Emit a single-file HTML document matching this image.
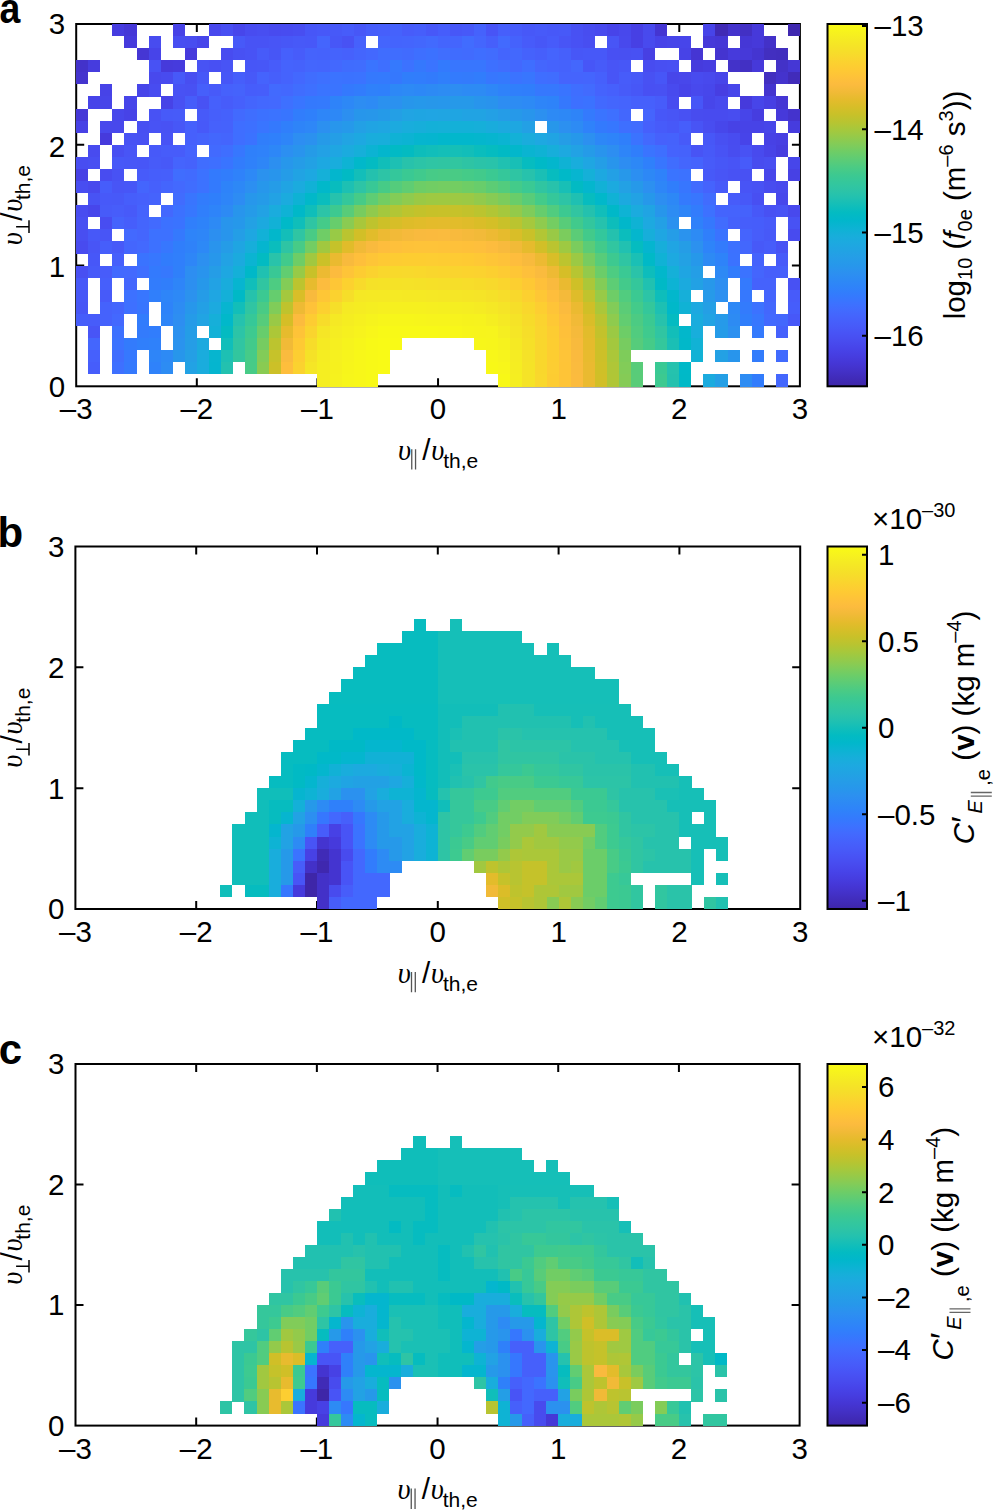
<!DOCTYPE html><html><head><meta charset="utf-8"><style>html,body{margin:0;padding:0;background:#fff;overflow:hidden}svg{display:block}text{font-family:"Liberation Sans",sans-serif;font-size:29.5px;fill:#000}.u{font-family:"Liberation Serif",serif;font-style:italic;font-size:28.5px}.sub{font-size:20px}.sup{font-size:20px}.pl{font-weight:bold;font-size:42px}</style></head><body>
<svg width="994" height="1510" viewBox="0 0 994 1510">
<rect width="994" height="1510" fill="#fff"/>
<defs><linearGradient id="pg" x1="0" y1="1" x2="0" y2="0"><stop offset="0.0000" stop-color="#3e26a8"/><stop offset="0.0208" stop-color="#402bb8"/><stop offset="0.0417" stop-color="#4331c7"/><stop offset="0.0625" stop-color="#4536d5"/><stop offset="0.0833" stop-color="#463de0"/><stop offset="0.1042" stop-color="#4744e9"/><stop offset="0.1250" stop-color="#484cef"/><stop offset="0.1458" stop-color="#4853f5"/><stop offset="0.1667" stop-color="#475bf9"/><stop offset="0.1875" stop-color="#4562fc"/><stop offset="0.2083" stop-color="#426afe"/><stop offset="0.2292" stop-color="#3c72ff"/><stop offset="0.2500" stop-color="#347afd"/><stop offset="0.2708" stop-color="#2f82fa"/><stop offset="0.2917" stop-color="#2d89f5"/><stop offset="0.3125" stop-color="#2c90f0"/><stop offset="0.3333" stop-color="#2797eb"/><stop offset="0.3542" stop-color="#259de7"/><stop offset="0.3750" stop-color="#21a3e3"/><stop offset="0.3958" stop-color="#1da9e0"/><stop offset="0.4167" stop-color="#17aeda"/><stop offset="0.4375" stop-color="#0cb3d3"/><stop offset="0.4583" stop-color="#01b7cb"/><stop offset="0.4792" stop-color="#03bbc2"/><stop offset="0.5000" stop-color="#12beb9"/><stop offset="0.5208" stop-color="#22c1b0"/><stop offset="0.5417" stop-color="#2dc4a6"/><stop offset="0.5625" stop-color="#34c79c"/><stop offset="0.5833" stop-color="#3dc990"/><stop offset="0.6042" stop-color="#4bcb84"/><stop offset="0.6250" stop-color="#5ccc76"/><stop offset="0.6458" stop-color="#6dcd67"/><stop offset="0.6667" stop-color="#81cc59"/><stop offset="0.6875" stop-color="#94ca4a"/><stop offset="0.7083" stop-color="#a6c83c"/><stop offset="0.7292" stop-color="#b8c431"/><stop offset="0.7500" stop-color="#c8c129"/><stop offset="0.7708" stop-color="#d7be28"/><stop offset="0.7917" stop-color="#e5bb2c"/><stop offset="0.8125" stop-color="#f1ba37"/><stop offset="0.8333" stop-color="#fcbb3e"/><stop offset="0.8542" stop-color="#fec239"/><stop offset="0.8750" stop-color="#feca33"/><stop offset="0.8958" stop-color="#fbd22f"/><stop offset="0.9167" stop-color="#f7db2b"/><stop offset="0.9375" stop-color="#f5e327"/><stop offset="0.9583" stop-color="#f5eb23"/><stop offset="0.9792" stop-color="#f7f31d"/><stop offset="1.0000" stop-color="#f9fb15"/></linearGradient></defs>
<rect x="76.20" y="24.00" width="723.70" height="362.30" fill="none" stroke="#000" stroke-width="2"/>
<path d="M196.82 386.30v-8M196.82 24.00v8M317.43 386.30v-8M317.43 24.00v8M438.05 386.30v-8M438.05 24.00v8M558.67 386.30v-8M558.67 24.00v8M679.28 386.30v-8M679.28 24.00v8M76.20 265.53h8M799.90 265.53h-8M76.20 144.77h8M799.90 144.77h-8" stroke="#000" stroke-width="2" fill="none"/>
<g shape-rendering="crispEdges">
<rect x="112.38" y="24.00" width="12.11" height="12.13" fill="#463cdf"/>
<rect x="124.45" y="24.00" width="12.11" height="12.13" fill="#4537d7"/>
<rect x="172.69" y="24.00" width="12.11" height="12.13" fill="#4742e6"/>
<rect x="208.88" y="24.00" width="12.11" height="12.13" fill="#4848ed"/>
<rect x="220.94" y="24.00" width="12.11" height="12.13" fill="#484ff2"/>
<rect x="233.00" y="24.00" width="12.11" height="12.13" fill="#4746eb"/>
<rect x="245.06" y="24.00" width="12.11" height="12.13" fill="#484cf0"/>
<rect x="257.12" y="24.00" width="12.11" height="12.13" fill="#484ef1"/>
<rect x="269.19" y="24.00" width="12.11" height="12.13" fill="#484bef"/>
<rect x="281.25" y="24.00" width="12.11" height="12.13" fill="#484cf0"/>
<rect x="293.31" y="24.00" width="12.11" height="12.13" fill="#484ef1"/>
<rect x="305.37" y="24.00" width="12.11" height="12.13" fill="#4756f7"/>
<rect x="317.43" y="24.00" width="12.11" height="12.13" fill="#4758f8"/>
<rect x="329.50" y="24.00" width="12.11" height="12.13" fill="#4759f8"/>
<rect x="341.56" y="24.00" width="12.11" height="12.13" fill="#475cfa"/>
<rect x="353.62" y="24.00" width="12.11" height="12.13" fill="#4757f7"/>
<rect x="365.68" y="24.00" width="12.11" height="12.13" fill="#465dfa"/>
<rect x="377.74" y="24.00" width="12.11" height="12.13" fill="#465ffb"/>
<rect x="389.80" y="24.00" width="12.11" height="12.13" fill="#4562fc"/>
<rect x="401.86" y="24.00" width="12.11" height="12.13" fill="#475cfa"/>
<rect x="413.93" y="24.00" width="12.11" height="12.13" fill="#465efb"/>
<rect x="425.99" y="24.00" width="12.11" height="12.13" fill="#4758f8"/>
<rect x="438.05" y="24.00" width="12.11" height="12.13" fill="#465dfb"/>
<rect x="450.11" y="24.00" width="12.11" height="12.13" fill="#4757f7"/>
<rect x="462.17" y="24.00" width="12.11" height="12.13" fill="#4759f8"/>
<rect x="474.23" y="24.00" width="12.11" height="12.13" fill="#4562fc"/>
<rect x="486.30" y="24.00" width="12.11" height="12.13" fill="#4854f6"/>
<rect x="498.36" y="24.00" width="12.11" height="12.13" fill="#465ffb"/>
<rect x="510.42" y="24.00" width="12.11" height="12.13" fill="#475cfa"/>
<rect x="522.48" y="24.00" width="12.11" height="12.13" fill="#4758f8"/>
<rect x="534.54" y="24.00" width="12.11" height="12.13" fill="#475af9"/>
<rect x="546.61" y="24.00" width="12.11" height="12.13" fill="#4758f8"/>
<rect x="558.67" y="24.00" width="12.11" height="12.13" fill="#4759f8"/>
<rect x="570.73" y="24.00" width="12.11" height="12.13" fill="#4851f3"/>
<rect x="582.79" y="24.00" width="12.11" height="12.13" fill="#484df0"/>
<rect x="594.85" y="24.00" width="12.11" height="12.13" fill="#484aee"/>
<rect x="606.91" y="24.00" width="12.11" height="12.13" fill="#4744e9"/>
<rect x="618.98" y="24.00" width="12.11" height="12.13" fill="#4848ec"/>
<rect x="631.04" y="24.00" width="12.11" height="12.13" fill="#4740e4"/>
<rect x="643.10" y="24.00" width="12.11" height="12.13" fill="#484aed"/>
<rect x="655.16" y="24.00" width="12.11" height="12.13" fill="#4435d2"/>
<rect x="703.41" y="24.00" width="12.11" height="12.13" fill="#4744e8"/>
<rect x="715.47" y="24.00" width="12.11" height="12.13" fill="#402ab5"/>
<rect x="727.53" y="24.00" width="12.11" height="12.13" fill="#4433cc"/>
<rect x="739.59" y="24.00" width="12.11" height="12.13" fill="#4230c4"/>
<rect x="751.65" y="24.00" width="12.11" height="12.13" fill="#4639da"/>
<rect x="787.84" y="24.00" width="12.11" height="12.13" fill="#3f28af"/>
<rect x="124.45" y="36.08" width="12.11" height="12.13" fill="#463adc"/>
<rect x="148.57" y="36.08" width="12.11" height="12.13" fill="#484cef"/>
<rect x="172.69" y="36.08" width="12.11" height="12.13" fill="#484ef1"/>
<rect x="184.75" y="36.08" width="12.11" height="12.13" fill="#484df0"/>
<rect x="196.82" y="36.08" width="12.11" height="12.13" fill="#4746ea"/>
<rect x="233.00" y="36.08" width="12.11" height="12.13" fill="#4759f8"/>
<rect x="245.06" y="36.08" width="24.17" height="12.13" fill="#4853f5"/>
<rect x="269.19" y="36.08" width="12.11" height="12.13" fill="#4855f6"/>
<rect x="281.25" y="36.08" width="12.11" height="12.13" fill="#4757f7"/>
<rect x="293.31" y="36.08" width="12.11" height="12.13" fill="#4759f8"/>
<rect x="305.37" y="36.08" width="12.11" height="12.13" fill="#4758f8"/>
<rect x="317.43" y="36.08" width="12.11" height="12.13" fill="#4465fd"/>
<rect x="329.50" y="36.08" width="12.11" height="12.13" fill="#4757f7"/>
<rect x="341.56" y="36.08" width="12.11" height="12.13" fill="#4852f4"/>
<rect x="353.62" y="36.08" width="12.11" height="12.13" fill="#4661fc"/>
<rect x="377.74" y="36.08" width="12.11" height="12.13" fill="#4465fd"/>
<rect x="389.80" y="36.08" width="12.11" height="12.13" fill="#4464fd"/>
<rect x="401.86" y="36.08" width="12.11" height="12.13" fill="#4465fd"/>
<rect x="413.93" y="36.08" width="12.11" height="12.13" fill="#4367fd"/>
<rect x="425.99" y="36.08" width="12.11" height="12.13" fill="#426afe"/>
<rect x="438.05" y="36.08" width="24.17" height="12.13" fill="#4465fd"/>
<rect x="462.17" y="36.08" width="12.11" height="12.13" fill="#416cfe"/>
<rect x="474.23" y="36.08" width="12.11" height="12.13" fill="#4466fd"/>
<rect x="486.30" y="36.08" width="12.11" height="12.13" fill="#465ffb"/>
<rect x="498.36" y="36.08" width="12.11" height="12.13" fill="#426afe"/>
<rect x="510.42" y="36.08" width="12.11" height="12.13" fill="#4562fc"/>
<rect x="522.48" y="36.08" width="12.11" height="12.13" fill="#475bfa"/>
<rect x="534.54" y="36.08" width="12.11" height="12.13" fill="#4757f7"/>
<rect x="546.61" y="36.08" width="12.11" height="12.13" fill="#475bfa"/>
<rect x="558.67" y="36.08" width="12.11" height="12.13" fill="#4855f6"/>
<rect x="570.73" y="36.08" width="12.11" height="12.13" fill="#4851f4"/>
<rect x="582.79" y="36.08" width="12.11" height="12.13" fill="#484ef1"/>
<rect x="606.91" y="36.08" width="12.11" height="12.13" fill="#4855f6"/>
<rect x="618.98" y="36.08" width="12.11" height="12.13" fill="#4849ed"/>
<rect x="631.04" y="36.08" width="12.11" height="12.13" fill="#4740e4"/>
<rect x="643.10" y="36.08" width="12.11" height="12.13" fill="#484aee"/>
<rect x="655.16" y="36.08" width="12.11" height="12.13" fill="#4743e8"/>
<rect x="667.22" y="36.08" width="12.11" height="12.13" fill="#4745e9"/>
<rect x="679.28" y="36.08" width="12.11" height="12.13" fill="#4745ea"/>
<rect x="703.41" y="36.08" width="12.11" height="12.13" fill="#4639d9"/>
<rect x="715.47" y="36.08" width="12.11" height="12.13" fill="#4537d6"/>
<rect x="739.59" y="36.08" width="12.11" height="12.13" fill="#4537d6"/>
<rect x="751.65" y="36.08" width="12.11" height="12.13" fill="#4639da"/>
<rect x="763.72" y="36.08" width="12.11" height="12.13" fill="#4331c8"/>
<rect x="136.51" y="48.15" width="12.11" height="12.13" fill="#4536d4"/>
<rect x="148.57" y="48.15" width="12.11" height="12.13" fill="#4744e9"/>
<rect x="184.75" y="48.15" width="12.11" height="12.13" fill="#463adc"/>
<rect x="220.94" y="48.15" width="12.11" height="12.13" fill="#484cf0"/>
<rect x="233.00" y="48.15" width="12.11" height="12.13" fill="#4851f3"/>
<rect x="245.06" y="48.15" width="12.11" height="12.13" fill="#4853f5"/>
<rect x="257.12" y="48.15" width="12.11" height="12.13" fill="#475bf9"/>
<rect x="269.19" y="48.15" width="12.11" height="12.13" fill="#4756f6"/>
<rect x="281.25" y="48.15" width="12.11" height="12.13" fill="#4660fc"/>
<rect x="293.31" y="48.15" width="12.11" height="12.13" fill="#475cfa"/>
<rect x="305.37" y="48.15" width="12.11" height="12.13" fill="#4563fc"/>
<rect x="317.43" y="48.15" width="12.11" height="12.13" fill="#4562fc"/>
<rect x="329.50" y="48.15" width="12.11" height="12.13" fill="#4563fc"/>
<rect x="341.56" y="48.15" width="12.11" height="12.13" fill="#4661fc"/>
<rect x="353.62" y="48.15" width="12.11" height="12.13" fill="#4465fd"/>
<rect x="365.68" y="48.15" width="12.11" height="12.13" fill="#4368fe"/>
<rect x="377.74" y="48.15" width="24.17" height="12.13" fill="#406dfe"/>
<rect x="401.86" y="48.15" width="12.11" height="12.13" fill="#416bfe"/>
<rect x="413.93" y="48.15" width="12.11" height="12.13" fill="#3e6fff"/>
<rect x="425.99" y="48.15" width="12.11" height="12.13" fill="#3c71ff"/>
<rect x="438.05" y="48.15" width="12.11" height="12.13" fill="#406efe"/>
<rect x="450.11" y="48.15" width="12.11" height="12.13" fill="#406cfe"/>
<rect x="462.17" y="48.15" width="12.11" height="12.13" fill="#416bfe"/>
<rect x="474.23" y="48.15" width="12.11" height="12.13" fill="#3f6eff"/>
<rect x="486.30" y="48.15" width="12.11" height="12.13" fill="#416cfe"/>
<rect x="498.36" y="48.15" width="12.11" height="12.13" fill="#4465fd"/>
<rect x="510.42" y="48.15" width="12.11" height="12.13" fill="#4368fd"/>
<rect x="522.48" y="48.15" width="12.11" height="12.13" fill="#4562fc"/>
<rect x="534.54" y="48.15" width="12.11" height="12.13" fill="#465ffb"/>
<rect x="546.61" y="48.15" width="12.11" height="12.13" fill="#4564fd"/>
<rect x="558.67" y="48.15" width="12.11" height="12.13" fill="#4660fb"/>
<rect x="570.73" y="48.15" width="12.11" height="12.13" fill="#4757f7"/>
<rect x="582.79" y="48.15" width="24.17" height="12.13" fill="#4758f8"/>
<rect x="606.91" y="48.15" width="12.11" height="12.13" fill="#4850f3"/>
<rect x="618.98" y="48.15" width="12.11" height="12.13" fill="#4850f2"/>
<rect x="631.04" y="48.15" width="12.11" height="12.13" fill="#4851f3"/>
<rect x="643.10" y="48.15" width="12.11" height="12.13" fill="#4740e3"/>
<rect x="679.28" y="48.15" width="12.11" height="12.13" fill="#4743e7"/>
<rect x="691.35" y="48.15" width="12.11" height="12.13" fill="#4535d3"/>
<rect x="715.47" y="48.15" width="12.11" height="12.13" fill="#4434d0"/>
<rect x="727.53" y="48.15" width="12.11" height="12.13" fill="#463adc"/>
<rect x="739.59" y="48.15" width="12.11" height="12.13" fill="#4639d9"/>
<rect x="751.65" y="48.15" width="12.11" height="12.13" fill="#4435d1"/>
<rect x="763.72" y="48.15" width="12.11" height="12.13" fill="#422fc0"/>
<rect x="775.78" y="48.15" width="12.11" height="12.13" fill="#412ebe"/>
<rect x="76.20" y="60.23" width="12.11" height="12.13" fill="#4332ca"/>
<rect x="88.26" y="60.23" width="12.11" height="12.13" fill="#463cde"/>
<rect x="148.57" y="60.23" width="12.11" height="12.13" fill="#4852f4"/>
<rect x="160.63" y="60.23" width="12.11" height="12.13" fill="#463adb"/>
<rect x="172.69" y="60.23" width="12.11" height="12.13" fill="#463bdd"/>
<rect x="196.82" y="60.23" width="12.11" height="12.13" fill="#4853f4"/>
<rect x="208.88" y="60.23" width="12.11" height="12.13" fill="#4850f3"/>
<rect x="220.94" y="60.23" width="12.11" height="12.13" fill="#4854f5"/>
<rect x="245.06" y="60.23" width="12.11" height="12.13" fill="#4756f7"/>
<rect x="257.12" y="60.23" width="12.11" height="12.13" fill="#4757f7"/>
<rect x="269.19" y="60.23" width="12.11" height="12.13" fill="#475cfa"/>
<rect x="281.25" y="60.23" width="12.11" height="12.13" fill="#4563fd"/>
<rect x="293.31" y="60.23" width="12.11" height="12.13" fill="#4562fc"/>
<rect x="305.37" y="60.23" width="12.11" height="12.13" fill="#4466fd"/>
<rect x="317.43" y="60.23" width="12.11" height="12.13" fill="#4465fd"/>
<rect x="329.50" y="60.23" width="12.11" height="12.13" fill="#4368fe"/>
<rect x="341.56" y="60.23" width="12.11" height="12.13" fill="#406cfe"/>
<rect x="353.62" y="60.23" width="12.11" height="12.13" fill="#406dfe"/>
<rect x="365.68" y="60.23" width="12.11" height="12.13" fill="#3a74ff"/>
<rect x="377.74" y="60.23" width="12.11" height="12.13" fill="#3e6fff"/>
<rect x="389.80" y="60.23" width="12.11" height="12.13" fill="#3579fd"/>
<rect x="401.86" y="60.23" width="12.11" height="12.13" fill="#3c72ff"/>
<rect x="413.93" y="60.23" width="12.11" height="12.13" fill="#3578fd"/>
<rect x="425.99" y="60.23" width="12.11" height="12.13" fill="#3a74ff"/>
<rect x="438.05" y="60.23" width="12.11" height="12.13" fill="#337afd"/>
<rect x="450.11" y="60.23" width="36.23" height="12.13" fill="#3876fe"/>
<rect x="486.30" y="60.23" width="12.11" height="12.13" fill="#3d70ff"/>
<rect x="498.36" y="60.23" width="12.11" height="12.13" fill="#406dfe"/>
<rect x="510.42" y="60.23" width="12.11" height="12.13" fill="#4368fe"/>
<rect x="522.48" y="60.23" width="12.11" height="12.13" fill="#3f6eff"/>
<rect x="534.54" y="60.23" width="12.11" height="12.13" fill="#4466fd"/>
<rect x="546.61" y="60.23" width="12.11" height="12.13" fill="#4563fd"/>
<rect x="558.67" y="60.23" width="12.11" height="12.13" fill="#4562fc"/>
<rect x="570.73" y="60.23" width="12.11" height="12.13" fill="#4467fd"/>
<rect x="582.79" y="60.23" width="12.11" height="12.13" fill="#4756f7"/>
<rect x="594.85" y="60.23" width="12.11" height="12.13" fill="#475bf9"/>
<rect x="606.91" y="60.23" width="12.11" height="12.13" fill="#4855f6"/>
<rect x="618.98" y="60.23" width="12.11" height="12.13" fill="#4757f7"/>
<rect x="643.10" y="60.23" width="12.11" height="12.13" fill="#484cf0"/>
<rect x="655.16" y="60.23" width="12.11" height="12.13" fill="#484ff2"/>
<rect x="667.22" y="60.23" width="12.11" height="12.13" fill="#4850f3"/>
<rect x="691.35" y="60.23" width="12.11" height="12.13" fill="#463bdd"/>
<rect x="703.41" y="60.23" width="12.11" height="12.13" fill="#463de0"/>
<rect x="727.53" y="60.23" width="12.11" height="12.13" fill="#4332c9"/>
<rect x="739.59" y="60.23" width="12.11" height="12.13" fill="#4230c4"/>
<rect x="751.65" y="60.23" width="12.11" height="12.13" fill="#4639da"/>
<rect x="775.78" y="60.23" width="12.11" height="12.13" fill="#4332c8"/>
<rect x="787.84" y="60.23" width="12.11" height="12.13" fill="#4537d5"/>
<rect x="76.20" y="72.31" width="12.11" height="12.13" fill="#4434ce"/>
<rect x="148.57" y="72.31" width="12.11" height="12.13" fill="#4849ed"/>
<rect x="160.63" y="72.31" width="12.11" height="12.13" fill="#484bef"/>
<rect x="172.69" y="72.31" width="12.11" height="12.13" fill="#4759f8"/>
<rect x="184.75" y="72.31" width="12.11" height="12.13" fill="#484ef1"/>
<rect x="196.82" y="72.31" width="12.11" height="12.13" fill="#4758f8"/>
<rect x="220.94" y="72.31" width="12.11" height="12.13" fill="#4756f7"/>
<rect x="233.00" y="72.31" width="12.11" height="12.13" fill="#465efb"/>
<rect x="245.06" y="72.31" width="12.11" height="12.13" fill="#4759f8"/>
<rect x="257.12" y="72.31" width="12.11" height="12.13" fill="#4563fd"/>
<rect x="269.19" y="72.31" width="12.11" height="12.13" fill="#465ffb"/>
<rect x="281.25" y="72.31" width="12.11" height="12.13" fill="#4563fd"/>
<rect x="293.31" y="72.31" width="12.11" height="12.13" fill="#4368fe"/>
<rect x="305.37" y="72.31" width="12.11" height="12.13" fill="#406dfe"/>
<rect x="317.43" y="72.31" width="12.11" height="12.13" fill="#3e70ff"/>
<rect x="329.50" y="72.31" width="12.11" height="12.13" fill="#3b73ff"/>
<rect x="341.56" y="72.31" width="12.11" height="12.13" fill="#3b72ff"/>
<rect x="353.62" y="72.31" width="12.11" height="12.13" fill="#3b73ff"/>
<rect x="365.68" y="72.31" width="12.11" height="12.13" fill="#3579fd"/>
<rect x="377.74" y="72.31" width="12.11" height="12.13" fill="#347afd"/>
<rect x="389.80" y="72.31" width="12.11" height="12.13" fill="#3578fd"/>
<rect x="401.86" y="72.31" width="12.11" height="12.13" fill="#307efb"/>
<rect x="413.93" y="72.31" width="12.11" height="12.13" fill="#317dfc"/>
<rect x="425.99" y="72.31" width="12.11" height="12.13" fill="#327bfc"/>
<rect x="438.05" y="72.31" width="12.11" height="12.13" fill="#307ffb"/>
<rect x="450.11" y="72.31" width="12.11" height="12.13" fill="#337bfd"/>
<rect x="462.17" y="72.31" width="12.11" height="12.13" fill="#337bfc"/>
<rect x="474.23" y="72.31" width="12.11" height="12.13" fill="#317dfc"/>
<rect x="486.30" y="72.31" width="12.11" height="12.13" fill="#3777fe"/>
<rect x="498.36" y="72.31" width="12.11" height="12.13" fill="#3579fd"/>
<rect x="510.42" y="72.31" width="12.11" height="12.13" fill="#3b73ff"/>
<rect x="522.48" y="72.31" width="12.11" height="12.13" fill="#3876fe"/>
<rect x="534.54" y="72.31" width="12.11" height="12.13" fill="#3f6eff"/>
<rect x="546.61" y="72.31" width="12.11" height="12.13" fill="#406dfe"/>
<rect x="558.67" y="72.31" width="24.17" height="12.13" fill="#4564fd"/>
<rect x="582.79" y="72.31" width="12.11" height="12.13" fill="#4465fd"/>
<rect x="594.85" y="72.31" width="12.11" height="12.13" fill="#4660fc"/>
<rect x="606.91" y="72.31" width="12.11" height="12.13" fill="#4855f6"/>
<rect x="618.98" y="72.31" width="12.11" height="12.13" fill="#475cfa"/>
<rect x="631.04" y="72.31" width="12.11" height="12.13" fill="#4759f8"/>
<rect x="643.10" y="72.31" width="12.11" height="12.13" fill="#4851f3"/>
<rect x="655.16" y="72.31" width="12.11" height="12.13" fill="#4756f7"/>
<rect x="667.22" y="72.31" width="12.11" height="12.13" fill="#4746ea"/>
<rect x="679.28" y="72.31" width="12.11" height="12.13" fill="#4847eb"/>
<rect x="691.35" y="72.31" width="12.11" height="12.13" fill="#484bef"/>
<rect x="703.41" y="72.31" width="12.11" height="12.13" fill="#4849ed"/>
<rect x="715.47" y="72.31" width="12.11" height="12.13" fill="#4745e9"/>
<rect x="763.72" y="72.31" width="12.11" height="12.13" fill="#422fc0"/>
<rect x="775.78" y="72.31" width="12.11" height="12.13" fill="#4433cd"/>
<rect x="787.84" y="72.31" width="12.11" height="12.13" fill="#412cba"/>
<rect x="100.32" y="84.38" width="12.11" height="12.13" fill="#4743e7"/>
<rect x="136.51" y="84.38" width="12.11" height="12.13" fill="#4745e9"/>
<rect x="148.57" y="84.38" width="12.11" height="12.13" fill="#484cf0"/>
<rect x="172.69" y="84.38" width="12.11" height="12.13" fill="#4852f4"/>
<rect x="184.75" y="84.38" width="12.11" height="12.13" fill="#4851f3"/>
<rect x="196.82" y="84.38" width="12.11" height="12.13" fill="#465ffb"/>
<rect x="208.88" y="84.38" width="12.11" height="12.13" fill="#475af9"/>
<rect x="220.94" y="84.38" width="12.11" height="12.13" fill="#4661fc"/>
<rect x="233.00" y="84.38" width="12.11" height="12.13" fill="#4563fc"/>
<rect x="245.06" y="84.38" width="12.11" height="12.13" fill="#465dfb"/>
<rect x="257.12" y="84.38" width="12.11" height="12.13" fill="#465efb"/>
<rect x="269.19" y="84.38" width="12.11" height="12.13" fill="#426afe"/>
<rect x="281.25" y="84.38" width="12.11" height="12.13" fill="#4368fe"/>
<rect x="293.31" y="84.38" width="12.11" height="12.13" fill="#406dfe"/>
<rect x="305.37" y="84.38" width="12.11" height="12.13" fill="#3e70ff"/>
<rect x="317.43" y="84.38" width="24.17" height="12.13" fill="#3a74ff"/>
<rect x="341.56" y="84.38" width="12.11" height="12.13" fill="#3479fd"/>
<rect x="353.62" y="84.38" width="12.11" height="12.13" fill="#327cfc"/>
<rect x="365.68" y="84.38" width="12.11" height="12.13" fill="#2f81fa"/>
<rect x="377.74" y="84.38" width="12.11" height="12.13" fill="#2f80fb"/>
<rect x="389.80" y="84.38" width="12.11" height="12.13" fill="#2d88f6"/>
<rect x="401.86" y="84.38" width="12.11" height="12.13" fill="#2d8af5"/>
<rect x="413.93" y="84.38" width="12.11" height="12.13" fill="#2d88f6"/>
<rect x="425.99" y="84.38" width="12.11" height="12.13" fill="#2d8af4"/>
<rect x="438.05" y="84.38" width="12.11" height="12.13" fill="#2d8cf3"/>
<rect x="450.11" y="84.38" width="12.11" height="12.13" fill="#2d8df2"/>
<rect x="462.17" y="84.38" width="24.17" height="12.13" fill="#2d8bf4"/>
<rect x="486.30" y="84.38" width="12.11" height="12.13" fill="#2e87f7"/>
<rect x="498.36" y="84.38" width="12.11" height="12.13" fill="#2f82fa"/>
<rect x="510.42" y="84.38" width="12.11" height="12.13" fill="#307ffb"/>
<rect x="522.48" y="84.38" width="12.11" height="12.13" fill="#307efb"/>
<rect x="534.54" y="84.38" width="24.17" height="12.13" fill="#3678fd"/>
<rect x="558.67" y="84.38" width="12.11" height="12.13" fill="#3974ff"/>
<rect x="570.73" y="84.38" width="12.11" height="12.13" fill="#3f6eff"/>
<rect x="582.79" y="84.38" width="12.11" height="12.13" fill="#426bfe"/>
<rect x="594.85" y="84.38" width="12.11" height="12.13" fill="#4563fd"/>
<rect x="606.91" y="84.38" width="12.11" height="12.13" fill="#4660fc"/>
<rect x="618.98" y="84.38" width="12.11" height="12.13" fill="#475bf9"/>
<rect x="631.04" y="84.38" width="12.11" height="12.13" fill="#4757f7"/>
<rect x="643.10" y="84.38" width="12.11" height="12.13" fill="#4850f3"/>
<rect x="655.16" y="84.38" width="12.11" height="12.13" fill="#4851f3"/>
<rect x="667.22" y="84.38" width="12.11" height="12.13" fill="#484aee"/>
<rect x="679.28" y="84.38" width="12.11" height="12.13" fill="#4744e9"/>
<rect x="691.35" y="84.38" width="12.11" height="12.13" fill="#4849ed"/>
<rect x="703.41" y="84.38" width="12.11" height="12.13" fill="#4747eb"/>
<rect x="715.47" y="84.38" width="12.11" height="12.13" fill="#473ee2"/>
<rect x="727.53" y="84.38" width="12.11" height="12.13" fill="#4746ea"/>
<rect x="763.72" y="84.38" width="12.11" height="12.13" fill="#4434cf"/>
<rect x="88.26" y="96.46" width="12.11" height="12.13" fill="#4744e9"/>
<rect x="100.32" y="96.46" width="12.11" height="12.13" fill="#4745e9"/>
<rect x="124.45" y="96.46" width="12.11" height="12.13" fill="#4745e9"/>
<rect x="160.63" y="96.46" width="12.11" height="12.13" fill="#4743e7"/>
<rect x="172.69" y="96.46" width="12.11" height="12.13" fill="#4851f3"/>
<rect x="184.75" y="96.46" width="12.11" height="12.13" fill="#465dfa"/>
<rect x="196.82" y="96.46" width="12.11" height="12.13" fill="#4852f4"/>
<rect x="208.88" y="96.46" width="12.11" height="12.13" fill="#4660fc"/>
<rect x="220.94" y="96.46" width="12.11" height="12.13" fill="#475cfa"/>
<rect x="233.00" y="96.46" width="12.11" height="12.13" fill="#4660fc"/>
<rect x="245.06" y="96.46" width="12.11" height="12.13" fill="#4465fd"/>
<rect x="257.12" y="96.46" width="12.11" height="12.13" fill="#4368fe"/>
<rect x="269.19" y="96.46" width="12.11" height="12.13" fill="#4369fe"/>
<rect x="281.25" y="96.46" width="12.11" height="12.13" fill="#3e70ff"/>
<rect x="293.31" y="96.46" width="12.11" height="12.13" fill="#3975ff"/>
<rect x="305.37" y="96.46" width="12.11" height="12.13" fill="#3479fd"/>
<rect x="317.43" y="96.46" width="12.11" height="12.13" fill="#347afd"/>
<rect x="329.50" y="96.46" width="12.11" height="12.13" fill="#2e83f9"/>
<rect x="341.56" y="96.46" width="12.11" height="12.13" fill="#2d88f6"/>
<rect x="353.62" y="96.46" width="12.11" height="12.13" fill="#2d8df2"/>
<rect x="365.68" y="96.46" width="12.11" height="12.13" fill="#2d8bf4"/>
<rect x="377.74" y="96.46" width="24.17" height="12.13" fill="#2b91ef"/>
<rect x="401.86" y="96.46" width="12.11" height="12.13" fill="#2796eb"/>
<rect x="413.93" y="96.46" width="12.11" height="12.13" fill="#2698ea"/>
<rect x="425.99" y="96.46" width="12.11" height="12.13" fill="#2797ea"/>
<rect x="438.05" y="96.46" width="12.11" height="12.13" fill="#2797eb"/>
<rect x="450.11" y="96.46" width="24.17" height="12.13" fill="#2699e9"/>
<rect x="474.23" y="96.46" width="12.11" height="12.13" fill="#2895ec"/>
<rect x="486.30" y="96.46" width="12.11" height="12.13" fill="#2993ed"/>
<rect x="498.36" y="96.46" width="12.11" height="12.13" fill="#2d8df2"/>
<rect x="510.42" y="96.46" width="12.11" height="12.13" fill="#2d8cf3"/>
<rect x="522.48" y="96.46" width="12.11" height="12.13" fill="#2d8af5"/>
<rect x="534.54" y="96.46" width="12.11" height="12.13" fill="#2e85f8"/>
<rect x="546.61" y="96.46" width="12.11" height="12.13" fill="#2e83f9"/>
<rect x="558.67" y="96.46" width="12.11" height="12.13" fill="#3578fd"/>
<rect x="570.73" y="96.46" width="12.11" height="12.13" fill="#3d70ff"/>
<rect x="582.79" y="96.46" width="12.11" height="12.13" fill="#3b72ff"/>
<rect x="594.85" y="96.46" width="12.11" height="12.13" fill="#4269fe"/>
<rect x="606.91" y="96.46" width="12.11" height="12.13" fill="#4466fd"/>
<rect x="618.98" y="96.46" width="12.11" height="12.13" fill="#4564fd"/>
<rect x="631.04" y="96.46" width="24.17" height="12.13" fill="#4660fc"/>
<rect x="655.16" y="96.46" width="12.11" height="12.13" fill="#475cfa"/>
<rect x="667.22" y="96.46" width="12.11" height="12.13" fill="#484cf0"/>
<rect x="691.35" y="96.46" width="12.11" height="12.13" fill="#4756f7"/>
<rect x="703.41" y="96.46" width="12.11" height="12.13" fill="#4746ea"/>
<rect x="715.47" y="96.46" width="12.11" height="12.13" fill="#484aee"/>
<rect x="739.59" y="96.46" width="12.11" height="12.13" fill="#463adc"/>
<rect x="751.65" y="96.46" width="12.11" height="12.13" fill="#4745e9"/>
<rect x="763.72" y="96.46" width="12.11" height="12.13" fill="#473fe3"/>
<rect x="775.78" y="96.46" width="12.11" height="12.13" fill="#4536d4"/>
<rect x="76.20" y="108.54" width="12.11" height="12.13" fill="#4538d7"/>
<rect x="112.38" y="108.54" width="12.11" height="12.13" fill="#4747eb"/>
<rect x="124.45" y="108.54" width="12.11" height="12.13" fill="#4743e7"/>
<rect x="148.57" y="108.54" width="12.11" height="12.13" fill="#4852f4"/>
<rect x="160.63" y="108.54" width="12.11" height="12.13" fill="#475af9"/>
<rect x="172.69" y="108.54" width="12.11" height="12.13" fill="#475bf9"/>
<rect x="196.82" y="108.54" width="12.11" height="12.13" fill="#475af9"/>
<rect x="208.88" y="108.54" width="12.11" height="12.13" fill="#465ffb"/>
<rect x="220.94" y="108.54" width="12.11" height="12.13" fill="#4561fc"/>
<rect x="233.00" y="108.54" width="12.11" height="12.13" fill="#426afe"/>
<rect x="245.06" y="108.54" width="12.11" height="12.13" fill="#3f6efe"/>
<rect x="257.12" y="108.54" width="12.11" height="12.13" fill="#3c71ff"/>
<rect x="269.19" y="108.54" width="12.11" height="12.13" fill="#3b73ff"/>
<rect x="281.25" y="108.54" width="12.11" height="12.13" fill="#3875fe"/>
<rect x="293.31" y="108.54" width="12.11" height="12.13" fill="#317dfc"/>
<rect x="305.37" y="108.54" width="12.11" height="12.13" fill="#2f80fb"/>
<rect x="317.43" y="108.54" width="12.11" height="12.13" fill="#2e86f8"/>
<rect x="329.50" y="108.54" width="12.11" height="12.13" fill="#2d88f6"/>
<rect x="341.56" y="108.54" width="12.11" height="12.13" fill="#2c8ff0"/>
<rect x="353.62" y="108.54" width="12.11" height="12.13" fill="#2796eb"/>
<rect x="365.68" y="108.54" width="12.11" height="12.13" fill="#2797ea"/>
<rect x="377.74" y="108.54" width="12.11" height="12.13" fill="#259ae8"/>
<rect x="389.80" y="108.54" width="12.11" height="12.13" fill="#249fe5"/>
<rect x="401.86" y="108.54" width="12.11" height="12.13" fill="#21a4e3"/>
<rect x="413.93" y="108.54" width="12.11" height="12.13" fill="#1fa5e2"/>
<rect x="425.99" y="108.54" width="12.11" height="12.13" fill="#20a5e3"/>
<rect x="438.05" y="108.54" width="12.11" height="12.13" fill="#20a5e2"/>
<rect x="450.11" y="108.54" width="12.11" height="12.13" fill="#1fa5e2"/>
<rect x="462.17" y="108.54" width="24.17" height="12.13" fill="#21a3e3"/>
<rect x="486.30" y="108.54" width="12.11" height="12.13" fill="#23a0e5"/>
<rect x="498.36" y="108.54" width="12.11" height="12.13" fill="#259ce7"/>
<rect x="510.42" y="108.54" width="12.11" height="12.13" fill="#2699e9"/>
<rect x="522.48" y="108.54" width="12.11" height="12.13" fill="#2895ec"/>
<rect x="534.54" y="108.54" width="12.11" height="12.13" fill="#2c90f0"/>
<rect x="546.61" y="108.54" width="12.11" height="12.13" fill="#2d8af5"/>
<rect x="558.67" y="108.54" width="12.11" height="12.13" fill="#2d88f6"/>
<rect x="570.73" y="108.54" width="12.11" height="12.13" fill="#2e84f8"/>
<rect x="582.79" y="108.54" width="12.11" height="12.13" fill="#347afd"/>
<rect x="594.85" y="108.54" width="12.11" height="12.13" fill="#3a74ff"/>
<rect x="606.91" y="108.54" width="12.11" height="12.13" fill="#3e70ff"/>
<rect x="618.98" y="108.54" width="12.11" height="12.13" fill="#4367fd"/>
<rect x="643.10" y="108.54" width="12.11" height="12.13" fill="#4564fd"/>
<rect x="655.16" y="108.54" width="12.11" height="12.13" fill="#4757f8"/>
<rect x="667.22" y="108.54" width="12.11" height="12.13" fill="#4855f6"/>
<rect x="679.28" y="108.54" width="12.11" height="12.13" fill="#4851f3"/>
<rect x="691.35" y="108.54" width="12.11" height="12.13" fill="#484cef"/>
<rect x="703.41" y="108.54" width="24.17" height="12.13" fill="#484bef"/>
<rect x="727.53" y="108.54" width="12.11" height="12.13" fill="#484df0"/>
<rect x="739.59" y="108.54" width="12.11" height="12.13" fill="#4745e9"/>
<rect x="751.65" y="108.54" width="12.11" height="12.13" fill="#463de0"/>
<rect x="775.78" y="108.54" width="12.11" height="12.13" fill="#4639da"/>
<rect x="787.84" y="108.54" width="12.11" height="12.13" fill="#4433cd"/>
<rect x="76.20" y="120.61" width="12.11" height="12.13" fill="#4741e5"/>
<rect x="100.32" y="120.61" width="24.17" height="12.13" fill="#4848ec"/>
<rect x="136.51" y="120.61" width="12.11" height="12.13" fill="#4850f2"/>
<rect x="148.57" y="120.61" width="12.11" height="12.13" fill="#4853f5"/>
<rect x="160.63" y="120.61" width="12.11" height="12.13" fill="#4852f4"/>
<rect x="172.69" y="120.61" width="12.11" height="12.13" fill="#4757f7"/>
<rect x="184.75" y="120.61" width="12.11" height="12.13" fill="#4660fc"/>
<rect x="196.82" y="120.61" width="12.11" height="12.13" fill="#4759f9"/>
<rect x="208.88" y="120.61" width="12.11" height="12.13" fill="#4661fc"/>
<rect x="220.94" y="120.61" width="12.11" height="12.13" fill="#4562fc"/>
<rect x="233.00" y="120.61" width="12.11" height="12.13" fill="#3f6eff"/>
<rect x="245.06" y="120.61" width="12.11" height="12.13" fill="#3d70ff"/>
<rect x="257.12" y="120.61" width="12.11" height="12.13" fill="#3975ff"/>
<rect x="269.19" y="120.61" width="12.11" height="12.13" fill="#3479fd"/>
<rect x="281.25" y="120.61" width="12.11" height="12.13" fill="#307ffb"/>
<rect x="293.31" y="120.61" width="12.11" height="12.13" fill="#2e84f8"/>
<rect x="305.37" y="120.61" width="12.11" height="12.13" fill="#2e87f7"/>
<rect x="317.43" y="120.61" width="12.11" height="12.13" fill="#2c90f0"/>
<rect x="329.50" y="120.61" width="12.11" height="12.13" fill="#2896ec"/>
<rect x="341.56" y="120.61" width="12.11" height="12.13" fill="#2699ea"/>
<rect x="353.62" y="120.61" width="12.11" height="12.13" fill="#23a0e5"/>
<rect x="365.68" y="120.61" width="12.11" height="12.13" fill="#20a4e3"/>
<rect x="377.74" y="120.61" width="12.11" height="12.13" fill="#1fa6e2"/>
<rect x="389.80" y="120.61" width="12.11" height="12.13" fill="#1caadf"/>
<rect x="401.86" y="120.61" width="12.11" height="12.13" fill="#19addc"/>
<rect x="413.93" y="120.61" width="12.11" height="12.13" fill="#17aeda"/>
<rect x="425.99" y="120.61" width="12.11" height="12.13" fill="#14b0d8"/>
<rect x="438.05" y="120.61" width="12.11" height="12.13" fill="#15b0d8"/>
<rect x="450.11" y="120.61" width="24.17" height="12.13" fill="#14b0d8"/>
<rect x="474.23" y="120.61" width="12.11" height="12.13" fill="#16afd9"/>
<rect x="486.30" y="120.61" width="12.11" height="12.13" fill="#19acdc"/>
<rect x="498.36" y="120.61" width="12.11" height="12.13" fill="#1ca9df"/>
<rect x="510.42" y="120.61" width="12.11" height="12.13" fill="#1ea7e1"/>
<rect x="522.48" y="120.61" width="12.11" height="12.13" fill="#23a0e5"/>
<rect x="546.61" y="120.61" width="12.11" height="12.13" fill="#2797ea"/>
<rect x="558.67" y="120.61" width="12.11" height="12.13" fill="#2c90f0"/>
<rect x="570.73" y="120.61" width="12.11" height="12.13" fill="#2d8bf4"/>
<rect x="582.79" y="120.61" width="12.11" height="12.13" fill="#2f82fa"/>
<rect x="594.85" y="120.61" width="12.11" height="12.13" fill="#337afd"/>
<rect x="606.91" y="120.61" width="12.11" height="12.13" fill="#3677fe"/>
<rect x="618.98" y="120.61" width="12.11" height="12.13" fill="#3e6fff"/>
<rect x="631.04" y="120.61" width="12.11" height="12.13" fill="#416cfe"/>
<rect x="643.10" y="120.61" width="12.11" height="12.13" fill="#4660fc"/>
<rect x="655.16" y="120.61" width="12.11" height="12.13" fill="#475bfa"/>
<rect x="667.22" y="120.61" width="12.11" height="12.13" fill="#4758f8"/>
<rect x="679.28" y="120.61" width="12.11" height="12.13" fill="#465efb"/>
<rect x="691.35" y="120.61" width="12.11" height="12.13" fill="#4854f5"/>
<rect x="703.41" y="120.61" width="12.11" height="12.13" fill="#484df0"/>
<rect x="715.47" y="120.61" width="12.11" height="12.13" fill="#4747eb"/>
<rect x="727.53" y="120.61" width="12.11" height="12.13" fill="#4742e6"/>
<rect x="739.59" y="120.61" width="24.17" height="12.13" fill="#4743e7"/>
<rect x="763.72" y="120.61" width="12.11" height="12.13" fill="#4745e9"/>
<rect x="787.84" y="120.61" width="12.11" height="12.13" fill="#463cde"/>
<rect x="100.32" y="132.69" width="12.11" height="12.13" fill="#463adc"/>
<rect x="124.45" y="132.69" width="12.11" height="12.13" fill="#4852f4"/>
<rect x="136.51" y="132.69" width="12.11" height="12.13" fill="#4851f3"/>
<rect x="160.63" y="132.69" width="12.11" height="12.13" fill="#4853f5"/>
<rect x="184.75" y="132.69" width="12.11" height="12.13" fill="#4660fc"/>
<rect x="196.82" y="132.69" width="12.11" height="12.13" fill="#4563fc"/>
<rect x="208.88" y="132.69" width="12.11" height="12.13" fill="#4367fd"/>
<rect x="220.94" y="132.69" width="12.11" height="12.13" fill="#4465fd"/>
<rect x="233.00" y="132.69" width="12.11" height="12.13" fill="#3f6eff"/>
<rect x="245.06" y="132.69" width="12.11" height="12.13" fill="#3b72ff"/>
<rect x="257.12" y="132.69" width="12.11" height="12.13" fill="#307efb"/>
<rect x="269.19" y="132.69" width="12.11" height="12.13" fill="#2f80fb"/>
<rect x="281.25" y="132.69" width="12.11" height="12.13" fill="#2e85f8"/>
<rect x="293.31" y="132.69" width="12.11" height="12.13" fill="#2d8ef2"/>
<rect x="305.37" y="132.69" width="12.11" height="12.13" fill="#2b91ef"/>
<rect x="317.43" y="132.69" width="12.11" height="12.13" fill="#269ae8"/>
<rect x="329.50" y="132.69" width="12.11" height="12.13" fill="#249ee6"/>
<rect x="341.56" y="132.69" width="12.11" height="12.13" fill="#21a4e3"/>
<rect x="353.62" y="132.69" width="12.11" height="12.13" fill="#1da8e1"/>
<rect x="365.68" y="132.69" width="12.11" height="12.13" fill="#19addc"/>
<rect x="377.74" y="132.69" width="12.11" height="12.13" fill="#18aedb"/>
<rect x="389.80" y="132.69" width="12.11" height="12.13" fill="#0fb2d5"/>
<rect x="401.86" y="132.69" width="12.11" height="12.13" fill="#0cb3d3"/>
<rect x="413.93" y="132.69" width="12.11" height="12.13" fill="#06b5cf"/>
<rect x="425.99" y="132.69" width="12.11" height="12.13" fill="#05b5cf"/>
<rect x="438.05" y="132.69" width="36.23" height="12.13" fill="#02b7cc"/>
<rect x="474.23" y="132.69" width="12.11" height="12.13" fill="#04b6cd"/>
<rect x="486.30" y="132.69" width="12.11" height="12.13" fill="#06b5cf"/>
<rect x="498.36" y="132.69" width="12.11" height="12.13" fill="#0ab4d2"/>
<rect x="510.42" y="132.69" width="12.11" height="12.13" fill="#13b1d7"/>
<rect x="522.48" y="132.69" width="12.11" height="12.13" fill="#1aacdc"/>
<rect x="534.54" y="132.69" width="12.11" height="12.13" fill="#1ea8e1"/>
<rect x="546.61" y="132.69" width="12.11" height="12.13" fill="#20a4e3"/>
<rect x="558.67" y="132.69" width="12.11" height="12.13" fill="#259de6"/>
<rect x="570.73" y="132.69" width="12.11" height="12.13" fill="#2698ea"/>
<rect x="582.79" y="132.69" width="12.11" height="12.13" fill="#2c90f0"/>
<rect x="594.85" y="132.69" width="12.11" height="12.13" fill="#2d87f7"/>
<rect x="606.91" y="132.69" width="12.11" height="12.13" fill="#2e84f9"/>
<rect x="618.98" y="132.69" width="12.11" height="12.13" fill="#2f7ffb"/>
<rect x="631.04" y="132.69" width="12.11" height="12.13" fill="#3b73ff"/>
<rect x="643.10" y="132.69" width="12.11" height="12.13" fill="#4369fe"/>
<rect x="655.16" y="132.69" width="12.11" height="12.13" fill="#4661fc"/>
<rect x="667.22" y="132.69" width="12.11" height="12.13" fill="#4562fc"/>
<rect x="679.28" y="132.69" width="12.11" height="12.13" fill="#475af9"/>
<rect x="703.41" y="132.69" width="12.11" height="12.13" fill="#4757f7"/>
<rect x="715.47" y="132.69" width="12.11" height="12.13" fill="#4850f2"/>
<rect x="727.53" y="132.69" width="12.11" height="12.13" fill="#484cf0"/>
<rect x="739.59" y="132.69" width="12.11" height="12.13" fill="#4744e9"/>
<rect x="763.72" y="132.69" width="12.11" height="12.13" fill="#4741e5"/>
<rect x="775.78" y="132.69" width="12.11" height="12.13" fill="#473fe2"/>
<rect x="88.26" y="144.77" width="12.11" height="12.13" fill="#484bef"/>
<rect x="112.38" y="144.77" width="12.11" height="12.13" fill="#484ff2"/>
<rect x="124.45" y="144.77" width="12.11" height="12.13" fill="#4855f6"/>
<rect x="148.57" y="144.77" width="12.11" height="12.13" fill="#4759f9"/>
<rect x="160.63" y="144.77" width="24.17" height="12.13" fill="#475cfa"/>
<rect x="184.75" y="144.77" width="12.11" height="12.13" fill="#4563fd"/>
<rect x="208.88" y="144.77" width="12.11" height="12.13" fill="#426afe"/>
<rect x="220.94" y="144.77" width="12.11" height="12.13" fill="#3f6eff"/>
<rect x="233.00" y="144.77" width="12.11" height="12.13" fill="#3777fe"/>
<rect x="245.06" y="144.77" width="12.11" height="12.13" fill="#2f80fa"/>
<rect x="257.12" y="144.77" width="12.11" height="12.13" fill="#2f82fa"/>
<rect x="269.19" y="144.77" width="12.11" height="12.13" fill="#2d87f7"/>
<rect x="281.25" y="144.77" width="12.11" height="12.13" fill="#2c8ff1"/>
<rect x="293.31" y="144.77" width="12.11" height="12.13" fill="#2994ed"/>
<rect x="305.37" y="144.77" width="12.11" height="12.13" fill="#259be7"/>
<rect x="317.43" y="144.77" width="12.11" height="12.13" fill="#23a1e5"/>
<rect x="329.50" y="144.77" width="12.11" height="12.13" fill="#1fa6e2"/>
<rect x="341.56" y="144.77" width="12.11" height="12.13" fill="#1babde"/>
<rect x="353.62" y="144.77" width="12.11" height="12.13" fill="#16afd9"/>
<rect x="365.68" y="144.77" width="12.11" height="12.13" fill="#0cb3d3"/>
<rect x="377.74" y="144.77" width="12.11" height="12.13" fill="#03b6cd"/>
<rect x="389.80" y="144.77" width="12.11" height="12.13" fill="#01bac5"/>
<rect x="401.86" y="144.77" width="12.11" height="12.13" fill="#03bbc1"/>
<rect x="413.93" y="144.77" width="12.11" height="12.13" fill="#0dbdbb"/>
<rect x="425.99" y="144.77" width="12.11" height="12.13" fill="#11beba"/>
<rect x="438.05" y="144.77" width="12.11" height="12.13" fill="#14bfb8"/>
<rect x="450.11" y="144.77" width="12.11" height="12.13" fill="#15bfb7"/>
<rect x="462.17" y="144.77" width="12.11" height="12.13" fill="#12beb9"/>
<rect x="474.23" y="144.77" width="12.11" height="12.13" fill="#0abdbd"/>
<rect x="486.30" y="144.77" width="12.11" height="12.13" fill="#05bcc0"/>
<rect x="498.36" y="144.77" width="12.11" height="12.13" fill="#01bac4"/>
<rect x="510.42" y="144.77" width="12.11" height="12.13" fill="#02b7cb"/>
<rect x="522.48" y="144.77" width="12.11" height="12.13" fill="#0ab4d1"/>
<rect x="534.54" y="144.77" width="12.11" height="12.13" fill="#0fb2d4"/>
<rect x="546.61" y="144.77" width="12.11" height="12.13" fill="#17aeda"/>
<rect x="558.67" y="144.77" width="12.11" height="12.13" fill="#1da9e0"/>
<rect x="570.73" y="144.77" width="12.11" height="12.13" fill="#22a2e4"/>
<rect x="582.79" y="144.77" width="12.11" height="12.13" fill="#259be8"/>
<rect x="594.85" y="144.77" width="12.11" height="12.13" fill="#2994ed"/>
<rect x="606.91" y="144.77" width="12.11" height="12.13" fill="#2d8ef1"/>
<rect x="618.98" y="144.77" width="12.11" height="12.13" fill="#2e85f8"/>
<rect x="631.04" y="144.77" width="12.11" height="12.13" fill="#307efb"/>
<rect x="643.10" y="144.77" width="12.11" height="12.13" fill="#3a74ff"/>
<rect x="655.16" y="144.77" width="12.11" height="12.13" fill="#3e6fff"/>
<rect x="667.22" y="144.77" width="12.11" height="12.13" fill="#4563fd"/>
<rect x="679.28" y="144.77" width="12.11" height="12.13" fill="#4562fc"/>
<rect x="691.35" y="144.77" width="12.11" height="12.13" fill="#4854f5"/>
<rect x="703.41" y="144.77" width="12.11" height="12.13" fill="#4759f8"/>
<rect x="715.47" y="144.77" width="12.11" height="12.13" fill="#4853f5"/>
<rect x="727.53" y="144.77" width="12.11" height="12.13" fill="#484df0"/>
<rect x="739.59" y="144.77" width="12.11" height="12.13" fill="#4852f4"/>
<rect x="751.65" y="144.77" width="12.11" height="12.13" fill="#484aee"/>
<rect x="763.72" y="144.77" width="12.11" height="12.13" fill="#4743e7"/>
<rect x="775.78" y="144.77" width="12.11" height="12.13" fill="#463ddf"/>
<rect x="76.20" y="156.84" width="12.11" height="12.13" fill="#484df1"/>
<rect x="88.26" y="156.84" width="12.11" height="12.13" fill="#484ff2"/>
<rect x="112.38" y="156.84" width="12.11" height="12.13" fill="#4758f8"/>
<rect x="124.45" y="156.84" width="12.11" height="12.13" fill="#4757f7"/>
<rect x="136.51" y="156.84" width="12.11" height="12.13" fill="#4756f7"/>
<rect x="148.57" y="156.84" width="12.11" height="12.13" fill="#475bf9"/>
<rect x="160.63" y="156.84" width="12.11" height="12.13" fill="#4759f8"/>
<rect x="172.69" y="156.84" width="12.11" height="12.13" fill="#4564fd"/>
<rect x="184.75" y="156.84" width="12.11" height="12.13" fill="#4562fc"/>
<rect x="196.82" y="156.84" width="12.11" height="12.13" fill="#406dfe"/>
<rect x="208.88" y="156.84" width="12.11" height="12.13" fill="#3e6fff"/>
<rect x="220.94" y="156.84" width="12.11" height="12.13" fill="#3974ff"/>
<rect x="233.00" y="156.84" width="12.11" height="12.13" fill="#327cfc"/>
<rect x="245.06" y="156.84" width="12.11" height="12.13" fill="#2f81fa"/>
<rect x="257.12" y="156.84" width="12.11" height="12.13" fill="#2e86f7"/>
<rect x="269.19" y="156.84" width="12.11" height="12.13" fill="#2c8ff0"/>
<rect x="281.25" y="156.84" width="12.11" height="12.13" fill="#2797eb"/>
<rect x="293.31" y="156.84" width="12.11" height="12.13" fill="#259ce7"/>
<rect x="305.37" y="156.84" width="12.11" height="12.13" fill="#22a1e4"/>
<rect x="317.43" y="156.84" width="12.11" height="12.13" fill="#1da8e1"/>
<rect x="329.50" y="156.84" width="12.11" height="12.13" fill="#19addc"/>
<rect x="341.56" y="156.84" width="12.11" height="12.13" fill="#0eb3d4"/>
<rect x="353.62" y="156.84" width="12.11" height="12.13" fill="#01b8ca"/>
<rect x="365.68" y="156.84" width="12.11" height="12.13" fill="#03bbc2"/>
<rect x="377.74" y="156.84" width="12.11" height="12.13" fill="#11beb9"/>
<rect x="389.80" y="156.84" width="12.11" height="12.13" fill="#1dc0b3"/>
<rect x="401.86" y="156.84" width="12.11" height="12.13" fill="#28c2ab"/>
<rect x="413.93" y="156.84" width="12.11" height="12.13" fill="#2cc4a7"/>
<rect x="425.99" y="156.84" width="12.11" height="12.13" fill="#2fc5a4"/>
<rect x="438.05" y="156.84" width="12.11" height="12.13" fill="#30c5a2"/>
<rect x="450.11" y="156.84" width="12.11" height="12.13" fill="#31c6a0"/>
<rect x="462.17" y="156.84" width="12.11" height="12.13" fill="#2ec4a4"/>
<rect x="474.23" y="156.84" width="12.11" height="12.13" fill="#2bc3a8"/>
<rect x="486.30" y="156.84" width="12.11" height="12.13" fill="#29c3aa"/>
<rect x="498.36" y="156.84" width="12.11" height="12.13" fill="#20c1b1"/>
<rect x="510.42" y="156.84" width="12.11" height="12.13" fill="#18bfb6"/>
<rect x="522.48" y="156.84" width="12.11" height="12.13" fill="#06bcc0"/>
<rect x="534.54" y="156.84" width="12.11" height="12.13" fill="#00b9c7"/>
<rect x="546.61" y="156.84" width="12.11" height="12.13" fill="#03b6cd"/>
<rect x="558.67" y="156.84" width="12.11" height="12.13" fill="#0fb2d4"/>
<rect x="570.73" y="156.84" width="12.11" height="12.13" fill="#19addc"/>
<rect x="582.79" y="156.84" width="12.11" height="12.13" fill="#1fa6e2"/>
<rect x="594.85" y="156.84" width="12.11" height="12.13" fill="#249ee6"/>
<rect x="606.91" y="156.84" width="12.11" height="12.13" fill="#2895ec"/>
<rect x="618.98" y="156.84" width="12.11" height="12.13" fill="#2d8df2"/>
<rect x="631.04" y="156.84" width="12.11" height="12.13" fill="#2d88f6"/>
<rect x="643.10" y="156.84" width="12.11" height="12.13" fill="#2f80fb"/>
<rect x="655.16" y="156.84" width="12.11" height="12.13" fill="#3876fe"/>
<rect x="667.22" y="156.84" width="12.11" height="12.13" fill="#406dfe"/>
<rect x="679.28" y="156.84" width="12.11" height="12.13" fill="#4466fd"/>
<rect x="691.35" y="156.84" width="12.11" height="12.13" fill="#4563fd"/>
<rect x="703.41" y="156.84" width="12.11" height="12.13" fill="#475bf9"/>
<rect x="715.47" y="156.84" width="12.11" height="12.13" fill="#4757f7"/>
<rect x="727.53" y="156.84" width="12.11" height="12.13" fill="#4854f6"/>
<rect x="739.59" y="156.84" width="12.11" height="12.13" fill="#475bfa"/>
<rect x="751.65" y="156.84" width="12.11" height="12.13" fill="#484cef"/>
<rect x="763.72" y="156.84" width="12.11" height="12.13" fill="#484ef1"/>
<rect x="787.84" y="156.84" width="12.11" height="12.13" fill="#4746ea"/>
<rect x="76.20" y="168.92" width="12.11" height="12.13" fill="#4741e5"/>
<rect x="100.32" y="168.92" width="12.11" height="12.13" fill="#484cf0"/>
<rect x="112.38" y="168.92" width="12.11" height="12.13" fill="#4852f4"/>
<rect x="136.51" y="168.92" width="12.11" height="12.13" fill="#475bfa"/>
<rect x="148.57" y="168.92" width="12.11" height="12.13" fill="#465efb"/>
<rect x="160.63" y="168.92" width="12.11" height="12.13" fill="#465ffb"/>
<rect x="172.69" y="168.92" width="12.11" height="12.13" fill="#406dfe"/>
<rect x="184.75" y="168.92" width="12.11" height="12.13" fill="#416bfe"/>
<rect x="196.82" y="168.92" width="12.11" height="12.13" fill="#3c72ff"/>
<rect x="208.88" y="168.92" width="12.11" height="12.13" fill="#337afd"/>
<rect x="220.94" y="168.92" width="12.11" height="12.13" fill="#317dfc"/>
<rect x="233.00" y="168.92" width="12.11" height="12.13" fill="#2f82fa"/>
<rect x="245.06" y="168.92" width="12.11" height="12.13" fill="#2d89f6"/>
<rect x="257.12" y="168.92" width="12.11" height="12.13" fill="#2b92ee"/>
<rect x="269.19" y="168.92" width="12.11" height="12.13" fill="#2895ec"/>
<rect x="281.25" y="168.92" width="12.11" height="12.13" fill="#259ce7"/>
<rect x="293.31" y="168.92" width="12.11" height="12.13" fill="#21a3e3"/>
<rect x="305.37" y="168.92" width="12.11" height="12.13" fill="#1da8e1"/>
<rect x="317.43" y="168.92" width="12.11" height="12.13" fill="#15b0d8"/>
<rect x="329.50" y="168.92" width="12.11" height="12.13" fill="#03b6cd"/>
<rect x="341.56" y="168.92" width="12.11" height="12.13" fill="#01bac4"/>
<rect x="353.62" y="168.92" width="12.11" height="12.13" fill="#13beb9"/>
<rect x="365.68" y="168.92" width="12.11" height="12.13" fill="#24c1ae"/>
<rect x="377.74" y="168.92" width="12.11" height="12.13" fill="#2dc4a6"/>
<rect x="389.80" y="168.92" width="12.11" height="12.13" fill="#34c79b"/>
<rect x="401.86" y="168.92" width="12.11" height="12.13" fill="#3ac993"/>
<rect x="413.93" y="168.92" width="12.11" height="12.13" fill="#40ca8d"/>
<rect x="425.99" y="168.92" width="12.11" height="12.13" fill="#47cb87"/>
<rect x="438.05" y="168.92" width="24.17" height="12.13" fill="#49cb85"/>
<rect x="462.17" y="168.92" width="12.11" height="12.13" fill="#45cb88"/>
<rect x="474.23" y="168.92" width="12.11" height="12.13" fill="#42ca8b"/>
<rect x="486.30" y="168.92" width="12.11" height="12.13" fill="#3bc992"/>
<rect x="498.36" y="168.92" width="12.11" height="12.13" fill="#35c79a"/>
<rect x="510.42" y="168.92" width="12.11" height="12.13" fill="#2fc5a3"/>
<rect x="522.48" y="168.92" width="12.11" height="12.13" fill="#27c2ac"/>
<rect x="534.54" y="168.92" width="12.11" height="12.13" fill="#1abfb5"/>
<rect x="546.61" y="168.92" width="12.11" height="12.13" fill="#07bcbf"/>
<rect x="558.67" y="168.92" width="12.11" height="12.13" fill="#00b9c8"/>
<rect x="570.73" y="168.92" width="12.11" height="12.13" fill="#07b5d0"/>
<rect x="582.79" y="168.92" width="12.11" height="12.13" fill="#15b0d8"/>
<rect x="594.85" y="168.92" width="12.11" height="12.13" fill="#1da8e0"/>
<rect x="606.91" y="168.92" width="12.11" height="12.13" fill="#23a0e5"/>
<rect x="618.98" y="168.92" width="12.11" height="12.13" fill="#2798ea"/>
<rect x="631.04" y="168.92" width="12.11" height="12.13" fill="#2c8ff1"/>
<rect x="643.10" y="168.92" width="12.11" height="12.13" fill="#2d88f6"/>
<rect x="655.16" y="168.92" width="12.11" height="12.13" fill="#2f82fa"/>
<rect x="667.22" y="168.92" width="12.11" height="12.13" fill="#3a74ff"/>
<rect x="679.28" y="168.92" width="12.11" height="12.13" fill="#3c72ff"/>
<rect x="703.41" y="168.92" width="12.11" height="12.13" fill="#4759f8"/>
<rect x="715.47" y="168.92" width="12.11" height="12.13" fill="#4855f6"/>
<rect x="727.53" y="168.92" width="12.11" height="12.13" fill="#4852f4"/>
<rect x="739.59" y="168.92" width="12.11" height="12.13" fill="#4851f3"/>
<rect x="763.72" y="168.92" width="12.11" height="12.13" fill="#4746ea"/>
<rect x="787.84" y="168.92" width="12.11" height="12.13" fill="#4741e4"/>
<rect x="76.20" y="181.00" width="12.11" height="12.13" fill="#484df1"/>
<rect x="88.26" y="181.00" width="12.11" height="12.13" fill="#4849ed"/>
<rect x="100.32" y="181.00" width="12.11" height="12.13" fill="#465dfb"/>
<rect x="112.38" y="181.00" width="12.11" height="12.13" fill="#4855f6"/>
<rect x="124.45" y="181.00" width="12.11" height="12.13" fill="#4756f7"/>
<rect x="136.51" y="181.00" width="12.11" height="12.13" fill="#4465fd"/>
<rect x="148.57" y="181.00" width="12.11" height="12.13" fill="#4660fc"/>
<rect x="160.63" y="181.00" width="12.11" height="12.13" fill="#4465fd"/>
<rect x="172.69" y="181.00" width="12.11" height="12.13" fill="#4369fe"/>
<rect x="184.75" y="181.00" width="12.11" height="12.13" fill="#406dfe"/>
<rect x="196.82" y="181.00" width="12.11" height="12.13" fill="#3c72ff"/>
<rect x="208.88" y="181.00" width="12.11" height="12.13" fill="#337afd"/>
<rect x="220.94" y="181.00" width="12.11" height="12.13" fill="#2e83f9"/>
<rect x="233.00" y="181.00" width="12.11" height="12.13" fill="#2d88f6"/>
<rect x="245.06" y="181.00" width="12.11" height="12.13" fill="#2c8ff1"/>
<rect x="257.12" y="181.00" width="12.11" height="12.13" fill="#2797eb"/>
<rect x="269.19" y="181.00" width="12.11" height="12.13" fill="#259ce7"/>
<rect x="281.25" y="181.00" width="12.11" height="12.13" fill="#20a4e3"/>
<rect x="293.31" y="181.00" width="12.11" height="12.13" fill="#1babde"/>
<rect x="305.37" y="181.00" width="12.11" height="12.13" fill="#11b1d6"/>
<rect x="317.43" y="181.00" width="12.11" height="12.13" fill="#01b8ca"/>
<rect x="329.50" y="181.00" width="12.11" height="12.13" fill="#08bcbe"/>
<rect x="341.56" y="181.00" width="12.11" height="12.13" fill="#1dc0b3"/>
<rect x="353.62" y="181.00" width="12.11" height="12.13" fill="#2dc4a6"/>
<rect x="365.68" y="181.00" width="12.11" height="12.13" fill="#38c896"/>
<rect x="377.74" y="181.00" width="12.11" height="12.13" fill="#46cb87"/>
<rect x="389.80" y="181.00" width="12.11" height="12.13" fill="#54cc7c"/>
<rect x="401.86" y="181.00" width="12.11" height="12.13" fill="#5fcd73"/>
<rect x="413.93" y="181.00" width="12.11" height="12.13" fill="#6dcd67"/>
<rect x="425.99" y="181.00" width="12.11" height="12.13" fill="#71cd64"/>
<rect x="438.05" y="181.00" width="12.11" height="12.13" fill="#74cd62"/>
<rect x="450.11" y="181.00" width="12.11" height="12.13" fill="#73cd62"/>
<rect x="462.17" y="181.00" width="12.11" height="12.13" fill="#6ecd66"/>
<rect x="474.23" y="181.00" width="12.11" height="12.13" fill="#68cd6b"/>
<rect x="486.30" y="181.00" width="12.11" height="12.13" fill="#5ccc75"/>
<rect x="498.36" y="181.00" width="12.11" height="12.13" fill="#52cc7e"/>
<rect x="510.42" y="181.00" width="12.11" height="12.13" fill="#43cb8a"/>
<rect x="522.48" y="181.00" width="12.11" height="12.13" fill="#3ac994"/>
<rect x="534.54" y="181.00" width="12.11" height="12.13" fill="#30c5a1"/>
<rect x="546.61" y="181.00" width="12.11" height="12.13" fill="#28c2ab"/>
<rect x="558.67" y="181.00" width="12.11" height="12.13" fill="#18bfb6"/>
<rect x="570.73" y="181.00" width="12.11" height="12.13" fill="#02bac3"/>
<rect x="582.79" y="181.00" width="12.11" height="12.13" fill="#04b6cd"/>
<rect x="594.85" y="181.00" width="12.11" height="12.13" fill="#12b1d6"/>
<rect x="606.91" y="181.00" width="12.11" height="12.13" fill="#1caadf"/>
<rect x="618.98" y="181.00" width="12.11" height="12.13" fill="#23a1e4"/>
<rect x="631.04" y="181.00" width="12.11" height="12.13" fill="#2699e9"/>
<rect x="643.10" y="181.00" width="12.11" height="12.13" fill="#2c90f0"/>
<rect x="655.16" y="181.00" width="12.11" height="12.13" fill="#2e86f7"/>
<rect x="667.22" y="181.00" width="12.11" height="12.13" fill="#307efb"/>
<rect x="679.28" y="181.00" width="12.11" height="12.13" fill="#3776fe"/>
<rect x="691.35" y="181.00" width="12.11" height="12.13" fill="#416bfe"/>
<rect x="703.41" y="181.00" width="12.11" height="12.13" fill="#4563fd"/>
<rect x="715.47" y="181.00" width="12.11" height="12.13" fill="#475af9"/>
<rect x="739.59" y="181.00" width="12.11" height="12.13" fill="#4854f6"/>
<rect x="751.65" y="181.00" width="12.11" height="12.13" fill="#4852f4"/>
<rect x="763.72" y="181.00" width="12.11" height="12.13" fill="#484cef"/>
<rect x="775.78" y="181.00" width="12.11" height="12.13" fill="#4849ed"/>
<rect x="88.26" y="193.07" width="12.11" height="12.13" fill="#4853f4"/>
<rect x="100.32" y="193.07" width="12.11" height="12.13" fill="#4759f9"/>
<rect x="112.38" y="193.07" width="12.11" height="12.13" fill="#4759f8"/>
<rect x="124.45" y="193.07" width="12.11" height="12.13" fill="#465efb"/>
<rect x="136.51" y="193.07" width="12.11" height="12.13" fill="#4660fc"/>
<rect x="148.57" y="193.07" width="12.11" height="12.13" fill="#4563fc"/>
<rect x="172.69" y="193.07" width="12.11" height="12.13" fill="#416cfe"/>
<rect x="184.75" y="193.07" width="12.11" height="12.13" fill="#3975fe"/>
<rect x="196.82" y="193.07" width="12.11" height="12.13" fill="#327cfc"/>
<rect x="208.88" y="193.07" width="12.11" height="12.13" fill="#2f7ffb"/>
<rect x="220.94" y="193.07" width="12.11" height="12.13" fill="#2e85f8"/>
<rect x="233.00" y="193.07" width="12.11" height="12.13" fill="#2d8cf3"/>
<rect x="245.06" y="193.07" width="12.11" height="12.13" fill="#2797eb"/>
<rect x="257.12" y="193.07" width="12.11" height="12.13" fill="#259be8"/>
<rect x="269.19" y="193.07" width="12.11" height="12.13" fill="#22a2e4"/>
<rect x="281.25" y="193.07" width="12.11" height="12.13" fill="#1babde"/>
<rect x="293.31" y="193.07" width="12.11" height="12.13" fill="#0eb2d4"/>
<rect x="305.37" y="193.07" width="12.11" height="12.13" fill="#01b8c9"/>
<rect x="317.43" y="193.07" width="12.11" height="12.13" fill="#0abdbd"/>
<rect x="329.50" y="193.07" width="12.11" height="12.13" fill="#26c2ad"/>
<rect x="341.56" y="193.07" width="12.11" height="12.13" fill="#34c79b"/>
<rect x="353.62" y="193.07" width="12.11" height="12.13" fill="#46cb87"/>
<rect x="365.68" y="193.07" width="12.11" height="12.13" fill="#5ecd74"/>
<rect x="377.74" y="193.07" width="12.11" height="12.13" fill="#72cd63"/>
<rect x="389.80" y="193.07" width="12.11" height="12.13" fill="#83cc57"/>
<rect x="401.86" y="193.07" width="12.11" height="12.13" fill="#8fcb4e"/>
<rect x="413.93" y="193.07" width="12.11" height="12.13" fill="#9ac945"/>
<rect x="425.99" y="193.07" width="12.11" height="12.13" fill="#9ec942"/>
<rect x="438.05" y="193.07" width="12.11" height="12.13" fill="#9fc941"/>
<rect x="450.11" y="193.07" width="12.11" height="12.13" fill="#9dc943"/>
<rect x="462.17" y="193.07" width="12.11" height="12.13" fill="#9bc945"/>
<rect x="474.23" y="193.07" width="12.11" height="12.13" fill="#92ca4c"/>
<rect x="486.30" y="193.07" width="12.11" height="12.13" fill="#87cb54"/>
<rect x="498.36" y="193.07" width="12.11" height="12.13" fill="#7bcc5d"/>
<rect x="510.42" y="193.07" width="12.11" height="12.13" fill="#69cd6a"/>
<rect x="522.48" y="193.07" width="12.11" height="12.13" fill="#58cc79"/>
<rect x="534.54" y="193.07" width="12.11" height="12.13" fill="#43cb8a"/>
<rect x="546.61" y="193.07" width="12.11" height="12.13" fill="#35c79a"/>
<rect x="558.67" y="193.07" width="12.11" height="12.13" fill="#2dc4a6"/>
<rect x="570.73" y="193.07" width="12.11" height="12.13" fill="#1fc0b2"/>
<rect x="582.79" y="193.07" width="12.11" height="12.13" fill="#07bcbf"/>
<rect x="594.85" y="193.07" width="12.11" height="12.13" fill="#01b8ca"/>
<rect x="606.91" y="193.07" width="12.11" height="12.13" fill="#10b2d5"/>
<rect x="618.98" y="193.07" width="12.11" height="12.13" fill="#1ca9df"/>
<rect x="631.04" y="193.07" width="12.11" height="12.13" fill="#22a2e4"/>
<rect x="643.10" y="193.07" width="12.11" height="12.13" fill="#2698ea"/>
<rect x="655.16" y="193.07" width="12.11" height="12.13" fill="#2d8ef1"/>
<rect x="667.22" y="193.07" width="12.11" height="12.13" fill="#2d88f6"/>
<rect x="679.28" y="193.07" width="12.11" height="12.13" fill="#347afd"/>
<rect x="691.35" y="193.07" width="12.11" height="12.13" fill="#3876fe"/>
<rect x="703.41" y="193.07" width="12.11" height="12.13" fill="#416cfe"/>
<rect x="727.53" y="193.07" width="12.11" height="12.13" fill="#475cfa"/>
<rect x="739.59" y="193.07" width="12.11" height="12.13" fill="#4758f8"/>
<rect x="751.65" y="193.07" width="12.11" height="12.13" fill="#484ff2"/>
<rect x="775.78" y="193.07" width="12.11" height="12.13" fill="#4747eb"/>
<rect x="76.20" y="205.15" width="12.11" height="12.13" fill="#484cf0"/>
<rect x="88.26" y="205.15" width="12.11" height="12.13" fill="#4746eb"/>
<rect x="100.32" y="205.15" width="12.11" height="12.13" fill="#475bf9"/>
<rect x="112.38" y="205.15" width="12.11" height="12.13" fill="#475dfa"/>
<rect x="124.45" y="205.15" width="12.11" height="12.13" fill="#475af9"/>
<rect x="136.51" y="205.15" width="12.11" height="12.13" fill="#4563fd"/>
<rect x="160.63" y="205.15" width="12.11" height="12.13" fill="#4368fe"/>
<rect x="172.69" y="205.15" width="12.11" height="12.13" fill="#3c71ff"/>
<rect x="184.75" y="205.15" width="12.11" height="12.13" fill="#3777fe"/>
<rect x="196.82" y="205.15" width="12.11" height="12.13" fill="#307ffb"/>
<rect x="208.88" y="205.15" width="12.11" height="12.13" fill="#2e84f9"/>
<rect x="220.94" y="205.15" width="12.11" height="12.13" fill="#2d8af4"/>
<rect x="233.00" y="205.15" width="12.11" height="12.13" fill="#2895ec"/>
<rect x="245.06" y="205.15" width="12.11" height="12.13" fill="#259be8"/>
<rect x="257.12" y="205.15" width="12.11" height="12.13" fill="#22a2e4"/>
<rect x="269.19" y="205.15" width="12.11" height="12.13" fill="#1aacdd"/>
<rect x="281.25" y="205.15" width="12.11" height="12.13" fill="#0fb2d5"/>
<rect x="293.31" y="205.15" width="12.11" height="12.13" fill="#00b8c8"/>
<rect x="305.37" y="205.15" width="12.11" height="12.13" fill="#0fbeba"/>
<rect x="317.43" y="205.15" width="12.11" height="12.13" fill="#2cc4a7"/>
<rect x="329.50" y="205.15" width="12.11" height="12.13" fill="#3dc990"/>
<rect x="341.56" y="205.15" width="12.11" height="12.13" fill="#58cc79"/>
<rect x="353.62" y="205.15" width="12.11" height="12.13" fill="#77cc5f"/>
<rect x="365.68" y="205.15" width="12.11" height="12.13" fill="#90ca4d"/>
<rect x="377.74" y="205.15" width="12.11" height="12.13" fill="#a3c83e"/>
<rect x="389.80" y="205.15" width="12.11" height="12.13" fill="#b2c635"/>
<rect x="401.86" y="205.15" width="12.11" height="12.13" fill="#bdc42e"/>
<rect x="413.93" y="205.15" width="12.11" height="12.13" fill="#c3c22b"/>
<rect x="425.99" y="205.15" width="12.11" height="12.13" fill="#c7c129"/>
<rect x="438.05" y="205.15" width="12.11" height="12.13" fill="#c8c129"/>
<rect x="450.11" y="205.15" width="12.11" height="12.13" fill="#c6c22a"/>
<rect x="462.17" y="205.15" width="12.11" height="12.13" fill="#c2c22c"/>
<rect x="474.23" y="205.15" width="12.11" height="12.13" fill="#bbc42f"/>
<rect x="486.30" y="205.15" width="12.11" height="12.13" fill="#b1c635"/>
<rect x="498.36" y="205.15" width="12.11" height="12.13" fill="#a5c83d"/>
<rect x="510.42" y="205.15" width="12.11" height="12.13" fill="#93ca4a"/>
<rect x="522.48" y="205.15" width="12.11" height="12.13" fill="#7fcc5a"/>
<rect x="534.54" y="205.15" width="12.11" height="12.13" fill="#66cd6d"/>
<rect x="546.61" y="205.15" width="12.11" height="12.13" fill="#51cc7f"/>
<rect x="558.67" y="205.15" width="12.11" height="12.13" fill="#3cc991"/>
<rect x="570.73" y="205.15" width="12.11" height="12.13" fill="#31c5a1"/>
<rect x="582.79" y="205.15" width="12.11" height="12.13" fill="#24c1ae"/>
<rect x="594.85" y="205.15" width="12.11" height="12.13" fill="#11beba"/>
<rect x="606.91" y="205.15" width="12.11" height="12.13" fill="#00b8c8"/>
<rect x="618.98" y="205.15" width="12.11" height="12.13" fill="#0eb3d4"/>
<rect x="631.04" y="205.15" width="12.11" height="12.13" fill="#1babde"/>
<rect x="643.10" y="205.15" width="12.11" height="12.13" fill="#20a4e3"/>
<rect x="655.16" y="205.15" width="12.11" height="12.13" fill="#2796eb"/>
<rect x="667.22" y="205.15" width="12.11" height="12.13" fill="#2d8cf3"/>
<rect x="679.28" y="205.15" width="12.11" height="12.13" fill="#2e85f8"/>
<rect x="691.35" y="205.15" width="12.11" height="12.13" fill="#327cfc"/>
<rect x="703.41" y="205.15" width="12.11" height="12.13" fill="#3d71ff"/>
<rect x="715.47" y="205.15" width="12.11" height="12.13" fill="#4464fd"/>
<rect x="727.53" y="205.15" width="12.11" height="12.13" fill="#4563fd"/>
<rect x="739.59" y="205.15" width="12.11" height="12.13" fill="#4562fc"/>
<rect x="751.65" y="205.15" width="12.11" height="12.13" fill="#4758f8"/>
<rect x="763.72" y="205.15" width="12.11" height="12.13" fill="#4851f3"/>
<rect x="775.78" y="205.15" width="12.11" height="12.13" fill="#4853f5"/>
<rect x="787.84" y="205.15" width="12.11" height="12.13" fill="#4849ed"/>
<rect x="76.20" y="217.23" width="12.11" height="12.13" fill="#484ff2"/>
<rect x="100.32" y="217.23" width="12.11" height="12.13" fill="#484df1"/>
<rect x="112.38" y="217.23" width="12.11" height="12.13" fill="#4563fc"/>
<rect x="124.45" y="217.23" width="12.11" height="12.13" fill="#465efb"/>
<rect x="136.51" y="217.23" width="12.11" height="12.13" fill="#4465fd"/>
<rect x="148.57" y="217.23" width="12.11" height="12.13" fill="#426afe"/>
<rect x="160.63" y="217.23" width="12.11" height="12.13" fill="#3c71ff"/>
<rect x="172.69" y="217.23" width="12.11" height="12.13" fill="#3a73ff"/>
<rect x="184.75" y="217.23" width="12.11" height="12.13" fill="#307ffb"/>
<rect x="196.82" y="217.23" width="12.11" height="12.13" fill="#2e83f9"/>
<rect x="208.88" y="217.23" width="12.11" height="12.13" fill="#2d8af5"/>
<rect x="220.94" y="217.23" width="12.11" height="12.13" fill="#2895ec"/>
<rect x="233.00" y="217.23" width="12.11" height="12.13" fill="#2698ea"/>
<rect x="245.06" y="217.23" width="12.11" height="12.13" fill="#23a1e4"/>
<rect x="257.12" y="217.23" width="12.11" height="12.13" fill="#1ca9df"/>
<rect x="269.19" y="217.23" width="12.11" height="12.13" fill="#12b1d6"/>
<rect x="281.25" y="217.23" width="12.11" height="12.13" fill="#00b9c8"/>
<rect x="293.31" y="217.23" width="12.11" height="12.13" fill="#0fbeba"/>
<rect x="305.37" y="217.23" width="12.11" height="12.13" fill="#2fc5a3"/>
<rect x="317.43" y="217.23" width="12.11" height="12.13" fill="#44cb89"/>
<rect x="329.50" y="217.23" width="12.11" height="12.13" fill="#67cd6c"/>
<rect x="341.56" y="217.23" width="12.11" height="12.13" fill="#8acb52"/>
<rect x="353.62" y="217.23" width="12.11" height="12.13" fill="#a8c73b"/>
<rect x="365.68" y="217.23" width="12.11" height="12.13" fill="#bec32e"/>
<rect x="377.74" y="217.23" width="12.11" height="12.13" fill="#cdc028"/>
<rect x="389.80" y="217.23" width="12.11" height="12.13" fill="#d7be28"/>
<rect x="401.86" y="217.23" width="12.11" height="12.13" fill="#debc29"/>
<rect x="413.93" y="217.23" width="12.11" height="12.13" fill="#e1bc2a"/>
<rect x="425.99" y="217.23" width="12.11" height="12.13" fill="#e4bb2b"/>
<rect x="438.05" y="217.23" width="12.11" height="12.13" fill="#e4bb2c"/>
<rect x="450.11" y="217.23" width="12.11" height="12.13" fill="#e2bc2b"/>
<rect x="462.17" y="217.23" width="12.11" height="12.13" fill="#dfbc2a"/>
<rect x="474.23" y="217.23" width="12.11" height="12.13" fill="#dabd28"/>
<rect x="486.30" y="217.23" width="12.11" height="12.13" fill="#d4bf27"/>
<rect x="498.36" y="217.23" width="12.11" height="12.13" fill="#c9c129"/>
<rect x="510.42" y="217.23" width="12.11" height="12.13" fill="#bac430"/>
<rect x="522.48" y="217.23" width="12.11" height="12.13" fill="#a6c83d"/>
<rect x="534.54" y="217.23" width="12.11" height="12.13" fill="#8fcb4e"/>
<rect x="546.61" y="217.23" width="12.11" height="12.13" fill="#74cd62"/>
<rect x="558.67" y="217.23" width="12.11" height="12.13" fill="#58cc79"/>
<rect x="570.73" y="217.23" width="12.11" height="12.13" fill="#41ca8c"/>
<rect x="582.79" y="217.23" width="12.11" height="12.13" fill="#33c69d"/>
<rect x="594.85" y="217.23" width="12.11" height="12.13" fill="#26c2ad"/>
<rect x="606.91" y="217.23" width="12.11" height="12.13" fill="#0dbdbb"/>
<rect x="618.98" y="217.23" width="12.11" height="12.13" fill="#01b7ca"/>
<rect x="631.04" y="217.23" width="12.11" height="12.13" fill="#0fb2d4"/>
<rect x="643.10" y="217.23" width="12.11" height="12.13" fill="#1da9e0"/>
<rect x="655.16" y="217.23" width="12.11" height="12.13" fill="#23a0e5"/>
<rect x="667.22" y="217.23" width="12.11" height="12.13" fill="#2b91ef"/>
<rect x="691.35" y="217.23" width="12.11" height="12.13" fill="#2f81fa"/>
<rect x="703.41" y="217.23" width="12.11" height="12.13" fill="#3578fd"/>
<rect x="715.47" y="217.23" width="12.11" height="12.13" fill="#416cfe"/>
<rect x="727.53" y="217.23" width="12.11" height="12.13" fill="#4561fc"/>
<rect x="739.59" y="217.23" width="12.11" height="12.13" fill="#465efb"/>
<rect x="751.65" y="217.23" width="12.11" height="12.13" fill="#465dfb"/>
<rect x="763.72" y="217.23" width="12.11" height="12.13" fill="#475af9"/>
<rect x="787.84" y="217.23" width="12.11" height="12.13" fill="#4852f4"/>
<rect x="76.20" y="229.30" width="12.11" height="12.13" fill="#484ef1"/>
<rect x="88.26" y="229.30" width="12.11" height="12.13" fill="#4758f8"/>
<rect x="100.32" y="229.30" width="12.11" height="12.13" fill="#4855f6"/>
<rect x="124.45" y="229.30" width="12.11" height="12.13" fill="#4369fe"/>
<rect x="136.51" y="229.30" width="12.11" height="12.13" fill="#4466fd"/>
<rect x="148.57" y="229.30" width="24.17" height="12.13" fill="#3d71ff"/>
<rect x="172.69" y="229.30" width="12.11" height="12.13" fill="#3579fd"/>
<rect x="184.75" y="229.30" width="12.11" height="12.13" fill="#2e84f9"/>
<rect x="196.82" y="229.30" width="12.11" height="12.13" fill="#2e86f7"/>
<rect x="208.88" y="229.30" width="12.11" height="12.13" fill="#2c8ff0"/>
<rect x="220.94" y="229.30" width="12.11" height="12.13" fill="#2895ec"/>
<rect x="233.00" y="229.30" width="12.11" height="12.13" fill="#249ee6"/>
<rect x="245.06" y="229.30" width="12.11" height="12.13" fill="#1ea7e1"/>
<rect x="257.12" y="229.30" width="12.11" height="12.13" fill="#12b1d7"/>
<rect x="269.19" y="229.30" width="12.11" height="12.13" fill="#02b7cb"/>
<rect x="281.25" y="229.30" width="12.11" height="12.13" fill="#13beb9"/>
<rect x="293.31" y="229.30" width="12.11" height="12.13" fill="#2fc5a3"/>
<rect x="305.37" y="229.30" width="12.11" height="12.13" fill="#49cb85"/>
<rect x="317.43" y="229.30" width="12.11" height="12.13" fill="#6fcd66"/>
<rect x="329.50" y="229.30" width="12.11" height="12.13" fill="#98ca46"/>
<rect x="341.56" y="229.30" width="12.11" height="12.13" fill="#bac430"/>
<rect x="353.62" y="229.30" width="12.11" height="12.13" fill="#d2bf27"/>
<rect x="365.68" y="229.30" width="12.11" height="12.13" fill="#e2bc2b"/>
<rect x="377.74" y="229.30" width="12.11" height="12.13" fill="#edba33"/>
<rect x="389.80" y="229.30" width="12.11" height="12.13" fill="#f2ba38"/>
<rect x="401.86" y="229.30" width="12.11" height="12.13" fill="#f6ba3c"/>
<rect x="413.93" y="229.30" width="12.11" height="12.13" fill="#f9ba3e"/>
<rect x="425.99" y="229.30" width="12.11" height="12.13" fill="#faba3e"/>
<rect x="438.05" y="229.30" width="12.11" height="12.13" fill="#fabb3e"/>
<rect x="450.11" y="229.30" width="12.11" height="12.13" fill="#f8ba3d"/>
<rect x="462.17" y="229.30" width="12.11" height="12.13" fill="#f5ba3b"/>
<rect x="474.23" y="229.30" width="12.11" height="12.13" fill="#f2ba39"/>
<rect x="486.30" y="229.30" width="12.11" height="12.13" fill="#edba33"/>
<rect x="498.36" y="229.30" width="12.11" height="12.13" fill="#e6bb2d"/>
<rect x="510.42" y="229.30" width="12.11" height="12.13" fill="#d9be28"/>
<rect x="522.48" y="229.30" width="12.11" height="12.13" fill="#c9c129"/>
<rect x="534.54" y="229.30" width="12.11" height="12.13" fill="#b2c635"/>
<rect x="546.61" y="229.30" width="12.11" height="12.13" fill="#99c946"/>
<rect x="558.67" y="229.30" width="12.11" height="12.13" fill="#7bcc5d"/>
<rect x="570.73" y="229.30" width="12.11" height="12.13" fill="#5bcc77"/>
<rect x="582.79" y="229.30" width="12.11" height="12.13" fill="#42ca8b"/>
<rect x="594.85" y="229.30" width="12.11" height="12.13" fill="#33c79c"/>
<rect x="606.91" y="229.30" width="12.11" height="12.13" fill="#24c1ae"/>
<rect x="618.98" y="229.30" width="12.11" height="12.13" fill="#0bbdbd"/>
<rect x="631.04" y="229.30" width="12.11" height="12.13" fill="#04b6cd"/>
<rect x="643.10" y="229.30" width="12.11" height="12.13" fill="#17aeda"/>
<rect x="655.16" y="229.30" width="12.11" height="12.13" fill="#1fa6e2"/>
<rect x="667.22" y="229.30" width="12.11" height="12.13" fill="#259de7"/>
<rect x="679.28" y="229.30" width="12.11" height="12.13" fill="#2a93ee"/>
<rect x="691.35" y="229.30" width="12.11" height="12.13" fill="#2d8bf4"/>
<rect x="703.41" y="229.30" width="12.11" height="12.13" fill="#307ffb"/>
<rect x="715.47" y="229.30" width="12.11" height="12.13" fill="#3a73ff"/>
<rect x="739.59" y="229.30" width="12.11" height="12.13" fill="#4564fd"/>
<rect x="751.65" y="229.30" width="12.11" height="12.13" fill="#475dfa"/>
<rect x="763.72" y="229.30" width="12.11" height="12.13" fill="#4759f8"/>
<rect x="787.84" y="229.30" width="12.11" height="12.13" fill="#484bef"/>
<rect x="76.20" y="241.38" width="12.11" height="12.13" fill="#484bef"/>
<rect x="88.26" y="241.38" width="12.11" height="12.13" fill="#4855f6"/>
<rect x="100.32" y="241.38" width="12.11" height="12.13" fill="#465efb"/>
<rect x="112.38" y="241.38" width="12.11" height="12.13" fill="#4759f8"/>
<rect x="124.45" y="241.38" width="12.11" height="12.13" fill="#4466fd"/>
<rect x="136.51" y="241.38" width="12.11" height="12.13" fill="#4369fe"/>
<rect x="148.57" y="241.38" width="12.11" height="12.13" fill="#3d71ff"/>
<rect x="160.63" y="241.38" width="12.11" height="12.13" fill="#3777fe"/>
<rect x="172.69" y="241.38" width="12.11" height="12.13" fill="#307efb"/>
<rect x="184.75" y="241.38" width="12.11" height="12.13" fill="#2f82f9"/>
<rect x="196.82" y="241.38" width="12.11" height="12.13" fill="#2d89f6"/>
<rect x="208.88" y="241.38" width="12.11" height="12.13" fill="#2994ed"/>
<rect x="220.94" y="241.38" width="12.11" height="12.13" fill="#259ce7"/>
<rect x="233.00" y="241.38" width="12.11" height="12.13" fill="#1fa5e2"/>
<rect x="245.06" y="241.38" width="12.11" height="12.13" fill="#17aeda"/>
<rect x="257.12" y="241.38" width="12.11" height="12.13" fill="#05b5cf"/>
<rect x="269.19" y="241.38" width="12.11" height="12.13" fill="#0abdbd"/>
<rect x="281.25" y="241.38" width="12.11" height="12.13" fill="#2ec4a4"/>
<rect x="293.31" y="241.38" width="12.11" height="12.13" fill="#47cb87"/>
<rect x="305.37" y="241.38" width="12.11" height="12.13" fill="#73cd63"/>
<rect x="317.43" y="241.38" width="12.11" height="12.13" fill="#a1c840"/>
<rect x="329.50" y="241.38" width="12.11" height="12.13" fill="#c5c22a"/>
<rect x="341.56" y="241.38" width="12.11" height="12.13" fill="#e1bc2a"/>
<rect x="353.62" y="241.38" width="12.11" height="12.13" fill="#f1ba37"/>
<rect x="365.68" y="241.38" width="12.11" height="12.13" fill="#f9ba3e"/>
<rect x="377.74" y="241.38" width="12.11" height="12.13" fill="#febd3d"/>
<rect x="389.80" y="241.38" width="12.11" height="12.13" fill="#fec03b"/>
<rect x="401.86" y="241.38" width="12.11" height="12.13" fill="#fec239"/>
<rect x="413.93" y="241.38" width="24.17" height="12.13" fill="#fec339"/>
<rect x="438.05" y="241.38" width="12.11" height="12.13" fill="#fec239"/>
<rect x="450.11" y="241.38" width="12.11" height="12.13" fill="#fec13a"/>
<rect x="462.17" y="241.38" width="12.11" height="12.13" fill="#fec03a"/>
<rect x="474.23" y="241.38" width="12.11" height="12.13" fill="#febf3c"/>
<rect x="486.30" y="241.38" width="12.11" height="12.13" fill="#fdbc3e"/>
<rect x="498.36" y="241.38" width="12.11" height="12.13" fill="#f8ba3d"/>
<rect x="510.42" y="241.38" width="12.11" height="12.13" fill="#f1ba38"/>
<rect x="522.48" y="241.38" width="12.11" height="12.13" fill="#e6bb2d"/>
<rect x="534.54" y="241.38" width="12.11" height="12.13" fill="#d2bf27"/>
<rect x="546.61" y="241.38" width="12.11" height="12.13" fill="#bbc430"/>
<rect x="558.67" y="241.38" width="12.11" height="12.13" fill="#9ec942"/>
<rect x="570.73" y="241.38" width="12.11" height="12.13" fill="#7bcc5d"/>
<rect x="582.79" y="241.38" width="12.11" height="12.13" fill="#5bcc77"/>
<rect x="594.85" y="241.38" width="12.11" height="12.13" fill="#42ca8b"/>
<rect x="606.91" y="241.38" width="12.11" height="12.13" fill="#31c6a0"/>
<rect x="618.98" y="241.38" width="12.11" height="12.13" fill="#21c1b1"/>
<rect x="631.04" y="241.38" width="12.11" height="12.13" fill="#05bcc0"/>
<rect x="643.10" y="241.38" width="12.11" height="12.13" fill="#05b5cf"/>
<rect x="655.16" y="241.38" width="12.11" height="12.13" fill="#17aeda"/>
<rect x="667.22" y="241.38" width="12.11" height="12.13" fill="#20a5e3"/>
<rect x="679.28" y="241.38" width="12.11" height="12.13" fill="#259de6"/>
<rect x="691.35" y="241.38" width="12.11" height="12.13" fill="#2c91ef"/>
<rect x="703.41" y="241.38" width="12.11" height="12.13" fill="#2e84f9"/>
<rect x="715.47" y="241.38" width="12.11" height="12.13" fill="#337bfc"/>
<rect x="727.53" y="241.38" width="12.11" height="12.13" fill="#3c71ff"/>
<rect x="739.59" y="241.38" width="12.11" height="12.13" fill="#4367fd"/>
<rect x="751.65" y="241.38" width="12.11" height="12.13" fill="#4759f8"/>
<rect x="763.72" y="241.38" width="12.11" height="12.13" fill="#475cfa"/>
<rect x="775.78" y="241.38" width="12.11" height="12.13" fill="#4852f4"/>
<rect x="88.26" y="253.46" width="12.11" height="12.13" fill="#4757f8"/>
<rect x="112.38" y="253.46" width="12.11" height="12.13" fill="#465ffb"/>
<rect x="136.51" y="253.46" width="12.11" height="12.13" fill="#3a73ff"/>
<rect x="148.57" y="253.46" width="12.11" height="12.13" fill="#3777fe"/>
<rect x="160.63" y="253.46" width="12.11" height="12.13" fill="#317cfc"/>
<rect x="172.69" y="253.46" width="12.11" height="12.13" fill="#307ffb"/>
<rect x="184.75" y="253.46" width="12.11" height="12.13" fill="#2e86f7"/>
<rect x="196.82" y="253.46" width="12.11" height="12.13" fill="#2c90f0"/>
<rect x="208.88" y="253.46" width="12.11" height="12.13" fill="#2797eb"/>
<rect x="220.94" y="253.46" width="12.11" height="12.13" fill="#22a2e4"/>
<rect x="233.00" y="253.46" width="12.11" height="12.13" fill="#1baade"/>
<rect x="245.06" y="253.46" width="12.11" height="12.13" fill="#0bb4d2"/>
<rect x="257.12" y="253.46" width="12.11" height="12.13" fill="#02bbc2"/>
<rect x="269.19" y="253.46" width="12.11" height="12.13" fill="#29c3aa"/>
<rect x="281.25" y="253.46" width="12.11" height="12.13" fill="#41ca8c"/>
<rect x="293.31" y="253.46" width="12.11" height="12.13" fill="#6ecd66"/>
<rect x="305.37" y="253.46" width="12.11" height="12.13" fill="#a1c840"/>
<rect x="317.43" y="253.46" width="12.11" height="12.13" fill="#cbc128"/>
<rect x="329.50" y="253.46" width="12.11" height="12.13" fill="#eaba30"/>
<rect x="341.56" y="253.46" width="12.11" height="12.13" fill="#f8ba3d"/>
<rect x="353.62" y="253.46" width="12.11" height="12.13" fill="#febf3b"/>
<rect x="365.68" y="253.46" width="12.11" height="12.13" fill="#fec537"/>
<rect x="377.74" y="253.46" width="12.11" height="12.13" fill="#fec934"/>
<rect x="389.80" y="253.46" width="12.11" height="12.13" fill="#fdcc32"/>
<rect x="401.86" y="253.46" width="24.17" height="12.13" fill="#fdcd31"/>
<rect x="425.99" y="253.46" width="12.11" height="12.13" fill="#fdcd32"/>
<rect x="438.05" y="253.46" width="12.11" height="12.13" fill="#fdcc32"/>
<rect x="450.11" y="253.46" width="12.11" height="12.13" fill="#fecb33"/>
<rect x="462.17" y="253.46" width="12.11" height="12.13" fill="#feca33"/>
<rect x="474.23" y="253.46" width="12.11" height="12.13" fill="#fec835"/>
<rect x="486.30" y="253.46" width="12.11" height="12.13" fill="#fec537"/>
<rect x="498.36" y="253.46" width="12.11" height="12.13" fill="#fec239"/>
<rect x="510.42" y="253.46" width="12.11" height="12.13" fill="#febd3d"/>
<rect x="522.48" y="253.46" width="12.11" height="12.13" fill="#f8ba3d"/>
<rect x="534.54" y="253.46" width="12.11" height="12.13" fill="#edba32"/>
<rect x="546.61" y="253.46" width="12.11" height="12.13" fill="#d8be28"/>
<rect x="558.67" y="253.46" width="12.11" height="12.13" fill="#bcc42f"/>
<rect x="570.73" y="253.46" width="12.11" height="12.13" fill="#9cc944"/>
<rect x="582.79" y="253.46" width="12.11" height="12.13" fill="#77cc60"/>
<rect x="594.85" y="253.46" width="12.11" height="12.13" fill="#57cc7a"/>
<rect x="606.91" y="253.46" width="12.11" height="12.13" fill="#3dc990"/>
<rect x="618.98" y="253.46" width="12.11" height="12.13" fill="#2fc5a3"/>
<rect x="631.04" y="253.46" width="12.11" height="12.13" fill="#1ac0b5"/>
<rect x="643.10" y="253.46" width="12.11" height="12.13" fill="#00b9c7"/>
<rect x="655.16" y="253.46" width="12.11" height="12.13" fill="#10b2d5"/>
<rect x="667.22" y="253.46" width="12.11" height="12.13" fill="#1da9e0"/>
<rect x="679.28" y="253.46" width="12.11" height="12.13" fill="#23a1e4"/>
<rect x="691.35" y="253.46" width="12.11" height="12.13" fill="#2698ea"/>
<rect x="703.41" y="253.46" width="12.11" height="12.13" fill="#2d8af4"/>
<rect x="715.47" y="253.46" width="12.11" height="12.13" fill="#2e83f9"/>
<rect x="727.53" y="253.46" width="12.11" height="12.13" fill="#3b72ff"/>
<rect x="751.65" y="253.46" width="12.11" height="12.13" fill="#4562fc"/>
<rect x="775.78" y="253.46" width="12.11" height="12.13" fill="#475af9"/>
<rect x="76.20" y="265.53" width="12.11" height="12.13" fill="#484ff2"/>
<rect x="88.26" y="265.53" width="12.11" height="12.13" fill="#475af9"/>
<rect x="100.32" y="265.53" width="12.11" height="12.13" fill="#475cfa"/>
<rect x="112.38" y="265.53" width="12.11" height="12.13" fill="#4269fe"/>
<rect x="124.45" y="265.53" width="12.11" height="12.13" fill="#4369fe"/>
<rect x="136.51" y="265.53" width="12.11" height="12.13" fill="#3e6fff"/>
<rect x="148.57" y="265.53" width="12.11" height="12.13" fill="#337afd"/>
<rect x="160.63" y="265.53" width="12.11" height="12.13" fill="#3678fd"/>
<rect x="172.69" y="265.53" width="12.11" height="12.13" fill="#2f80fa"/>
<rect x="184.75" y="265.53" width="12.11" height="12.13" fill="#2d8ef1"/>
<rect x="196.82" y="265.53" width="12.11" height="12.13" fill="#2994ed"/>
<rect x="208.88" y="265.53" width="12.11" height="12.13" fill="#259de6"/>
<rect x="220.94" y="265.53" width="12.11" height="12.13" fill="#1ea7e1"/>
<rect x="233.00" y="265.53" width="12.11" height="12.13" fill="#14b0d8"/>
<rect x="245.06" y="265.53" width="12.11" height="12.13" fill="#00b8c8"/>
<rect x="257.12" y="265.53" width="12.11" height="12.13" fill="#20c1b1"/>
<rect x="269.19" y="265.53" width="12.11" height="12.13" fill="#39c895"/>
<rect x="281.25" y="265.53" width="12.11" height="12.13" fill="#61cd71"/>
<rect x="293.31" y="265.53" width="12.11" height="12.13" fill="#97ca47"/>
<rect x="305.37" y="265.53" width="12.11" height="12.13" fill="#c8c129"/>
<rect x="317.43" y="265.53" width="12.11" height="12.13" fill="#ecba32"/>
<rect x="329.50" y="265.53" width="12.11" height="12.13" fill="#fcbb3e"/>
<rect x="341.56" y="265.53" width="12.11" height="12.13" fill="#fec438"/>
<rect x="353.62" y="265.53" width="12.11" height="12.13" fill="#fdcc32"/>
<rect x="365.68" y="265.53" width="12.11" height="12.13" fill="#fbd22f"/>
<rect x="377.74" y="265.53" width="12.11" height="12.13" fill="#f9d72d"/>
<rect x="389.80" y="265.53" width="12.11" height="12.13" fill="#f8d92b"/>
<rect x="401.86" y="265.53" width="12.11" height="12.13" fill="#f8d92c"/>
<rect x="413.93" y="265.53" width="12.11" height="12.13" fill="#f9d82c"/>
<rect x="425.99" y="265.53" width="12.11" height="12.13" fill="#f9d62d"/>
<rect x="438.05" y="265.53" width="12.11" height="12.13" fill="#fad52d"/>
<rect x="450.11" y="265.53" width="12.11" height="12.13" fill="#fad42e"/>
<rect x="462.17" y="265.53" width="12.11" height="12.13" fill="#fbd32e"/>
<rect x="474.23" y="265.53" width="12.11" height="12.13" fill="#fbd22f"/>
<rect x="486.30" y="265.53" width="12.11" height="12.13" fill="#fccf30"/>
<rect x="498.36" y="265.53" width="12.11" height="12.13" fill="#fdcb33"/>
<rect x="510.42" y="265.53" width="12.11" height="12.13" fill="#fec636"/>
<rect x="522.48" y="265.53" width="12.11" height="12.13" fill="#fec03b"/>
<rect x="534.54" y="265.53" width="12.11" height="12.13" fill="#fabb3e"/>
<rect x="546.61" y="265.53" width="12.11" height="12.13" fill="#eeba34"/>
<rect x="558.67" y="265.53" width="12.11" height="12.13" fill="#d6be27"/>
<rect x="570.73" y="265.53" width="12.11" height="12.13" fill="#b7c532"/>
<rect x="582.79" y="265.53" width="12.11" height="12.13" fill="#92ca4c"/>
<rect x="594.85" y="265.53" width="12.11" height="12.13" fill="#6bcd69"/>
<rect x="606.91" y="265.53" width="12.11" height="12.13" fill="#4dcc82"/>
<rect x="618.98" y="265.53" width="12.11" height="12.13" fill="#3ac994"/>
<rect x="631.04" y="265.53" width="12.11" height="12.13" fill="#2ac3a9"/>
<rect x="643.10" y="265.53" width="12.11" height="12.13" fill="#0dbdbc"/>
<rect x="655.16" y="265.53" width="12.11" height="12.13" fill="#02b7cb"/>
<rect x="667.22" y="265.53" width="12.11" height="12.13" fill="#15b0d8"/>
<rect x="679.28" y="265.53" width="12.11" height="12.13" fill="#1fa5e2"/>
<rect x="691.35" y="265.53" width="12.11" height="12.13" fill="#249ee6"/>
<rect x="715.47" y="265.53" width="12.11" height="12.13" fill="#2d89f5"/>
<rect x="727.53" y="265.53" width="12.11" height="12.13" fill="#317cfc"/>
<rect x="739.59" y="265.53" width="12.11" height="12.13" fill="#3b73ff"/>
<rect x="751.65" y="265.53" width="12.11" height="12.13" fill="#4465fd"/>
<rect x="763.72" y="265.53" width="24.17" height="12.13" fill="#465ffb"/>
<rect x="76.20" y="277.61" width="12.11" height="12.13" fill="#4758f8"/>
<rect x="100.32" y="277.61" width="12.11" height="12.13" fill="#465ffb"/>
<rect x="124.45" y="277.61" width="12.11" height="12.13" fill="#4466fd"/>
<rect x="148.57" y="277.61" width="12.11" height="12.13" fill="#327cfc"/>
<rect x="160.63" y="277.61" width="12.11" height="12.13" fill="#307efb"/>
<rect x="172.69" y="277.61" width="12.11" height="12.13" fill="#2e85f8"/>
<rect x="184.75" y="277.61" width="12.11" height="12.13" fill="#2c8ff0"/>
<rect x="196.82" y="277.61" width="12.11" height="12.13" fill="#2698ea"/>
<rect x="208.88" y="277.61" width="12.11" height="12.13" fill="#22a2e4"/>
<rect x="220.94" y="277.61" width="12.11" height="12.13" fill="#19acdc"/>
<rect x="233.00" y="277.61" width="12.11" height="12.13" fill="#07b5d0"/>
<rect x="245.06" y="277.61" width="12.11" height="12.13" fill="#11beba"/>
<rect x="257.12" y="277.61" width="12.11" height="12.13" fill="#30c5a1"/>
<rect x="269.19" y="277.61" width="12.11" height="12.13" fill="#4dcc82"/>
<rect x="281.25" y="277.61" width="12.11" height="12.13" fill="#83cc57"/>
<rect x="293.31" y="277.61" width="12.11" height="12.13" fill="#bcc42f"/>
<rect x="305.37" y="277.61" width="12.11" height="12.13" fill="#e7bb2e"/>
<rect x="317.43" y="277.61" width="12.11" height="12.13" fill="#fcbc3e"/>
<rect x="329.50" y="277.61" width="12.11" height="12.13" fill="#fec636"/>
<rect x="341.56" y="277.61" width="12.11" height="12.13" fill="#fcd12f"/>
<rect x="353.62" y="277.61" width="12.11" height="12.13" fill="#f8da2b"/>
<rect x="365.68" y="277.61" width="12.11" height="12.13" fill="#f5e128"/>
<rect x="377.74" y="277.61" width="24.17" height="12.13" fill="#f5e227"/>
<rect x="401.86" y="277.61" width="12.11" height="12.13" fill="#f5e228"/>
<rect x="413.93" y="277.61" width="12.11" height="12.13" fill="#f5e128"/>
<rect x="425.99" y="277.61" width="12.11" height="12.13" fill="#f6e028"/>
<rect x="438.05" y="277.61" width="12.11" height="12.13" fill="#f6df29"/>
<rect x="450.11" y="277.61" width="12.11" height="12.13" fill="#f6de29"/>
<rect x="462.17" y="277.61" width="12.11" height="12.13" fill="#f7dd2a"/>
<rect x="474.23" y="277.61" width="12.11" height="12.13" fill="#f7db2a"/>
<rect x="486.30" y="277.61" width="12.11" height="12.13" fill="#f8d92c"/>
<rect x="498.36" y="277.61" width="12.11" height="12.13" fill="#fad52d"/>
<rect x="510.42" y="277.61" width="12.11" height="12.13" fill="#fccf30"/>
<rect x="522.48" y="277.61" width="12.11" height="12.13" fill="#fec834"/>
<rect x="534.54" y="277.61" width="12.11" height="12.13" fill="#fec03a"/>
<rect x="546.61" y="277.61" width="12.11" height="12.13" fill="#f9ba3e"/>
<rect x="558.67" y="277.61" width="12.11" height="12.13" fill="#eaba30"/>
<rect x="570.73" y="277.61" width="12.11" height="12.13" fill="#cfc027"/>
<rect x="582.79" y="277.61" width="12.11" height="12.13" fill="#abc739"/>
<rect x="594.85" y="277.61" width="12.11" height="12.13" fill="#83cc57"/>
<rect x="606.91" y="277.61" width="12.11" height="12.13" fill="#5dcd75"/>
<rect x="618.98" y="277.61" width="12.11" height="12.13" fill="#43ca8b"/>
<rect x="631.04" y="277.61" width="12.11" height="12.13" fill="#34c79b"/>
<rect x="643.10" y="277.61" width="12.11" height="12.13" fill="#20c1b1"/>
<rect x="655.16" y="277.61" width="12.11" height="12.13" fill="#00b9c6"/>
<rect x="667.22" y="277.61" width="12.11" height="12.13" fill="#0db3d4"/>
<rect x="679.28" y="277.61" width="12.11" height="12.13" fill="#1baade"/>
<rect x="691.35" y="277.61" width="12.11" height="12.13" fill="#22a1e4"/>
<rect x="703.41" y="277.61" width="12.11" height="12.13" fill="#2798ea"/>
<rect x="715.47" y="277.61" width="12.11" height="12.13" fill="#2d8ef1"/>
<rect x="739.59" y="277.61" width="12.11" height="12.13" fill="#347afd"/>
<rect x="751.65" y="277.61" width="24.17" height="12.13" fill="#4562fc"/>
<rect x="787.84" y="277.61" width="12.11" height="12.13" fill="#4851f3"/>
<rect x="76.20" y="289.69" width="12.11" height="12.13" fill="#4757f7"/>
<rect x="100.32" y="289.69" width="12.11" height="12.13" fill="#475af9"/>
<rect x="124.45" y="289.69" width="12.11" height="12.13" fill="#3d71ff"/>
<rect x="136.51" y="289.69" width="12.11" height="12.13" fill="#3876fe"/>
<rect x="148.57" y="289.69" width="12.11" height="12.13" fill="#307ffb"/>
<rect x="160.63" y="289.69" width="12.11" height="12.13" fill="#2e85f8"/>
<rect x="172.69" y="289.69" width="12.11" height="12.13" fill="#2d89f6"/>
<rect x="184.75" y="289.69" width="12.11" height="12.13" fill="#2b92ee"/>
<rect x="196.82" y="289.69" width="12.11" height="12.13" fill="#259ce7"/>
<rect x="208.88" y="289.69" width="12.11" height="12.13" fill="#1fa6e2"/>
<rect x="220.94" y="289.69" width="12.11" height="12.13" fill="#14b0d8"/>
<rect x="233.00" y="289.69" width="12.11" height="12.13" fill="#00b9c6"/>
<rect x="245.06" y="289.69" width="12.11" height="12.13" fill="#26c2ac"/>
<rect x="257.12" y="289.69" width="12.11" height="12.13" fill="#3bc992"/>
<rect x="269.19" y="289.69" width="12.11" height="12.13" fill="#65cd6e"/>
<rect x="281.25" y="289.69" width="12.11" height="12.13" fill="#a4c83e"/>
<rect x="293.31" y="289.69" width="12.11" height="12.13" fill="#d9be28"/>
<rect x="305.37" y="289.69" width="12.11" height="12.13" fill="#f8ba3d"/>
<rect x="317.43" y="289.69" width="12.11" height="12.13" fill="#fec636"/>
<rect x="329.50" y="289.69" width="12.11" height="12.13" fill="#fbd22f"/>
<rect x="341.56" y="289.69" width="12.11" height="12.13" fill="#f6de29"/>
<rect x="353.62" y="289.69" width="12.11" height="12.13" fill="#f5e825"/>
<rect x="365.68" y="289.69" width="24.17" height="12.13" fill="#f5e924"/>
<rect x="389.80" y="289.69" width="12.11" height="12.13" fill="#f5ea24"/>
<rect x="401.86" y="289.69" width="24.17" height="12.13" fill="#f5e924"/>
<rect x="425.99" y="289.69" width="12.11" height="12.13" fill="#f5e825"/>
<rect x="438.05" y="289.69" width="12.11" height="12.13" fill="#f5e725"/>
<rect x="450.11" y="289.69" width="12.11" height="12.13" fill="#f5e626"/>
<rect x="462.17" y="289.69" width="12.11" height="12.13" fill="#f5e526"/>
<rect x="474.23" y="289.69" width="12.11" height="12.13" fill="#f5e427"/>
<rect x="486.30" y="289.69" width="12.11" height="12.13" fill="#f5e128"/>
<rect x="498.36" y="289.69" width="12.11" height="12.13" fill="#f7dd2a"/>
<rect x="510.42" y="289.69" width="12.11" height="12.13" fill="#f8d82c"/>
<rect x="522.48" y="289.69" width="12.11" height="12.13" fill="#fcd030"/>
<rect x="534.54" y="289.69" width="12.11" height="12.13" fill="#fec735"/>
<rect x="546.61" y="289.69" width="12.11" height="12.13" fill="#febe3c"/>
<rect x="558.67" y="289.69" width="12.11" height="12.13" fill="#f4ba3a"/>
<rect x="570.73" y="289.69" width="12.11" height="12.13" fill="#dfbc2a"/>
<rect x="582.79" y="289.69" width="12.11" height="12.13" fill="#c0c32d"/>
<rect x="594.85" y="289.69" width="12.11" height="12.13" fill="#98ca47"/>
<rect x="606.91" y="289.69" width="12.11" height="12.13" fill="#6ecd67"/>
<rect x="618.98" y="289.69" width="12.11" height="12.13" fill="#51cc7f"/>
<rect x="631.04" y="289.69" width="12.11" height="12.13" fill="#3bc992"/>
<rect x="643.10" y="289.69" width="12.11" height="12.13" fill="#2cc4a7"/>
<rect x="655.16" y="289.69" width="12.11" height="12.13" fill="#0ebdbb"/>
<rect x="667.22" y="289.69" width="12.11" height="12.13" fill="#02b7cc"/>
<rect x="679.28" y="289.69" width="12.11" height="12.13" fill="#16afd9"/>
<rect x="703.41" y="289.69" width="12.11" height="12.13" fill="#269ae9"/>
<rect x="715.47" y="289.69" width="12.11" height="12.13" fill="#2c90f0"/>
<rect x="739.59" y="289.69" width="12.11" height="12.13" fill="#3678fd"/>
<rect x="763.72" y="289.69" width="12.11" height="12.13" fill="#4464fd"/>
<rect x="787.84" y="289.69" width="12.11" height="12.13" fill="#475bfa"/>
<rect x="76.20" y="301.76" width="12.11" height="12.13" fill="#4756f6"/>
<rect x="100.32" y="301.76" width="12.11" height="12.13" fill="#4562fc"/>
<rect x="112.38" y="301.76" width="12.11" height="12.13" fill="#4465fd"/>
<rect x="124.45" y="301.76" width="12.11" height="12.13" fill="#3e70ff"/>
<rect x="136.51" y="301.76" width="12.11" height="12.13" fill="#3875fe"/>
<rect x="160.63" y="301.76" width="12.11" height="12.13" fill="#2e83f9"/>
<rect x="172.69" y="301.76" width="12.11" height="12.13" fill="#2d8cf3"/>
<rect x="184.75" y="301.76" width="12.11" height="12.13" fill="#2797eb"/>
<rect x="196.82" y="301.76" width="12.11" height="12.13" fill="#23a0e5"/>
<rect x="208.88" y="301.76" width="12.11" height="12.13" fill="#1caadf"/>
<rect x="220.94" y="301.76" width="12.11" height="12.13" fill="#07b5d0"/>
<rect x="233.00" y="301.76" width="12.11" height="12.13" fill="#12beb9"/>
<rect x="245.06" y="301.76" width="12.11" height="12.13" fill="#30c5a2"/>
<rect x="257.12" y="301.76" width="12.11" height="12.13" fill="#49cb85"/>
<rect x="269.19" y="301.76" width="12.11" height="12.13" fill="#80cc59"/>
<rect x="281.25" y="301.76" width="12.11" height="12.13" fill="#bfc32d"/>
<rect x="293.31" y="301.76" width="12.11" height="12.13" fill="#eeba34"/>
<rect x="305.37" y="301.76" width="12.11" height="12.13" fill="#fec239"/>
<rect x="317.43" y="301.76" width="12.11" height="12.13" fill="#fcd030"/>
<rect x="329.50" y="301.76" width="12.11" height="12.13" fill="#f6df29"/>
<rect x="341.56" y="301.76" width="12.11" height="12.13" fill="#f5ea24"/>
<rect x="353.62" y="301.76" width="12.11" height="12.13" fill="#f5ec22"/>
<rect x="365.68" y="301.76" width="12.11" height="12.13" fill="#f5ee21"/>
<rect x="377.74" y="301.76" width="12.11" height="12.13" fill="#f6ef20"/>
<rect x="389.80" y="301.76" width="36.23" height="12.13" fill="#f6f01f"/>
<rect x="425.99" y="301.76" width="12.11" height="12.13" fill="#f6ef20"/>
<rect x="438.05" y="301.76" width="12.11" height="12.13" fill="#f5ef20"/>
<rect x="450.11" y="301.76" width="12.11" height="12.13" fill="#f5ee21"/>
<rect x="462.17" y="301.76" width="12.11" height="12.13" fill="#f5ed22"/>
<rect x="474.23" y="301.76" width="12.11" height="12.13" fill="#f5eb23"/>
<rect x="486.30" y="301.76" width="12.11" height="12.13" fill="#f5e825"/>
<rect x="498.36" y="301.76" width="12.11" height="12.13" fill="#f5e427"/>
<rect x="510.42" y="301.76" width="12.11" height="12.13" fill="#f6de29"/>
<rect x="522.48" y="301.76" width="12.11" height="12.13" fill="#f9d72c"/>
<rect x="534.54" y="301.76" width="12.11" height="12.13" fill="#fdce31"/>
<rect x="546.61" y="301.76" width="12.11" height="12.13" fill="#fec438"/>
<rect x="558.67" y="301.76" width="12.11" height="12.13" fill="#fbbb3e"/>
<rect x="570.73" y="301.76" width="12.11" height="12.13" fill="#ebba31"/>
<rect x="582.79" y="301.76" width="12.11" height="12.13" fill="#d0bf27"/>
<rect x="594.85" y="301.76" width="12.11" height="12.13" fill="#abc739"/>
<rect x="606.91" y="301.76" width="12.11" height="12.13" fill="#82cc58"/>
<rect x="618.98" y="301.76" width="12.11" height="12.13" fill="#5bcc77"/>
<rect x="631.04" y="301.76" width="12.11" height="12.13" fill="#43cb8a"/>
<rect x="643.10" y="301.76" width="12.11" height="12.13" fill="#34c79b"/>
<rect x="655.16" y="301.76" width="12.11" height="12.13" fill="#1dc0b3"/>
<rect x="667.22" y="301.76" width="12.11" height="12.13" fill="#00b8c9"/>
<rect x="679.28" y="301.76" width="12.11" height="12.13" fill="#10b2d5"/>
<rect x="691.35" y="301.76" width="12.11" height="12.13" fill="#1da8e0"/>
<rect x="703.41" y="301.76" width="12.11" height="12.13" fill="#249fe5"/>
<rect x="727.53" y="301.76" width="12.11" height="12.13" fill="#2d89f6"/>
<rect x="739.59" y="301.76" width="12.11" height="12.13" fill="#337bfc"/>
<rect x="751.65" y="301.76" width="12.11" height="12.13" fill="#3c72ff"/>
<rect x="763.72" y="301.76" width="12.11" height="12.13" fill="#4367fd"/>
<rect x="787.84" y="301.76" width="12.11" height="12.13" fill="#465dfb"/>
<rect x="76.20" y="313.84" width="12.11" height="12.13" fill="#465dfa"/>
<rect x="88.26" y="313.84" width="12.11" height="12.13" fill="#475cfa"/>
<rect x="100.32" y="313.84" width="12.11" height="12.13" fill="#4562fc"/>
<rect x="112.38" y="313.84" width="12.11" height="12.13" fill="#4368fe"/>
<rect x="136.51" y="313.84" width="12.11" height="12.13" fill="#327cfc"/>
<rect x="160.63" y="313.84" width="12.11" height="12.13" fill="#2e85f8"/>
<rect x="172.69" y="313.84" width="12.11" height="12.13" fill="#2d8ef1"/>
<rect x="184.75" y="313.84" width="12.11" height="12.13" fill="#259be8"/>
<rect x="196.82" y="313.84" width="12.11" height="12.13" fill="#21a4e3"/>
<rect x="208.88" y="313.84" width="12.11" height="12.13" fill="#16afd9"/>
<rect x="220.94" y="313.84" width="12.11" height="12.13" fill="#01b8ca"/>
<rect x="233.00" y="313.84" width="12.11" height="12.13" fill="#25c2ae"/>
<rect x="245.06" y="313.84" width="12.11" height="12.13" fill="#36c898"/>
<rect x="257.12" y="313.84" width="12.11" height="12.13" fill="#56cc7b"/>
<rect x="269.19" y="313.84" width="12.11" height="12.13" fill="#99c946"/>
<rect x="281.25" y="313.84" width="12.11" height="12.13" fill="#d5be27"/>
<rect x="293.31" y="313.84" width="12.11" height="12.13" fill="#fcbb3e"/>
<rect x="305.37" y="313.84" width="12.11" height="12.13" fill="#fdcc32"/>
<rect x="317.43" y="313.84" width="12.11" height="12.13" fill="#f7dc2a"/>
<rect x="329.50" y="313.84" width="12.11" height="12.13" fill="#f5e924"/>
<rect x="341.56" y="313.84" width="12.11" height="12.13" fill="#f5ed21"/>
<rect x="353.62" y="313.84" width="12.11" height="12.13" fill="#f6f01f"/>
<rect x="365.68" y="313.84" width="12.11" height="12.13" fill="#f6f31d"/>
<rect x="377.74" y="313.84" width="12.11" height="12.13" fill="#f7f51b"/>
<rect x="389.80" y="313.84" width="24.17" height="12.13" fill="#f7f61a"/>
<rect x="413.93" y="313.84" width="12.11" height="12.13" fill="#f7f51b"/>
<rect x="425.99" y="313.84" width="24.17" height="12.13" fill="#f7f41c"/>
<rect x="450.11" y="313.84" width="12.11" height="12.13" fill="#f7f31d"/>
<rect x="462.17" y="313.84" width="12.11" height="12.13" fill="#f6f21d"/>
<rect x="474.23" y="313.84" width="12.11" height="12.13" fill="#f6f21e"/>
<rect x="486.30" y="313.84" width="12.11" height="12.13" fill="#f5ee21"/>
<rect x="498.36" y="313.84" width="12.11" height="12.13" fill="#f5e924"/>
<rect x="510.42" y="313.84" width="12.11" height="12.13" fill="#f5e327"/>
<rect x="522.48" y="313.84" width="12.11" height="12.13" fill="#f7db2a"/>
<rect x="534.54" y="313.84" width="12.11" height="12.13" fill="#fbd32f"/>
<rect x="546.61" y="313.84" width="12.11" height="12.13" fill="#fec835"/>
<rect x="558.67" y="313.84" width="12.11" height="12.13" fill="#febe3c"/>
<rect x="570.73" y="313.84" width="12.11" height="12.13" fill="#f1ba37"/>
<rect x="582.79" y="313.84" width="12.11" height="12.13" fill="#dabd28"/>
<rect x="594.85" y="313.84" width="12.11" height="12.13" fill="#bac430"/>
<rect x="606.91" y="313.84" width="12.11" height="12.13" fill="#8ecb4e"/>
<rect x="618.98" y="313.84" width="12.11" height="12.13" fill="#62cd71"/>
<rect x="631.04" y="313.84" width="12.11" height="12.13" fill="#4ccb83"/>
<rect x="643.10" y="313.84" width="12.11" height="12.13" fill="#3bc992"/>
<rect x="655.16" y="313.84" width="12.11" height="12.13" fill="#27c2ac"/>
<rect x="667.22" y="313.84" width="12.11" height="12.13" fill="#04bbc1"/>
<rect x="691.35" y="313.84" width="12.11" height="12.13" fill="#1aacdd"/>
<rect x="703.41" y="313.84" width="12.11" height="12.13" fill="#21a3e3"/>
<rect x="715.47" y="313.84" width="12.11" height="12.13" fill="#269ae9"/>
<rect x="727.53" y="313.84" width="12.11" height="12.13" fill="#2d8bf3"/>
<rect x="739.59" y="313.84" width="12.11" height="12.13" fill="#307efb"/>
<rect x="751.65" y="313.84" width="12.11" height="12.13" fill="#3777fe"/>
<rect x="763.72" y="313.84" width="12.11" height="12.13" fill="#4269fe"/>
<rect x="775.78" y="313.84" width="12.11" height="12.13" fill="#4367fd"/>
<rect x="787.84" y="313.84" width="12.11" height="12.13" fill="#4758f8"/>
<rect x="88.26" y="325.92" width="12.11" height="12.13" fill="#4855f6"/>
<rect x="112.38" y="325.92" width="12.11" height="12.13" fill="#3d71ff"/>
<rect x="136.51" y="325.92" width="12.11" height="12.13" fill="#337bfc"/>
<rect x="148.57" y="325.92" width="12.11" height="12.13" fill="#317dfc"/>
<rect x="172.69" y="325.92" width="12.11" height="12.13" fill="#2b91ef"/>
<rect x="184.75" y="325.92" width="12.11" height="12.13" fill="#249de6"/>
<rect x="208.88" y="325.92" width="12.11" height="12.13" fill="#12b1d7"/>
<rect x="220.94" y="325.92" width="12.11" height="12.13" fill="#03bbc1"/>
<rect x="233.00" y="325.92" width="12.11" height="12.13" fill="#2cc4a7"/>
<rect x="245.06" y="325.92" width="12.11" height="12.13" fill="#3dca90"/>
<rect x="257.12" y="325.92" width="12.11" height="12.13" fill="#67cd6c"/>
<rect x="269.19" y="325.92" width="12.11" height="12.13" fill="#acc738"/>
<rect x="281.25" y="325.92" width="12.11" height="12.13" fill="#e6bb2d"/>
<rect x="293.31" y="325.92" width="12.11" height="12.13" fill="#fec338"/>
<rect x="305.37" y="325.92" width="12.11" height="12.13" fill="#fad42e"/>
<rect x="317.43" y="325.92" width="12.11" height="12.13" fill="#f5e626"/>
<rect x="329.50" y="325.92" width="12.11" height="12.13" fill="#f5ed22"/>
<rect x="341.56" y="325.92" width="12.11" height="12.13" fill="#f6f01f"/>
<rect x="353.62" y="325.92" width="12.11" height="12.13" fill="#f7f31d"/>
<rect x="365.68" y="325.92" width="12.11" height="12.13" fill="#f8f61a"/>
<rect x="377.74" y="325.92" width="60.36" height="12.13" fill="#f8f917"/>
<rect x="438.05" y="325.92" width="12.11" height="12.13" fill="#f8f818"/>
<rect x="450.11" y="325.92" width="12.11" height="12.13" fill="#f8f719"/>
<rect x="462.17" y="325.92" width="12.11" height="12.13" fill="#f7f51b"/>
<rect x="474.23" y="325.92" width="12.11" height="12.13" fill="#f7f41c"/>
<rect x="486.30" y="325.92" width="12.11" height="12.13" fill="#f7f41d"/>
<rect x="498.36" y="325.92" width="12.11" height="12.13" fill="#f5ee21"/>
<rect x="510.42" y="325.92" width="12.11" height="12.13" fill="#f5e626"/>
<rect x="522.48" y="325.92" width="12.11" height="12.13" fill="#f6de29"/>
<rect x="534.54" y="325.92" width="12.11" height="12.13" fill="#fad52e"/>
<rect x="546.61" y="325.92" width="12.11" height="12.13" fill="#fdcc32"/>
<rect x="558.67" y="325.92" width="12.11" height="12.13" fill="#fec03a"/>
<rect x="570.73" y="325.92" width="12.11" height="12.13" fill="#f5ba3b"/>
<rect x="582.79" y="325.92" width="12.11" height="12.13" fill="#e2bc2b"/>
<rect x="594.85" y="325.92" width="12.11" height="12.13" fill="#c3c22b"/>
<rect x="606.91" y="325.92" width="12.11" height="12.13" fill="#9bc944"/>
<rect x="618.98" y="325.92" width="12.11" height="12.13" fill="#6dcd67"/>
<rect x="631.04" y="325.92" width="12.11" height="12.13" fill="#51cc7f"/>
<rect x="643.10" y="325.92" width="12.11" height="12.13" fill="#3fca8e"/>
<rect x="655.16" y="325.92" width="12.11" height="12.13" fill="#30c5a2"/>
<rect x="667.22" y="325.92" width="12.11" height="12.13" fill="#12beb9"/>
<rect x="679.28" y="325.92" width="12.11" height="12.13" fill="#02b7cb"/>
<rect x="691.35" y="325.92" width="12.11" height="12.13" fill="#18aedb"/>
<rect x="715.47" y="325.92" width="12.11" height="12.13" fill="#259be8"/>
<rect x="727.53" y="325.92" width="12.11" height="12.13" fill="#2c90f0"/>
<rect x="751.65" y="325.92" width="12.11" height="12.13" fill="#347afd"/>
<rect x="775.78" y="325.92" width="12.11" height="12.13" fill="#4561fc"/>
<rect x="88.26" y="337.99" width="12.11" height="12.13" fill="#4466fd"/>
<rect x="112.38" y="337.99" width="12.11" height="12.13" fill="#3b73ff"/>
<rect x="124.45" y="337.99" width="12.11" height="12.13" fill="#337bfc"/>
<rect x="136.51" y="337.99" width="12.11" height="12.13" fill="#307ffb"/>
<rect x="148.57" y="337.99" width="12.11" height="12.13" fill="#2f81fa"/>
<rect x="172.69" y="337.99" width="12.11" height="12.13" fill="#2a93ee"/>
<rect x="184.75" y="337.99" width="12.11" height="12.13" fill="#259de6"/>
<rect x="196.82" y="337.99" width="12.11" height="12.13" fill="#1ca9df"/>
<rect x="220.94" y="337.99" width="12.11" height="12.13" fill="#10beba"/>
<rect x="233.00" y="337.99" width="12.11" height="12.13" fill="#30c5a2"/>
<rect x="245.06" y="337.99" width="12.11" height="12.13" fill="#42ca8b"/>
<rect x="257.12" y="337.99" width="12.11" height="12.13" fill="#76cc61"/>
<rect x="269.19" y="337.99" width="12.11" height="12.13" fill="#bcc42f"/>
<rect x="281.25" y="337.99" width="12.11" height="12.13" fill="#f1ba37"/>
<rect x="293.31" y="337.99" width="12.11" height="12.13" fill="#fec934"/>
<rect x="305.37" y="337.99" width="12.11" height="12.13" fill="#f7dc2a"/>
<rect x="317.43" y="337.99" width="12.11" height="12.13" fill="#f5ea23"/>
<rect x="329.50" y="337.99" width="12.11" height="12.13" fill="#f6ef20"/>
<rect x="341.56" y="337.99" width="12.11" height="12.13" fill="#f6f31d"/>
<rect x="353.62" y="337.99" width="12.11" height="12.13" fill="#f7f61a"/>
<rect x="365.68" y="337.99" width="12.11" height="12.13" fill="#f8f917"/>
<rect x="377.74" y="337.99" width="24.17" height="12.13" fill="#f9fa16"/>
<rect x="474.23" y="337.99" width="12.11" height="12.13" fill="#f7f61a"/>
<rect x="486.30" y="337.99" width="12.11" height="12.13" fill="#f7f51b"/>
<rect x="498.36" y="337.99" width="12.11" height="12.13" fill="#f6f21e"/>
<rect x="510.42" y="337.99" width="12.11" height="12.13" fill="#f5e924"/>
<rect x="522.48" y="337.99" width="12.11" height="12.13" fill="#f6e028"/>
<rect x="534.54" y="337.99" width="12.11" height="12.13" fill="#f9d62d"/>
<rect x="546.61" y="337.99" width="12.11" height="12.13" fill="#fdcd31"/>
<rect x="558.67" y="337.99" width="12.11" height="12.13" fill="#fec239"/>
<rect x="570.73" y="337.99" width="12.11" height="12.13" fill="#f8ba3d"/>
<rect x="582.79" y="337.99" width="12.11" height="12.13" fill="#e5bb2c"/>
<rect x="594.85" y="337.99" width="12.11" height="12.13" fill="#c9c128"/>
<rect x="606.91" y="337.99" width="12.11" height="12.13" fill="#a3c83e"/>
<rect x="618.98" y="337.99" width="12.11" height="12.13" fill="#77cc60"/>
<rect x="631.04" y="337.99" width="12.11" height="12.13" fill="#56cc7b"/>
<rect x="643.10" y="337.99" width="12.11" height="12.13" fill="#45cb88"/>
<rect x="655.16" y="337.99" width="12.11" height="12.13" fill="#34c79c"/>
<rect x="667.22" y="337.99" width="12.11" height="12.13" fill="#1abfb5"/>
<rect x="679.28" y="337.99" width="12.11" height="12.13" fill="#01b8c9"/>
<rect x="691.35" y="337.99" width="12.11" height="12.13" fill="#11b2d5"/>
<rect x="88.26" y="350.07" width="12.11" height="12.13" fill="#4660fc"/>
<rect x="112.38" y="350.07" width="12.11" height="12.13" fill="#406dfe"/>
<rect x="124.45" y="350.07" width="12.11" height="12.13" fill="#3678fe"/>
<rect x="148.57" y="350.07" width="12.11" height="12.13" fill="#2e85f8"/>
<rect x="160.63" y="350.07" width="12.11" height="12.13" fill="#2d8af5"/>
<rect x="172.69" y="350.07" width="12.11" height="12.13" fill="#2796eb"/>
<rect x="184.75" y="350.07" width="12.11" height="12.13" fill="#249fe5"/>
<rect x="196.82" y="350.07" width="12.11" height="12.13" fill="#1aacdd"/>
<rect x="208.88" y="350.07" width="12.11" height="12.13" fill="#06b5cf"/>
<rect x="220.94" y="350.07" width="12.11" height="12.13" fill="#1dc0b3"/>
<rect x="233.00" y="350.07" width="12.11" height="12.13" fill="#32c69e"/>
<rect x="245.06" y="350.07" width="12.11" height="12.13" fill="#46cb88"/>
<rect x="257.12" y="350.07" width="12.11" height="12.13" fill="#82cc58"/>
<rect x="269.19" y="350.07" width="12.11" height="12.13" fill="#c6c22a"/>
<rect x="281.25" y="350.07" width="12.11" height="12.13" fill="#fabb3e"/>
<rect x="293.31" y="350.07" width="12.11" height="12.13" fill="#fdce31"/>
<rect x="305.37" y="350.07" width="12.11" height="12.13" fill="#f5e227"/>
<rect x="317.43" y="350.07" width="12.11" height="12.13" fill="#f5ed22"/>
<rect x="329.50" y="350.07" width="12.11" height="12.13" fill="#f6f11f"/>
<rect x="341.56" y="350.07" width="12.11" height="12.13" fill="#f7f41c"/>
<rect x="353.62" y="350.07" width="12.11" height="12.13" fill="#f8f719"/>
<rect x="365.68" y="350.07" width="12.11" height="12.13" fill="#f8f917"/>
<rect x="377.74" y="350.07" width="12.11" height="12.13" fill="#f9fa16"/>
<rect x="486.30" y="350.07" width="12.11" height="12.13" fill="#f8f719"/>
<rect x="498.36" y="350.07" width="12.11" height="12.13" fill="#f7f41c"/>
<rect x="510.42" y="350.07" width="12.11" height="12.13" fill="#f5ec23"/>
<rect x="522.48" y="350.07" width="12.11" height="12.13" fill="#f5e228"/>
<rect x="534.54" y="350.07" width="12.11" height="12.13" fill="#f9d72c"/>
<rect x="546.61" y="350.07" width="12.11" height="12.13" fill="#fdcd31"/>
<rect x="558.67" y="350.07" width="12.11" height="12.13" fill="#fec438"/>
<rect x="570.73" y="350.07" width="12.11" height="12.13" fill="#faba3e"/>
<rect x="582.79" y="350.07" width="12.11" height="12.13" fill="#e8bb2e"/>
<rect x="594.85" y="350.07" width="12.11" height="12.13" fill="#cdc028"/>
<rect x="606.91" y="350.07" width="12.11" height="12.13" fill="#abc739"/>
<rect x="618.98" y="350.07" width="12.11" height="12.13" fill="#7ecc5a"/>
<rect x="691.35" y="350.07" width="12.11" height="12.13" fill="#11b2d5"/>
<rect x="715.47" y="350.07" width="12.11" height="12.13" fill="#23a1e4"/>
<rect x="727.53" y="350.07" width="12.11" height="12.13" fill="#2895ec"/>
<rect x="751.65" y="350.07" width="12.11" height="12.13" fill="#327cfc"/>
<rect x="775.78" y="350.07" width="12.11" height="12.13" fill="#416bfe"/>
<rect x="88.26" y="362.15" width="12.11" height="12.13" fill="#465dfb"/>
<rect x="112.38" y="362.15" width="12.11" height="12.13" fill="#3e70ff"/>
<rect x="124.45" y="362.15" width="12.11" height="12.13" fill="#3579fd"/>
<rect x="148.57" y="362.15" width="12.11" height="12.13" fill="#2f82fa"/>
<rect x="160.63" y="362.15" width="12.11" height="12.13" fill="#2d8cf3"/>
<rect x="184.75" y="362.15" width="12.11" height="12.13" fill="#22a2e4"/>
<rect x="196.82" y="362.15" width="12.11" height="12.13" fill="#1aacdd"/>
<rect x="208.88" y="362.15" width="12.11" height="12.13" fill="#05b5cf"/>
<rect x="220.94" y="362.15" width="12.11" height="12.13" fill="#23c1af"/>
<rect x="245.06" y="362.15" width="12.11" height="12.13" fill="#47cb87"/>
<rect x="257.12" y="362.15" width="12.11" height="12.13" fill="#89cb52"/>
<rect x="269.19" y="362.15" width="12.11" height="12.13" fill="#ccc028"/>
<rect x="281.25" y="362.15" width="12.11" height="12.13" fill="#febe3c"/>
<rect x="293.31" y="362.15" width="12.11" height="12.13" fill="#fbd22f"/>
<rect x="305.37" y="362.15" width="12.11" height="12.13" fill="#f5e626"/>
<rect x="317.43" y="362.15" width="12.11" height="12.13" fill="#f5ee21"/>
<rect x="329.50" y="362.15" width="12.11" height="12.13" fill="#f6f11e"/>
<rect x="341.56" y="362.15" width="12.11" height="12.13" fill="#f7f51b"/>
<rect x="353.62" y="362.15" width="12.11" height="12.13" fill="#f8f719"/>
<rect x="365.68" y="362.15" width="12.11" height="12.13" fill="#f8f917"/>
<rect x="377.74" y="362.15" width="12.11" height="12.13" fill="#f9fa16"/>
<rect x="486.30" y="362.15" width="12.11" height="12.13" fill="#f8f817"/>
<rect x="498.36" y="362.15" width="12.11" height="12.13" fill="#f8f61a"/>
<rect x="510.42" y="362.15" width="12.11" height="12.13" fill="#f5ed22"/>
<rect x="522.48" y="362.15" width="12.11" height="12.13" fill="#f5e327"/>
<rect x="534.54" y="362.15" width="12.11" height="12.13" fill="#f9d72c"/>
<rect x="546.61" y="362.15" width="12.11" height="12.13" fill="#fdcd32"/>
<rect x="558.67" y="362.15" width="12.11" height="12.13" fill="#fec437"/>
<rect x="570.73" y="362.15" width="12.11" height="12.13" fill="#fabb3e"/>
<rect x="582.79" y="362.15" width="12.11" height="12.13" fill="#eaba30"/>
<rect x="594.85" y="362.15" width="12.11" height="12.13" fill="#cfc027"/>
<rect x="606.91" y="362.15" width="12.11" height="12.13" fill="#afc637"/>
<rect x="618.98" y="362.15" width="12.11" height="12.13" fill="#82cc58"/>
<rect x="631.04" y="362.15" width="12.11" height="12.13" fill="#58cc79"/>
<rect x="655.16" y="362.15" width="12.11" height="12.13" fill="#39c994"/>
<rect x="667.22" y="362.15" width="12.11" height="12.13" fill="#25c2ae"/>
<rect x="679.28" y="362.15" width="12.11" height="12.13" fill="#00b9c8"/>
<rect x="317.43" y="374.22" width="12.11" height="12.38" fill="#f5ee21"/>
<rect x="329.50" y="374.22" width="12.11" height="12.38" fill="#f6f21e"/>
<rect x="341.56" y="374.22" width="12.11" height="12.38" fill="#f7f61b"/>
<rect x="353.62" y="374.22" width="12.11" height="12.38" fill="#f8f719"/>
<rect x="365.68" y="374.22" width="12.11" height="12.38" fill="#f8f917"/>
<rect x="498.36" y="374.22" width="12.11" height="12.38" fill="#f8f817"/>
<rect x="510.42" y="374.22" width="12.11" height="12.38" fill="#f5ee21"/>
<rect x="522.48" y="374.22" width="12.11" height="12.38" fill="#f5e327"/>
<rect x="534.54" y="374.22" width="12.11" height="12.38" fill="#f9d82c"/>
<rect x="546.61" y="374.22" width="12.11" height="12.38" fill="#fdcc32"/>
<rect x="558.67" y="374.22" width="12.11" height="12.38" fill="#fec437"/>
<rect x="570.73" y="374.22" width="12.11" height="12.38" fill="#fbbb3e"/>
<rect x="582.79" y="374.22" width="12.11" height="12.38" fill="#eaba30"/>
<rect x="594.85" y="374.22" width="12.11" height="12.38" fill="#d1bf27"/>
<rect x="606.91" y="374.22" width="12.11" height="12.38" fill="#b0c636"/>
<rect x="618.98" y="374.22" width="12.11" height="12.38" fill="#85cb56"/>
<rect x="631.04" y="374.22" width="12.11" height="12.38" fill="#59cc78"/>
<rect x="655.16" y="374.22" width="12.11" height="12.38" fill="#3dc990"/>
<rect x="667.22" y="374.22" width="12.11" height="12.38" fill="#24c1ae"/>
<rect x="679.28" y="374.22" width="12.11" height="12.38" fill="#00b9c7"/>
<rect x="703.41" y="374.22" width="12.11" height="12.38" fill="#1babde"/>
<rect x="715.47" y="374.22" width="12.11" height="12.38" fill="#249fe5"/>
<rect x="739.59" y="374.22" width="12.11" height="12.38" fill="#2d8cf3"/>
<rect x="751.65" y="374.22" width="12.11" height="12.38" fill="#327cfc"/>
<rect x="775.78" y="374.22" width="12.11" height="12.38" fill="#4467fd"/>
</g>
<text x="76.20" y="419.30" text-anchor="middle">–3</text>
<text x="196.82" y="419.30" text-anchor="middle">–2</text>
<text x="317.43" y="419.30" text-anchor="middle">–1</text>
<text x="438.05" y="419.30" text-anchor="middle">0</text>
<text x="558.67" y="419.30" text-anchor="middle">1</text>
<text x="679.28" y="419.30" text-anchor="middle">2</text>
<text x="799.90" y="419.30" text-anchor="middle">3</text>
<text x="65.20" y="396.70" text-anchor="end">0</text>
<text x="65.20" y="276.93" text-anchor="end">1</text>
<text x="65.20" y="156.67" text-anchor="end">2</text>
<text x="65.20" y="34.40" text-anchor="end">3</text>
<g transform="translate(438.05 459.80)"><text class="u" x="-40.0" y="0">υ</text><path d="M-26.3 -10.6v20.4M-22.5 -10.6v20.4" stroke="#555" stroke-width="1.3" fill="none"/><text x="-15.7" y="0">/</text><text class="u" x="-6.7" y="0">υ</text><text class="sub" x="5.1" y="8" style="font-size:21px">th,e</text></g>
<g transform="translate(22 205.15) rotate(-90)"><text class="u" x="-40.0" y="0">υ</text><path d="M-27.8 7h12.6M-21.5 7v-12.9" stroke="#000" stroke-width="1.5" fill="none"/><text x="-15.7" y="0">/</text><text class="u" x="-6.7" y="0">υ</text><text class="sub" x="5.1" y="8" style="font-size:21px">th,e</text></g>
<rect x="75.40" y="546.50" width="724.80" height="362.50" fill="none" stroke="#000" stroke-width="2"/>
<path d="M196.20 909.00v-8M196.20 546.50v8M317.00 909.00v-8M317.00 546.50v8M437.80 909.00v-8M437.80 546.50v8M558.60 909.00v-8M558.60 546.50v8M679.40 909.00v-8M679.40 546.50v8M75.40 788.17h8M800.20 788.17h-8M75.40 667.33h8M800.20 667.33h-8" stroke="#000" stroke-width="2" fill="none"/>
<g shape-rendering="crispEdges">
<rect x="413.64" y="619.00" width="12.13" height="12.13" fill="#07bcbf"/>
<rect x="449.88" y="619.00" width="12.13" height="12.13" fill="#15bfb8"/>
<rect x="401.56" y="631.08" width="36.29" height="12.13" fill="#07bcbf"/>
<rect x="437.80" y="631.08" width="84.61" height="12.13" fill="#15bfb8"/>
<rect x="377.40" y="643.17" width="60.45" height="12.13" fill="#07bcbf"/>
<rect x="437.80" y="643.17" width="96.69" height="12.13" fill="#15bfb8"/>
<rect x="546.52" y="643.17" width="12.13" height="12.13" fill="#15bfb8"/>
<rect x="365.32" y="655.25" width="72.53" height="12.13" fill="#07bcbf"/>
<rect x="437.80" y="655.25" width="132.93" height="12.13" fill="#15bfb8"/>
<rect x="353.24" y="667.33" width="84.61" height="12.13" fill="#07bcbf"/>
<rect x="437.80" y="667.33" width="157.09" height="12.13" fill="#15bfb8"/>
<rect x="341.16" y="679.42" width="96.69" height="12.13" fill="#07bcbf"/>
<rect x="437.80" y="679.42" width="181.25" height="12.13" fill="#15bfb8"/>
<rect x="329.08" y="691.50" width="108.77" height="12.13" fill="#07bcbf"/>
<rect x="437.80" y="691.50" width="181.25" height="12.13" fill="#15bfb8"/>
<rect x="317.00" y="703.58" width="120.85" height="12.13" fill="#06bcc0"/>
<rect x="437.80" y="703.58" width="60.45" height="12.13" fill="#12beb9"/>
<rect x="498.20" y="703.58" width="36.29" height="12.13" fill="#21c1b0"/>
<rect x="534.44" y="703.58" width="96.69" height="12.13" fill="#16bfb7"/>
<rect x="317.00" y="715.67" width="72.53" height="12.13" fill="#06bcc0"/>
<rect x="389.48" y="715.67" width="12.13" height="12.13" fill="#00b9c6"/>
<rect x="401.56" y="715.67" width="36.29" height="12.13" fill="#06bcc0"/>
<rect x="437.80" y="715.67" width="24.21" height="12.13" fill="#12beb9"/>
<rect x="461.96" y="715.67" width="108.77" height="12.13" fill="#21c1b0"/>
<rect x="570.68" y="715.67" width="12.13" height="12.13" fill="#16bfb7"/>
<rect x="582.76" y="715.67" width="12.13" height="12.13" fill="#21c1b0"/>
<rect x="594.84" y="715.67" width="48.37" height="12.13" fill="#16bfb7"/>
<rect x="304.92" y="727.75" width="48.37" height="12.13" fill="#06bcc0"/>
<rect x="353.24" y="727.75" width="60.45" height="12.13" fill="#00b9c8"/>
<rect x="413.64" y="727.75" width="24.21" height="12.13" fill="#06bcc0"/>
<rect x="437.80" y="727.75" width="12.13" height="12.13" fill="#12beb9"/>
<rect x="449.88" y="727.75" width="12.13" height="12.13" fill="#1ac0b5"/>
<rect x="461.96" y="727.75" width="36.29" height="12.13" fill="#21c1b0"/>
<rect x="498.20" y="727.75" width="24.21" height="12.13" fill="#2ac3a9"/>
<rect x="522.36" y="727.75" width="84.61" height="12.13" fill="#25c2ae"/>
<rect x="606.92" y="727.75" width="48.37" height="12.13" fill="#16bfb7"/>
<rect x="292.84" y="739.83" width="36.29" height="12.13" fill="#06bcc0"/>
<rect x="329.08" y="739.83" width="36.29" height="12.13" fill="#00b9c6"/>
<rect x="365.32" y="739.83" width="36.29" height="12.13" fill="#04b6ce"/>
<rect x="401.56" y="739.83" width="24.21" height="12.13" fill="#00b9c8"/>
<rect x="425.72" y="739.83" width="12.13" height="12.13" fill="#06bcc0"/>
<rect x="437.80" y="739.83" width="12.13" height="12.13" fill="#12beb9"/>
<rect x="449.88" y="739.83" width="48.37" height="12.13" fill="#21c1b0"/>
<rect x="498.20" y="739.83" width="12.13" height="12.13" fill="#30c5a2"/>
<rect x="510.28" y="739.83" width="60.45" height="12.13" fill="#2cc4a7"/>
<rect x="570.68" y="739.83" width="48.37" height="12.13" fill="#25c2ae"/>
<rect x="619.00" y="739.83" width="36.29" height="12.13" fill="#16bfb7"/>
<rect x="280.76" y="751.92" width="36.29" height="12.13" fill="#06bcc0"/>
<rect x="317.00" y="751.92" width="24.21" height="12.13" fill="#00b9c8"/>
<rect x="341.16" y="751.92" width="24.21" height="12.13" fill="#04b6ce"/>
<rect x="365.32" y="751.92" width="48.37" height="12.13" fill="#11b1d6"/>
<rect x="413.64" y="751.92" width="12.13" height="12.13" fill="#00b9c8"/>
<rect x="425.72" y="751.92" width="12.13" height="12.13" fill="#06bcc0"/>
<rect x="437.80" y="751.92" width="24.21" height="12.13" fill="#12beb9"/>
<rect x="461.96" y="751.92" width="36.29" height="12.13" fill="#27c2ac"/>
<rect x="498.20" y="751.92" width="60.45" height="12.13" fill="#30c5a2"/>
<rect x="558.60" y="751.92" width="36.29" height="12.13" fill="#2ac3a9"/>
<rect x="594.84" y="751.92" width="36.29" height="12.13" fill="#25c2ae"/>
<rect x="631.08" y="751.92" width="36.29" height="12.13" fill="#16bfb7"/>
<rect x="280.76" y="764.00" width="12.13" height="12.13" fill="#06bcc0"/>
<rect x="292.84" y="764.00" width="12.13" height="12.13" fill="#01bac4"/>
<rect x="304.92" y="764.00" width="12.13" height="12.13" fill="#00b9c6"/>
<rect x="317.00" y="764.00" width="12.13" height="12.13" fill="#04b6ce"/>
<rect x="329.08" y="764.00" width="12.13" height="12.13" fill="#11b1d6"/>
<rect x="341.16" y="764.00" width="12.13" height="12.13" fill="#19addc"/>
<rect x="353.24" y="764.00" width="24.21" height="12.13" fill="#1caadf"/>
<rect x="377.40" y="764.00" width="12.13" height="12.13" fill="#19addc"/>
<rect x="389.48" y="764.00" width="12.13" height="12.13" fill="#16afd9"/>
<rect x="401.56" y="764.00" width="12.13" height="12.13" fill="#0bb4d2"/>
<rect x="413.64" y="764.00" width="12.13" height="12.13" fill="#00b9c8"/>
<rect x="425.72" y="764.00" width="12.13" height="12.13" fill="#06bcc0"/>
<rect x="437.80" y="764.00" width="12.13" height="12.13" fill="#12beb9"/>
<rect x="449.88" y="764.00" width="12.13" height="12.13" fill="#1ac0b5"/>
<rect x="461.96" y="764.00" width="36.29" height="12.13" fill="#2ac3a9"/>
<rect x="498.20" y="764.00" width="24.21" height="12.13" fill="#35c79b"/>
<rect x="522.36" y="764.00" width="12.13" height="12.13" fill="#3bc992"/>
<rect x="534.44" y="764.00" width="24.21" height="12.13" fill="#35c79b"/>
<rect x="558.60" y="764.00" width="24.21" height="12.13" fill="#30c5a2"/>
<rect x="582.76" y="764.00" width="48.37" height="12.13" fill="#2ac3a9"/>
<rect x="631.08" y="764.00" width="24.21" height="12.13" fill="#21c1b0"/>
<rect x="655.24" y="764.00" width="24.21" height="12.13" fill="#16bfb7"/>
<rect x="268.68" y="776.08" width="24.21" height="12.13" fill="#06bcc0"/>
<rect x="292.84" y="776.08" width="12.13" height="12.13" fill="#01bac4"/>
<rect x="304.92" y="776.08" width="12.13" height="12.13" fill="#04b6ce"/>
<rect x="317.00" y="776.08" width="12.13" height="12.13" fill="#16afd9"/>
<rect x="329.08" y="776.08" width="12.13" height="12.13" fill="#1caadf"/>
<rect x="341.16" y="776.08" width="12.13" height="12.13" fill="#20a4e3"/>
<rect x="353.24" y="776.08" width="36.29" height="12.13" fill="#22a1e4"/>
<rect x="389.48" y="776.08" width="12.13" height="12.13" fill="#1ea7e1"/>
<rect x="401.56" y="776.08" width="12.13" height="12.13" fill="#16afd9"/>
<rect x="413.64" y="776.08" width="12.13" height="12.13" fill="#01b8ca"/>
<rect x="425.72" y="776.08" width="12.13" height="12.13" fill="#06bcc0"/>
<rect x="437.80" y="776.08" width="12.13" height="12.13" fill="#12beb9"/>
<rect x="449.88" y="776.08" width="12.13" height="12.13" fill="#21c1b0"/>
<rect x="461.96" y="776.08" width="12.13" height="12.13" fill="#27c2ac"/>
<rect x="474.04" y="776.08" width="12.13" height="12.13" fill="#30c5a2"/>
<rect x="486.12" y="776.08" width="12.13" height="12.13" fill="#41ca8c"/>
<rect x="498.20" y="776.08" width="36.29" height="12.13" fill="#48cb86"/>
<rect x="534.44" y="776.08" width="24.21" height="12.13" fill="#3bc992"/>
<rect x="558.60" y="776.08" width="24.21" height="12.13" fill="#37c898"/>
<rect x="582.76" y="776.08" width="48.37" height="12.13" fill="#2cc4a7"/>
<rect x="631.08" y="776.08" width="48.37" height="12.13" fill="#21c1b0"/>
<rect x="679.40" y="776.08" width="12.13" height="12.13" fill="#16bfb7"/>
<rect x="256.60" y="788.17" width="36.29" height="12.13" fill="#10beba"/>
<rect x="292.84" y="788.17" width="12.13" height="12.13" fill="#06b5cf"/>
<rect x="304.92" y="788.17" width="12.13" height="12.13" fill="#0eb3d4"/>
<rect x="317.00" y="788.17" width="12.13" height="12.13" fill="#19addc"/>
<rect x="329.08" y="788.17" width="12.13" height="12.13" fill="#22a2e4"/>
<rect x="341.16" y="788.17" width="24.21" height="12.13" fill="#2b91ef"/>
<rect x="365.32" y="788.17" width="12.13" height="12.13" fill="#22a2e4"/>
<rect x="377.40" y="788.17" width="12.13" height="12.13" fill="#19addc"/>
<rect x="389.48" y="788.17" width="24.21" height="12.13" fill="#0eb3d4"/>
<rect x="413.64" y="788.17" width="12.13" height="12.13" fill="#04b6ce"/>
<rect x="425.72" y="788.17" width="12.13" height="12.13" fill="#06bcbf"/>
<rect x="437.80" y="788.17" width="12.13" height="12.13" fill="#25c2ae"/>
<rect x="449.88" y="788.17" width="24.21" height="12.13" fill="#35c79b"/>
<rect x="474.04" y="788.17" width="24.21" height="12.13" fill="#3dca90"/>
<rect x="498.20" y="788.17" width="72.53" height="12.13" fill="#51cc7f"/>
<rect x="570.68" y="788.17" width="36.29" height="12.13" fill="#3bc992"/>
<rect x="606.92" y="788.17" width="12.13" height="12.13" fill="#2ec4a5"/>
<rect x="619.00" y="788.17" width="36.29" height="12.13" fill="#27c2ac"/>
<rect x="655.24" y="788.17" width="24.21" height="12.13" fill="#1ac0b5"/>
<rect x="679.40" y="788.17" width="24.21" height="12.13" fill="#16bfb7"/>
<rect x="256.60" y="800.25" width="12.13" height="12.13" fill="#10beba"/>
<rect x="268.68" y="800.25" width="24.21" height="12.13" fill="#06bcbf"/>
<rect x="292.84" y="800.25" width="12.13" height="12.13" fill="#14b0d8"/>
<rect x="304.92" y="800.25" width="12.13" height="12.13" fill="#2699e9"/>
<rect x="317.00" y="800.25" width="12.13" height="12.13" fill="#2d8bf4"/>
<rect x="329.08" y="800.25" width="24.21" height="12.13" fill="#2f80fa"/>
<rect x="353.24" y="800.25" width="12.13" height="12.13" fill="#2d8bf4"/>
<rect x="365.32" y="800.25" width="12.13" height="12.13" fill="#2699e9"/>
<rect x="377.40" y="800.25" width="24.21" height="12.13" fill="#22a2e4"/>
<rect x="401.56" y="800.25" width="12.13" height="12.13" fill="#19addc"/>
<rect x="413.64" y="800.25" width="24.21" height="12.13" fill="#04b6ce"/>
<rect x="437.80" y="800.25" width="12.13" height="12.13" fill="#10beba"/>
<rect x="449.88" y="800.25" width="24.21" height="12.13" fill="#35c79b"/>
<rect x="474.04" y="800.25" width="24.21" height="12.13" fill="#48cb86"/>
<rect x="498.20" y="800.25" width="12.13" height="12.13" fill="#61cd72"/>
<rect x="510.28" y="800.25" width="24.21" height="12.13" fill="#72cd64"/>
<rect x="534.44" y="800.25" width="36.29" height="12.13" fill="#61cd72"/>
<rect x="570.68" y="800.25" width="12.13" height="12.13" fill="#51cc7f"/>
<rect x="582.76" y="800.25" width="24.21" height="12.13" fill="#3bc992"/>
<rect x="606.92" y="800.25" width="12.13" height="12.13" fill="#35c79b"/>
<rect x="619.00" y="800.25" width="48.37" height="12.13" fill="#27c2ac"/>
<rect x="667.32" y="800.25" width="48.37" height="12.13" fill="#16bfb7"/>
<rect x="244.52" y="812.33" width="24.21" height="12.13" fill="#10beba"/>
<rect x="268.68" y="812.33" width="12.13" height="12.13" fill="#06bcbf"/>
<rect x="280.76" y="812.33" width="12.13" height="12.13" fill="#06b5cf"/>
<rect x="292.84" y="812.33" width="12.13" height="12.13" fill="#22a2e4"/>
<rect x="304.92" y="812.33" width="12.13" height="12.13" fill="#2c8ff1"/>
<rect x="317.00" y="812.33" width="12.13" height="12.13" fill="#3677fe"/>
<rect x="329.08" y="812.33" width="12.13" height="12.13" fill="#4368fe"/>
<rect x="341.16" y="812.33" width="12.13" height="12.13" fill="#4660fb"/>
<rect x="353.24" y="812.33" width="12.13" height="12.13" fill="#3677fe"/>
<rect x="365.32" y="812.33" width="12.13" height="12.13" fill="#2d8bf4"/>
<rect x="377.40" y="812.33" width="12.13" height="12.13" fill="#2699e9"/>
<rect x="389.48" y="812.33" width="12.13" height="12.13" fill="#22a2e4"/>
<rect x="401.56" y="812.33" width="12.13" height="12.13" fill="#19addc"/>
<rect x="413.64" y="812.33" width="12.13" height="12.13" fill="#0eb3d4"/>
<rect x="425.72" y="812.33" width="12.13" height="12.13" fill="#04b6ce"/>
<rect x="437.80" y="812.33" width="12.13" height="12.13" fill="#2ec4a5"/>
<rect x="449.88" y="812.33" width="24.21" height="12.13" fill="#35c79b"/>
<rect x="474.04" y="812.33" width="12.13" height="12.13" fill="#3dca90"/>
<rect x="486.12" y="812.33" width="12.13" height="12.13" fill="#51cc7f"/>
<rect x="498.20" y="812.33" width="24.21" height="12.13" fill="#72cd64"/>
<rect x="522.36" y="812.33" width="36.29" height="12.13" fill="#81cc59"/>
<rect x="558.60" y="812.33" width="12.13" height="12.13" fill="#72cd64"/>
<rect x="570.68" y="812.33" width="12.13" height="12.13" fill="#61cd72"/>
<rect x="582.76" y="812.33" width="24.21" height="12.13" fill="#3dca90"/>
<rect x="606.92" y="812.33" width="12.13" height="12.13" fill="#3bc992"/>
<rect x="619.00" y="812.33" width="12.13" height="12.13" fill="#30c5a2"/>
<rect x="631.08" y="812.33" width="48.37" height="12.13" fill="#27c2ac"/>
<rect x="679.40" y="812.33" width="12.13" height="12.13" fill="#16bfb7"/>
<rect x="703.56" y="812.33" width="12.13" height="12.13" fill="#16bfb7"/>
<rect x="232.44" y="824.42" width="36.29" height="12.13" fill="#10beba"/>
<rect x="268.68" y="824.42" width="12.13" height="12.13" fill="#04b6ce"/>
<rect x="280.76" y="824.42" width="12.13" height="12.13" fill="#22a2e4"/>
<rect x="292.84" y="824.42" width="12.13" height="12.13" fill="#2699e9"/>
<rect x="304.92" y="824.42" width="12.13" height="12.13" fill="#2f80fa"/>
<rect x="317.00" y="824.42" width="12.13" height="12.13" fill="#475dfa"/>
<rect x="329.08" y="824.42" width="12.13" height="12.13" fill="#4741e5"/>
<rect x="341.16" y="824.42" width="12.13" height="12.13" fill="#4854f6"/>
<rect x="353.24" y="824.42" width="12.13" height="12.13" fill="#3b73ff"/>
<rect x="365.32" y="824.42" width="12.13" height="12.13" fill="#2d8bf4"/>
<rect x="377.40" y="824.42" width="12.13" height="12.13" fill="#2699e9"/>
<rect x="389.48" y="824.42" width="24.21" height="12.13" fill="#22a2e4"/>
<rect x="413.64" y="824.42" width="12.13" height="12.13" fill="#19addc"/>
<rect x="425.72" y="824.42" width="12.13" height="12.13" fill="#0eb3d4"/>
<rect x="437.80" y="824.42" width="12.13" height="12.13" fill="#2ec4a5"/>
<rect x="449.88" y="824.42" width="12.13" height="12.13" fill="#35c79b"/>
<rect x="461.96" y="824.42" width="12.13" height="12.13" fill="#3dca90"/>
<rect x="474.04" y="824.42" width="12.13" height="12.13" fill="#51cc7f"/>
<rect x="486.12" y="824.42" width="12.13" height="12.13" fill="#61cd72"/>
<rect x="498.20" y="824.42" width="12.13" height="12.13" fill="#72cd64"/>
<rect x="510.28" y="824.42" width="24.21" height="12.13" fill="#93ca4b"/>
<rect x="534.44" y="824.42" width="12.13" height="12.13" fill="#a1c840"/>
<rect x="546.52" y="824.42" width="48.37" height="12.13" fill="#88cb53"/>
<rect x="594.84" y="824.42" width="12.13" height="12.13" fill="#51cc7f"/>
<rect x="606.92" y="824.42" width="12.13" height="12.13" fill="#3dca90"/>
<rect x="619.00" y="824.42" width="12.13" height="12.13" fill="#30c5a2"/>
<rect x="631.08" y="824.42" width="24.21" height="12.13" fill="#2cc4a7"/>
<rect x="655.24" y="824.42" width="24.21" height="12.13" fill="#27c2ac"/>
<rect x="679.40" y="824.42" width="36.29" height="12.13" fill="#16bfb7"/>
<rect x="232.44" y="836.50" width="36.29" height="12.13" fill="#10beba"/>
<rect x="268.68" y="836.50" width="12.13" height="12.13" fill="#0eb3d4"/>
<rect x="280.76" y="836.50" width="12.13" height="12.13" fill="#22a2e4"/>
<rect x="292.84" y="836.50" width="12.13" height="12.13" fill="#2d8bf4"/>
<rect x="304.92" y="836.50" width="12.13" height="12.13" fill="#4854f6"/>
<rect x="317.00" y="836.50" width="12.13" height="12.13" fill="#4434d0"/>
<rect x="329.08" y="836.50" width="12.13" height="12.13" fill="#463adc"/>
<rect x="341.16" y="836.50" width="12.13" height="12.13" fill="#4854f6"/>
<rect x="353.24" y="836.50" width="12.13" height="12.13" fill="#3b73ff"/>
<rect x="365.32" y="836.50" width="12.13" height="12.13" fill="#2d8bf4"/>
<rect x="377.40" y="836.50" width="24.21" height="12.13" fill="#2699e9"/>
<rect x="401.56" y="836.50" width="12.13" height="12.13" fill="#22a2e4"/>
<rect x="413.64" y="836.50" width="12.13" height="12.13" fill="#19addc"/>
<rect x="425.72" y="836.50" width="12.13" height="12.13" fill="#0eb3d4"/>
<rect x="437.80" y="836.50" width="12.13" height="12.13" fill="#2ec4a5"/>
<rect x="449.88" y="836.50" width="12.13" height="12.13" fill="#3bc992"/>
<rect x="461.96" y="836.50" width="12.13" height="12.13" fill="#48cb86"/>
<rect x="474.04" y="836.50" width="24.21" height="12.13" fill="#61cd72"/>
<rect x="498.20" y="836.50" width="12.13" height="12.13" fill="#79cc5e"/>
<rect x="510.28" y="836.50" width="12.13" height="12.13" fill="#93ca4b"/>
<rect x="522.36" y="836.50" width="12.13" height="12.13" fill="#abc739"/>
<rect x="534.44" y="836.50" width="24.21" height="12.13" fill="#a1c840"/>
<rect x="558.60" y="836.50" width="24.21" height="12.13" fill="#93ca4b"/>
<rect x="582.76" y="836.50" width="12.13" height="12.13" fill="#72cd64"/>
<rect x="594.84" y="836.50" width="12.13" height="12.13" fill="#51cc7f"/>
<rect x="606.92" y="836.50" width="12.13" height="12.13" fill="#3dca90"/>
<rect x="619.00" y="836.50" width="12.13" height="12.13" fill="#35c79b"/>
<rect x="631.08" y="836.50" width="12.13" height="12.13" fill="#30c5a2"/>
<rect x="643.16" y="836.50" width="36.29" height="12.13" fill="#27c2ac"/>
<rect x="691.48" y="836.50" width="36.29" height="12.13" fill="#16bfb7"/>
<rect x="232.44" y="848.58" width="36.29" height="12.13" fill="#10beba"/>
<rect x="268.68" y="848.58" width="12.13" height="12.13" fill="#19addc"/>
<rect x="280.76" y="848.58" width="12.13" height="12.13" fill="#2699e9"/>
<rect x="292.84" y="848.58" width="12.13" height="12.13" fill="#3b73ff"/>
<rect x="304.92" y="848.58" width="12.13" height="12.13" fill="#4741e5"/>
<rect x="317.00" y="848.58" width="12.13" height="12.13" fill="#402bb7"/>
<rect x="329.08" y="848.58" width="12.13" height="12.13" fill="#4434d0"/>
<rect x="341.16" y="848.58" width="12.13" height="12.13" fill="#484bee"/>
<rect x="353.24" y="848.58" width="12.13" height="12.13" fill="#4368fe"/>
<rect x="365.32" y="848.58" width="12.13" height="12.13" fill="#327cfc"/>
<rect x="377.40" y="848.58" width="12.13" height="12.13" fill="#2d8bf4"/>
<rect x="389.48" y="848.58" width="12.13" height="12.13" fill="#2699e9"/>
<rect x="401.56" y="848.58" width="12.13" height="12.13" fill="#22a2e4"/>
<rect x="413.64" y="848.58" width="12.13" height="12.13" fill="#19addc"/>
<rect x="425.72" y="848.58" width="12.13" height="12.13" fill="#0eb3d4"/>
<rect x="437.80" y="848.58" width="12.13" height="12.13" fill="#2ec4a5"/>
<rect x="449.88" y="848.58" width="12.13" height="12.13" fill="#3dca90"/>
<rect x="461.96" y="848.58" width="12.13" height="12.13" fill="#61cd72"/>
<rect x="474.04" y="848.58" width="24.21" height="12.13" fill="#79cc5e"/>
<rect x="498.20" y="848.58" width="12.13" height="12.13" fill="#93ca4b"/>
<rect x="510.28" y="848.58" width="12.13" height="12.13" fill="#aec637"/>
<rect x="522.36" y="848.58" width="36.29" height="12.13" fill="#abc739"/>
<rect x="558.60" y="848.58" width="24.21" height="12.13" fill="#9ac946"/>
<rect x="582.76" y="848.58" width="24.21" height="12.13" fill="#6bcd69"/>
<rect x="606.92" y="848.58" width="12.13" height="12.13" fill="#48cb86"/>
<rect x="619.00" y="848.58" width="12.13" height="12.13" fill="#39c895"/>
<rect x="631.08" y="848.58" width="12.13" height="12.13" fill="#30c5a2"/>
<rect x="643.16" y="848.58" width="12.13" height="12.13" fill="#2cc4a7"/>
<rect x="655.24" y="848.58" width="36.29" height="12.13" fill="#27c2ac"/>
<rect x="691.48" y="848.58" width="12.13" height="12.13" fill="#16bfb7"/>
<rect x="715.64" y="848.58" width="12.13" height="12.13" fill="#16bfb7"/>
<rect x="232.44" y="860.67" width="36.29" height="12.13" fill="#10beba"/>
<rect x="268.68" y="860.67" width="12.13" height="12.13" fill="#19addc"/>
<rect x="280.76" y="860.67" width="12.13" height="12.13" fill="#2699e9"/>
<rect x="292.84" y="860.67" width="12.13" height="12.13" fill="#475dfa"/>
<rect x="304.92" y="860.67" width="12.13" height="12.13" fill="#4331c8"/>
<rect x="317.00" y="860.67" width="12.13" height="12.13" fill="#3f28af"/>
<rect x="329.08" y="860.67" width="12.13" height="12.13" fill="#4434d0"/>
<rect x="341.16" y="860.67" width="12.13" height="12.13" fill="#4854f6"/>
<rect x="353.24" y="860.67" width="12.13" height="12.13" fill="#4368fe"/>
<rect x="365.32" y="860.67" width="12.13" height="12.13" fill="#327cfc"/>
<rect x="377.40" y="860.67" width="24.21" height="12.13" fill="#2d8bf4"/>
<rect x="474.04" y="860.67" width="12.13" height="12.13" fill="#a1c840"/>
<rect x="486.12" y="860.67" width="12.13" height="12.13" fill="#bec32d"/>
<rect x="498.20" y="860.67" width="12.13" height="12.13" fill="#aec637"/>
<rect x="510.28" y="860.67" width="12.13" height="12.13" fill="#b8c431"/>
<rect x="522.36" y="860.67" width="24.21" height="12.13" fill="#c5c22a"/>
<rect x="546.52" y="860.67" width="12.13" height="12.13" fill="#abc739"/>
<rect x="558.60" y="860.67" width="12.13" height="12.13" fill="#9ac946"/>
<rect x="570.68" y="860.67" width="12.13" height="12.13" fill="#a1c840"/>
<rect x="582.76" y="860.67" width="24.21" height="12.13" fill="#6bcd69"/>
<rect x="606.92" y="860.67" width="12.13" height="12.13" fill="#48cb86"/>
<rect x="619.00" y="860.67" width="12.13" height="12.13" fill="#3bc992"/>
<rect x="631.08" y="860.67" width="12.13" height="12.13" fill="#30c5a2"/>
<rect x="643.16" y="860.67" width="48.37" height="12.13" fill="#27c2ac"/>
<rect x="691.48" y="860.67" width="12.13" height="12.13" fill="#16bfb7"/>
<rect x="232.44" y="872.75" width="36.29" height="12.13" fill="#10beba"/>
<rect x="268.68" y="872.75" width="12.13" height="12.13" fill="#19addc"/>
<rect x="280.76" y="872.75" width="12.13" height="12.13" fill="#2699e9"/>
<rect x="292.84" y="872.75" width="12.13" height="12.13" fill="#4854f6"/>
<rect x="304.92" y="872.75" width="12.13" height="12.13" fill="#3e26a8"/>
<rect x="317.00" y="872.75" width="12.13" height="12.13" fill="#4331c8"/>
<rect x="329.08" y="872.75" width="12.13" height="12.13" fill="#4434d0"/>
<rect x="341.16" y="872.75" width="12.13" height="12.13" fill="#4854f6"/>
<rect x="353.24" y="872.75" width="36.29" height="12.13" fill="#4368fe"/>
<rect x="486.12" y="872.75" width="12.13" height="12.13" fill="#e3bc2b"/>
<rect x="498.20" y="872.75" width="12.13" height="12.13" fill="#c5c22a"/>
<rect x="510.28" y="872.75" width="12.13" height="12.13" fill="#b8c431"/>
<rect x="522.36" y="872.75" width="24.21" height="12.13" fill="#c5c22a"/>
<rect x="546.52" y="872.75" width="36.29" height="12.13" fill="#abc739"/>
<rect x="582.76" y="872.75" width="24.21" height="12.13" fill="#6bcd69"/>
<rect x="606.92" y="872.75" width="12.13" height="12.13" fill="#3dca90"/>
<rect x="619.00" y="872.75" width="12.13" height="12.13" fill="#37c898"/>
<rect x="691.48" y="872.75" width="12.13" height="12.13" fill="#16bfb7"/>
<rect x="715.64" y="872.75" width="12.13" height="12.13" fill="#16bfb7"/>
<rect x="220.36" y="884.83" width="12.13" height="12.13" fill="#10beba"/>
<rect x="244.52" y="884.83" width="24.21" height="12.13" fill="#06bcbf"/>
<rect x="268.68" y="884.83" width="12.13" height="12.13" fill="#19addc"/>
<rect x="280.76" y="884.83" width="12.13" height="12.13" fill="#3677fe"/>
<rect x="292.84" y="884.83" width="12.13" height="12.13" fill="#463adc"/>
<rect x="304.92" y="884.83" width="12.13" height="12.13" fill="#3e26a8"/>
<rect x="317.00" y="884.83" width="12.13" height="12.13" fill="#4331c8"/>
<rect x="329.08" y="884.83" width="12.13" height="12.13" fill="#484bee"/>
<rect x="341.16" y="884.83" width="12.13" height="12.13" fill="#475dfa"/>
<rect x="353.24" y="884.83" width="36.29" height="12.13" fill="#4368fe"/>
<rect x="486.12" y="884.83" width="12.13" height="12.13" fill="#f1ba37"/>
<rect x="498.20" y="884.83" width="12.13" height="12.13" fill="#dbbd28"/>
<rect x="510.28" y="884.83" width="12.13" height="12.13" fill="#bec32d"/>
<rect x="522.36" y="884.83" width="12.13" height="12.13" fill="#c5c22a"/>
<rect x="534.44" y="884.83" width="24.21" height="12.13" fill="#aec637"/>
<rect x="558.60" y="884.83" width="24.21" height="12.13" fill="#a1c840"/>
<rect x="582.76" y="884.83" width="24.21" height="12.13" fill="#6bcd69"/>
<rect x="606.92" y="884.83" width="12.13" height="12.13" fill="#3dca90"/>
<rect x="619.00" y="884.83" width="12.13" height="12.13" fill="#3bc992"/>
<rect x="631.08" y="884.83" width="12.13" height="12.13" fill="#31c6a0"/>
<rect x="655.24" y="884.83" width="12.13" height="12.13" fill="#31c6a0"/>
<rect x="667.32" y="884.83" width="24.21" height="12.13" fill="#2ac3a9"/>
<rect x="317.00" y="896.92" width="12.13" height="12.38" fill="#4331c8"/>
<rect x="329.08" y="896.92" width="12.13" height="12.38" fill="#475dfa"/>
<rect x="341.16" y="896.92" width="36.29" height="12.38" fill="#4368fe"/>
<rect x="498.20" y="896.92" width="12.13" height="12.38" fill="#d0bf27"/>
<rect x="510.28" y="896.92" width="12.13" height="12.38" fill="#c5c22a"/>
<rect x="522.36" y="896.92" width="12.13" height="12.38" fill="#b8c431"/>
<rect x="534.44" y="896.92" width="12.13" height="12.38" fill="#aec637"/>
<rect x="546.52" y="896.92" width="12.13" height="12.38" fill="#88cb53"/>
<rect x="558.60" y="896.92" width="12.13" height="12.38" fill="#aec637"/>
<rect x="570.68" y="896.92" width="12.13" height="12.38" fill="#88cb53"/>
<rect x="582.76" y="896.92" width="12.13" height="12.38" fill="#72cd64"/>
<rect x="594.84" y="896.92" width="12.13" height="12.38" fill="#61cd72"/>
<rect x="606.92" y="896.92" width="12.13" height="12.38" fill="#3dca90"/>
<rect x="619.00" y="896.92" width="12.13" height="12.38" fill="#3bc992"/>
<rect x="631.08" y="896.92" width="12.13" height="12.38" fill="#31c6a0"/>
<rect x="655.24" y="896.92" width="12.13" height="12.38" fill="#31c6a0"/>
<rect x="667.32" y="896.92" width="24.21" height="12.38" fill="#2ac3a9"/>
<rect x="703.56" y="896.92" width="12.13" height="12.38" fill="#30c5a2"/>
<rect x="715.64" y="896.92" width="12.13" height="12.38" fill="#21c1b0"/>
</g>
<text x="75.40" y="942.00" text-anchor="middle">–3</text>
<text x="196.20" y="942.00" text-anchor="middle">–2</text>
<text x="317.00" y="942.00" text-anchor="middle">–1</text>
<text x="437.80" y="942.00" text-anchor="middle">0</text>
<text x="558.60" y="942.00" text-anchor="middle">1</text>
<text x="679.40" y="942.00" text-anchor="middle">2</text>
<text x="800.20" y="942.00" text-anchor="middle">3</text>
<text x="64.40" y="919.40" text-anchor="end">0</text>
<text x="64.40" y="798.57" text-anchor="end">1</text>
<text x="64.40" y="677.73" text-anchor="end">2</text>
<text x="64.40" y="556.90" text-anchor="end">3</text>
<g transform="translate(437.80 982.50)"><text class="u" x="-40.0" y="0">υ</text><path d="M-26.3 -10.6v20.4M-22.5 -10.6v20.4" stroke="#555" stroke-width="1.3" fill="none"/><text x="-15.7" y="0">/</text><text class="u" x="-6.7" y="0">υ</text><text class="sub" x="5.1" y="8" style="font-size:21px">th,e</text></g>
<g transform="translate(22 727.75) rotate(-90)"><text class="u" x="-40.0" y="0">υ</text><path d="M-27.8 7h12.6M-21.5 7v-12.9" stroke="#000" stroke-width="1.5" fill="none"/><text x="-15.7" y="0">/</text><text class="u" x="-6.7" y="0">υ</text><text class="sub" x="5.1" y="8" style="font-size:21px">th,e</text></g>
<rect x="75.50" y="1064.00" width="724.10" height="361.60" fill="none" stroke="#000" stroke-width="2"/>
<path d="M196.18 1425.60v-8M196.18 1064.00v8M316.87 1425.60v-8M316.87 1064.00v8M437.55 1425.60v-8M437.55 1064.00v8M558.23 1425.60v-8M558.23 1064.00v8M678.92 1425.60v-8M678.92 1064.00v8M75.50 1305.07h8M799.60 1305.07h-8M75.50 1184.53h8M799.60 1184.53h-8" stroke="#000" stroke-width="2" fill="none"/>
<g shape-rendering="crispEdges">
<rect x="413.41" y="1136.32" width="12.12" height="12.10" fill="#0fbeba"/>
<rect x="449.62" y="1136.32" width="12.12" height="12.10" fill="#15bfb8"/>
<rect x="401.35" y="1148.37" width="36.25" height="12.10" fill="#0fbeba"/>
<rect x="437.55" y="1148.37" width="84.53" height="12.10" fill="#15bfb8"/>
<rect x="377.21" y="1160.43" width="60.39" height="12.10" fill="#0fbeba"/>
<rect x="437.55" y="1160.43" width="96.60" height="12.10" fill="#15bfb8"/>
<rect x="546.16" y="1160.43" width="12.12" height="12.10" fill="#15bfb8"/>
<rect x="365.14" y="1172.48" width="72.46" height="12.10" fill="#0fbeba"/>
<rect x="437.55" y="1172.48" width="132.80" height="12.10" fill="#15bfb8"/>
<rect x="353.07" y="1184.53" width="36.25" height="12.10" fill="#12beb9"/>
<rect x="389.28" y="1184.53" width="48.32" height="12.10" fill="#06bcc0"/>
<rect x="437.55" y="1184.53" width="12.12" height="12.10" fill="#12beb9"/>
<rect x="449.62" y="1184.53" width="12.12" height="12.10" fill="#06bcc0"/>
<rect x="461.69" y="1184.53" width="36.25" height="12.10" fill="#12beb9"/>
<rect x="497.89" y="1184.53" width="96.60" height="12.10" fill="#16bfb7"/>
<rect x="341.00" y="1196.59" width="84.53" height="12.10" fill="#12beb9"/>
<rect x="425.48" y="1196.59" width="12.12" height="12.10" fill="#06bcc0"/>
<rect x="437.55" y="1196.59" width="60.39" height="12.10" fill="#12beb9"/>
<rect x="497.89" y="1196.59" width="12.12" height="12.10" fill="#16bfb7"/>
<rect x="509.96" y="1196.59" width="48.32" height="12.10" fill="#25c2ae"/>
<rect x="558.23" y="1196.59" width="12.12" height="12.10" fill="#16bfb7"/>
<rect x="570.30" y="1196.59" width="36.25" height="12.10" fill="#25c2ae"/>
<rect x="606.51" y="1196.59" width="12.12" height="12.10" fill="#16bfb7"/>
<rect x="328.94" y="1208.64" width="12.12" height="12.10" fill="#21c1b0"/>
<rect x="341.00" y="1208.64" width="84.53" height="12.10" fill="#12beb9"/>
<rect x="425.48" y="1208.64" width="12.12" height="12.10" fill="#06bcc0"/>
<rect x="437.55" y="1208.64" width="60.39" height="12.10" fill="#12beb9"/>
<rect x="497.89" y="1208.64" width="12.12" height="12.10" fill="#21c1b0"/>
<rect x="509.96" y="1208.64" width="12.12" height="12.10" fill="#25c2ae"/>
<rect x="522.03" y="1208.64" width="48.32" height="12.10" fill="#2cc4a7"/>
<rect x="570.30" y="1208.64" width="48.32" height="12.10" fill="#27c2ac"/>
<rect x="316.87" y="1220.69" width="72.46" height="12.10" fill="#12beb9"/>
<rect x="389.28" y="1220.69" width="12.12" height="12.10" fill="#03bbc2"/>
<rect x="401.35" y="1220.69" width="12.12" height="12.10" fill="#12beb9"/>
<rect x="413.41" y="1220.69" width="24.19" height="12.10" fill="#06bcc0"/>
<rect x="437.55" y="1220.69" width="48.32" height="12.10" fill="#12beb9"/>
<rect x="485.82" y="1220.69" width="12.12" height="12.10" fill="#21c1b0"/>
<rect x="497.89" y="1220.69" width="48.32" height="12.10" fill="#2cc4a7"/>
<rect x="546.16" y="1220.69" width="36.26" height="12.10" fill="#31c6a0"/>
<rect x="582.37" y="1220.69" width="36.26" height="12.10" fill="#2ac3a9"/>
<rect x="618.58" y="1220.69" width="12.12" height="12.10" fill="#16bfb7"/>
<rect x="316.87" y="1232.75" width="24.19" height="12.10" fill="#12beb9"/>
<rect x="341.00" y="1232.75" width="12.12" height="12.10" fill="#21c1b0"/>
<rect x="353.07" y="1232.75" width="12.12" height="12.10" fill="#12beb9"/>
<rect x="365.14" y="1232.75" width="12.12" height="12.10" fill="#21c1b0"/>
<rect x="377.21" y="1232.75" width="36.26" height="12.10" fill="#12beb9"/>
<rect x="413.41" y="1232.75" width="12.12" height="12.10" fill="#06bcc0"/>
<rect x="425.48" y="1232.75" width="48.32" height="12.10" fill="#12beb9"/>
<rect x="473.75" y="1232.75" width="24.19" height="12.10" fill="#25c2ae"/>
<rect x="497.89" y="1232.75" width="12.12" height="12.10" fill="#2ac3a9"/>
<rect x="509.96" y="1232.75" width="12.12" height="12.10" fill="#30c5a2"/>
<rect x="522.03" y="1232.75" width="24.19" height="12.10" fill="#37c898"/>
<rect x="546.16" y="1232.75" width="24.19" height="12.10" fill="#33c69d"/>
<rect x="570.30" y="1232.75" width="12.12" height="12.10" fill="#2cc4a7"/>
<rect x="582.37" y="1232.75" width="12.12" height="12.10" fill="#30c5a2"/>
<rect x="594.44" y="1232.75" width="12.12" height="12.10" fill="#2cc4a7"/>
<rect x="606.51" y="1232.75" width="36.26" height="12.10" fill="#2ac3a9"/>
<rect x="304.80" y="1244.80" width="48.32" height="12.10" fill="#21c1b0"/>
<rect x="353.07" y="1244.80" width="12.12" height="12.10" fill="#27c2ac"/>
<rect x="365.14" y="1244.80" width="36.26" height="12.10" fill="#21c1b0"/>
<rect x="401.35" y="1244.80" width="36.25" height="12.10" fill="#12beb9"/>
<rect x="437.55" y="1244.80" width="12.12" height="12.10" fill="#06bcc0"/>
<rect x="449.62" y="1244.80" width="12.12" height="12.10" fill="#12beb9"/>
<rect x="461.69" y="1244.80" width="12.12" height="12.10" fill="#21c1b0"/>
<rect x="473.75" y="1244.80" width="12.12" height="12.10" fill="#30c5a2"/>
<rect x="485.82" y="1244.80" width="12.12" height="12.10" fill="#21c1b0"/>
<rect x="497.89" y="1244.80" width="36.26" height="12.10" fill="#30c5a2"/>
<rect x="534.10" y="1244.80" width="24.19" height="12.10" fill="#3eca8f"/>
<rect x="558.23" y="1244.80" width="12.12" height="12.10" fill="#41ca8c"/>
<rect x="570.30" y="1244.80" width="24.19" height="12.10" fill="#3eca8f"/>
<rect x="594.44" y="1244.80" width="12.12" height="12.10" fill="#33c69d"/>
<rect x="606.51" y="1244.80" width="48.32" height="12.10" fill="#2ac3a9"/>
<rect x="292.73" y="1256.85" width="48.32" height="12.10" fill="#21c1b0"/>
<rect x="341.00" y="1256.85" width="24.19" height="12.10" fill="#30c5a2"/>
<rect x="365.14" y="1256.85" width="24.19" height="12.10" fill="#21c1b0"/>
<rect x="389.28" y="1256.85" width="48.32" height="12.10" fill="#12beb9"/>
<rect x="437.55" y="1256.85" width="12.12" height="12.10" fill="#06bcc0"/>
<rect x="449.62" y="1256.85" width="24.19" height="12.10" fill="#12beb9"/>
<rect x="473.75" y="1256.85" width="24.19" height="12.10" fill="#27c2ac"/>
<rect x="497.89" y="1256.85" width="24.19" height="12.10" fill="#30c5a2"/>
<rect x="522.03" y="1256.85" width="12.12" height="12.10" fill="#3bc992"/>
<rect x="534.10" y="1256.85" width="12.12" height="12.10" fill="#50cc80"/>
<rect x="546.16" y="1256.85" width="12.12" height="12.10" fill="#60cd73"/>
<rect x="558.23" y="1256.85" width="24.19" height="12.10" fill="#48cb86"/>
<rect x="582.37" y="1256.85" width="12.12" height="12.10" fill="#41ca8c"/>
<rect x="594.44" y="1256.85" width="24.19" height="12.10" fill="#37c898"/>
<rect x="618.58" y="1256.85" width="12.12" height="12.10" fill="#30c5a2"/>
<rect x="630.64" y="1256.85" width="12.12" height="12.10" fill="#12beb9"/>
<rect x="642.71" y="1256.85" width="12.12" height="12.10" fill="#27c2ac"/>
<rect x="280.66" y="1268.91" width="48.32" height="12.10" fill="#27c2ac"/>
<rect x="328.94" y="1268.91" width="36.25" height="12.10" fill="#33c69d"/>
<rect x="365.14" y="1268.91" width="72.46" height="12.10" fill="#12beb9"/>
<rect x="437.55" y="1268.91" width="12.12" height="12.10" fill="#06bcc0"/>
<rect x="449.62" y="1268.91" width="48.32" height="12.10" fill="#12beb9"/>
<rect x="497.89" y="1268.91" width="12.12" height="12.10" fill="#21c1b0"/>
<rect x="509.96" y="1268.91" width="12.12" height="12.10" fill="#48cb86"/>
<rect x="522.03" y="1268.91" width="12.12" height="12.10" fill="#37c898"/>
<rect x="534.10" y="1268.91" width="12.12" height="12.10" fill="#58cc79"/>
<rect x="546.16" y="1268.91" width="24.19" height="12.10" fill="#71cd64"/>
<rect x="570.30" y="1268.91" width="12.12" height="12.10" fill="#60cd73"/>
<rect x="582.37" y="1268.91" width="12.12" height="12.10" fill="#58cc79"/>
<rect x="594.44" y="1268.91" width="24.19" height="12.10" fill="#3bc992"/>
<rect x="618.58" y="1268.91" width="24.19" height="12.10" fill="#37c898"/>
<rect x="642.71" y="1268.91" width="24.19" height="12.10" fill="#30c5a2"/>
<rect x="280.66" y="1280.96" width="12.12" height="12.10" fill="#27c2ac"/>
<rect x="292.73" y="1280.96" width="12.12" height="12.10" fill="#30c5a2"/>
<rect x="304.80" y="1280.96" width="12.12" height="12.10" fill="#37c898"/>
<rect x="316.87" y="1280.96" width="12.12" height="12.10" fill="#58cc79"/>
<rect x="328.94" y="1280.96" width="12.12" height="12.10" fill="#3bc992"/>
<rect x="341.00" y="1280.96" width="24.19" height="12.10" fill="#30c5a2"/>
<rect x="365.14" y="1280.96" width="12.12" height="12.10" fill="#21c1b0"/>
<rect x="377.21" y="1280.96" width="12.12" height="12.10" fill="#12beb9"/>
<rect x="389.28" y="1280.96" width="24.19" height="12.10" fill="#21c1b0"/>
<rect x="413.41" y="1280.96" width="72.46" height="12.10" fill="#12beb9"/>
<rect x="485.82" y="1280.96" width="12.12" height="12.10" fill="#04b6ce"/>
<rect x="497.89" y="1280.96" width="12.12" height="12.10" fill="#00b9c6"/>
<rect x="509.96" y="1280.96" width="12.12" height="12.10" fill="#21c1b0"/>
<rect x="522.03" y="1280.96" width="12.12" height="12.10" fill="#37c898"/>
<rect x="534.10" y="1280.96" width="12.12" height="12.10" fill="#48cb86"/>
<rect x="546.16" y="1280.96" width="24.19" height="12.10" fill="#84cc56"/>
<rect x="570.30" y="1280.96" width="24.19" height="12.10" fill="#7acc5d"/>
<rect x="594.44" y="1280.96" width="24.19" height="12.10" fill="#58cc79"/>
<rect x="618.58" y="1280.96" width="24.19" height="12.10" fill="#3bc992"/>
<rect x="642.71" y="1280.96" width="36.25" height="12.10" fill="#30c5a2"/>
<rect x="268.59" y="1293.01" width="24.19" height="12.10" fill="#30c5a2"/>
<rect x="292.73" y="1293.01" width="12.12" height="12.10" fill="#3bc992"/>
<rect x="304.80" y="1293.01" width="12.12" height="12.10" fill="#48cb86"/>
<rect x="316.87" y="1293.01" width="12.12" height="12.10" fill="#60cd73"/>
<rect x="328.94" y="1293.01" width="12.12" height="12.10" fill="#3bc992"/>
<rect x="341.00" y="1293.01" width="12.12" height="12.10" fill="#27c2ac"/>
<rect x="353.07" y="1293.01" width="12.12" height="12.10" fill="#09bdbd"/>
<rect x="365.14" y="1293.01" width="24.19" height="12.10" fill="#04b6ce"/>
<rect x="389.28" y="1293.01" width="36.26" height="12.10" fill="#06bcc0"/>
<rect x="425.48" y="1293.01" width="12.12" height="12.10" fill="#12beb9"/>
<rect x="437.55" y="1293.01" width="12.12" height="12.10" fill="#06bcc0"/>
<rect x="449.62" y="1293.01" width="24.19" height="12.10" fill="#00b9c6"/>
<rect x="473.75" y="1293.01" width="36.25" height="12.10" fill="#19addc"/>
<rect x="509.96" y="1293.01" width="12.12" height="12.10" fill="#09bdbd"/>
<rect x="522.03" y="1293.01" width="12.12" height="12.10" fill="#27c2ac"/>
<rect x="534.10" y="1293.01" width="12.12" height="12.10" fill="#33c69d"/>
<rect x="546.16" y="1293.01" width="12.12" height="12.10" fill="#84cc56"/>
<rect x="558.23" y="1293.01" width="36.26" height="12.10" fill="#96ca48"/>
<rect x="594.44" y="1293.01" width="12.12" height="12.10" fill="#71cd64"/>
<rect x="606.51" y="1293.01" width="24.19" height="12.10" fill="#48cb86"/>
<rect x="630.64" y="1293.01" width="24.19" height="12.10" fill="#37c898"/>
<rect x="654.78" y="1293.01" width="24.19" height="12.10" fill="#30c5a2"/>
<rect x="678.92" y="1293.01" width="12.12" height="12.10" fill="#21c1b0"/>
<rect x="256.52" y="1305.07" width="24.19" height="12.10" fill="#35c79b"/>
<rect x="280.66" y="1305.07" width="12.12" height="12.10" fill="#48cb86"/>
<rect x="292.73" y="1305.07" width="12.12" height="12.10" fill="#51cc7f"/>
<rect x="304.80" y="1305.07" width="12.12" height="12.10" fill="#61cd72"/>
<rect x="316.87" y="1305.07" width="12.12" height="12.10" fill="#3dca90"/>
<rect x="328.94" y="1305.07" width="12.12" height="12.10" fill="#2ec4a5"/>
<rect x="341.00" y="1305.07" width="12.12" height="12.10" fill="#06bcbf"/>
<rect x="353.07" y="1305.07" width="12.12" height="12.10" fill="#0eb3d4"/>
<rect x="365.14" y="1305.07" width="12.12" height="12.10" fill="#19addc"/>
<rect x="377.21" y="1305.07" width="12.12" height="12.10" fill="#04b6ce"/>
<rect x="389.28" y="1305.07" width="48.32" height="12.10" fill="#1ac0b5"/>
<rect x="437.55" y="1305.07" width="24.19" height="12.10" fill="#10beba"/>
<rect x="461.69" y="1305.07" width="24.19" height="12.10" fill="#19addc"/>
<rect x="485.82" y="1305.07" width="24.19" height="12.10" fill="#2699e9"/>
<rect x="509.96" y="1305.07" width="12.12" height="12.10" fill="#19addc"/>
<rect x="522.03" y="1305.07" width="24.19" height="12.10" fill="#06bcbf"/>
<rect x="546.16" y="1305.07" width="12.12" height="12.10" fill="#51cc7f"/>
<rect x="558.23" y="1305.07" width="12.12" height="12.10" fill="#93ca4b"/>
<rect x="570.30" y="1305.07" width="12.12" height="12.10" fill="#aec637"/>
<rect x="582.37" y="1305.07" width="12.12" height="12.10" fill="#bec32d"/>
<rect x="594.44" y="1305.07" width="12.12" height="12.10" fill="#aec637"/>
<rect x="606.51" y="1305.07" width="12.12" height="12.10" fill="#79cc5e"/>
<rect x="618.58" y="1305.07" width="12.12" height="12.10" fill="#58cc79"/>
<rect x="630.64" y="1305.07" width="12.12" height="12.10" fill="#3bc992"/>
<rect x="642.71" y="1305.07" width="12.12" height="12.10" fill="#37c898"/>
<rect x="654.78" y="1305.07" width="24.19" height="12.10" fill="#30c5a2"/>
<rect x="678.92" y="1305.07" width="12.12" height="12.10" fill="#2ac3a9"/>
<rect x="690.99" y="1305.07" width="12.12" height="12.10" fill="#16bfb7"/>
<rect x="256.52" y="1317.12" width="12.12" height="12.10" fill="#35c79b"/>
<rect x="268.59" y="1317.12" width="12.12" height="12.10" fill="#3dca90"/>
<rect x="280.66" y="1317.12" width="24.19" height="12.10" fill="#81cc59"/>
<rect x="304.80" y="1317.12" width="12.12" height="12.10" fill="#72cd64"/>
<rect x="316.87" y="1317.12" width="12.12" height="12.10" fill="#2ec4a5"/>
<rect x="328.94" y="1317.12" width="12.12" height="12.10" fill="#04b6ce"/>
<rect x="341.00" y="1317.12" width="12.12" height="12.10" fill="#2994ed"/>
<rect x="353.07" y="1317.12" width="24.19" height="12.10" fill="#19addc"/>
<rect x="377.21" y="1317.12" width="12.12" height="12.10" fill="#04b6ce"/>
<rect x="389.28" y="1317.12" width="12.12" height="12.10" fill="#25c2ae"/>
<rect x="401.35" y="1317.12" width="36.25" height="12.10" fill="#1ac0b5"/>
<rect x="437.55" y="1317.12" width="24.19" height="12.10" fill="#10beba"/>
<rect x="461.69" y="1317.12" width="12.12" height="12.10" fill="#04b6ce"/>
<rect x="473.75" y="1317.12" width="12.12" height="12.10" fill="#19addc"/>
<rect x="485.82" y="1317.12" width="12.12" height="12.10" fill="#2699e9"/>
<rect x="497.89" y="1317.12" width="12.12" height="12.10" fill="#2d8bf4"/>
<rect x="509.96" y="1317.12" width="24.19" height="12.10" fill="#2699e9"/>
<rect x="534.10" y="1317.12" width="12.12" height="12.10" fill="#04b6ce"/>
<rect x="546.16" y="1317.12" width="12.12" height="12.10" fill="#2ec4a5"/>
<rect x="558.23" y="1317.12" width="12.12" height="12.10" fill="#72cd64"/>
<rect x="570.30" y="1317.12" width="12.12" height="12.10" fill="#aec637"/>
<rect x="582.37" y="1317.12" width="12.12" height="12.10" fill="#d0bf27"/>
<rect x="594.44" y="1317.12" width="12.12" height="12.10" fill="#aec637"/>
<rect x="606.51" y="1317.12" width="12.12" height="12.10" fill="#88cb53"/>
<rect x="618.58" y="1317.12" width="12.12" height="12.10" fill="#84cc56"/>
<rect x="630.64" y="1317.12" width="12.12" height="12.10" fill="#48cb86"/>
<rect x="642.71" y="1317.12" width="12.12" height="12.10" fill="#3bc992"/>
<rect x="654.78" y="1317.12" width="12.12" height="12.10" fill="#31c6a0"/>
<rect x="666.85" y="1317.12" width="24.19" height="12.10" fill="#2ac3a9"/>
<rect x="690.99" y="1317.12" width="24.19" height="12.10" fill="#16bfb7"/>
<rect x="244.46" y="1329.17" width="12.12" height="12.10" fill="#35c79b"/>
<rect x="256.52" y="1329.17" width="12.12" height="12.10" fill="#2ec4a5"/>
<rect x="268.59" y="1329.17" width="12.12" height="12.10" fill="#61cd72"/>
<rect x="280.66" y="1329.17" width="12.12" height="12.10" fill="#a1c840"/>
<rect x="292.73" y="1329.17" width="12.12" height="12.10" fill="#93ca4b"/>
<rect x="304.80" y="1329.17" width="12.12" height="12.10" fill="#72cd64"/>
<rect x="316.87" y="1329.17" width="12.12" height="12.10" fill="#06bcbf"/>
<rect x="328.94" y="1329.17" width="12.12" height="12.10" fill="#2699e9"/>
<rect x="341.00" y="1329.17" width="12.12" height="12.10" fill="#2f80fa"/>
<rect x="353.07" y="1329.17" width="12.12" height="12.10" fill="#2b91ef"/>
<rect x="365.14" y="1329.17" width="12.12" height="12.10" fill="#19addc"/>
<rect x="377.21" y="1329.17" width="12.12" height="12.10" fill="#10beba"/>
<rect x="389.28" y="1329.17" width="24.19" height="12.10" fill="#25c2ae"/>
<rect x="413.41" y="1329.17" width="36.25" height="12.10" fill="#1ac0b5"/>
<rect x="449.62" y="1329.17" width="12.12" height="12.10" fill="#10beba"/>
<rect x="461.69" y="1329.17" width="24.19" height="12.10" fill="#0eb3d4"/>
<rect x="485.82" y="1329.17" width="12.12" height="12.10" fill="#2699e9"/>
<rect x="497.89" y="1329.17" width="12.12" height="12.10" fill="#2994ed"/>
<rect x="509.96" y="1329.17" width="12.12" height="12.10" fill="#3677fe"/>
<rect x="522.03" y="1329.17" width="12.12" height="12.10" fill="#2b91ef"/>
<rect x="534.10" y="1329.17" width="12.12" height="12.10" fill="#19addc"/>
<rect x="546.16" y="1329.17" width="12.12" height="12.10" fill="#2ec4a5"/>
<rect x="558.23" y="1329.17" width="12.12" height="12.10" fill="#51cc7f"/>
<rect x="570.30" y="1329.17" width="12.12" height="12.10" fill="#93ca4b"/>
<rect x="582.37" y="1329.17" width="12.12" height="12.10" fill="#c5c22a"/>
<rect x="594.44" y="1329.17" width="24.19" height="12.10" fill="#dbbd28"/>
<rect x="618.58" y="1329.17" width="12.12" height="12.10" fill="#9fc942"/>
<rect x="630.64" y="1329.17" width="12.12" height="12.10" fill="#50cc80"/>
<rect x="642.71" y="1329.17" width="12.12" height="12.10" fill="#37c898"/>
<rect x="654.78" y="1329.17" width="12.12" height="12.10" fill="#3bc992"/>
<rect x="666.85" y="1329.17" width="12.12" height="12.10" fill="#33c69d"/>
<rect x="678.92" y="1329.17" width="12.12" height="12.10" fill="#2ac3a9"/>
<rect x="703.05" y="1329.17" width="12.12" height="12.10" fill="#16bfb7"/>
<rect x="232.39" y="1341.23" width="24.19" height="12.10" fill="#2ec4a5"/>
<rect x="256.52" y="1341.23" width="12.12" height="12.10" fill="#51cc7f"/>
<rect x="268.59" y="1341.23" width="12.12" height="12.10" fill="#93ca4b"/>
<rect x="280.66" y="1341.23" width="12.12" height="12.10" fill="#b8c431"/>
<rect x="292.73" y="1341.23" width="12.12" height="12.10" fill="#9ac946"/>
<rect x="304.80" y="1341.23" width="12.12" height="12.10" fill="#3bc992"/>
<rect x="316.87" y="1341.23" width="12.12" height="12.10" fill="#2f80fa"/>
<rect x="328.94" y="1341.23" width="24.19" height="12.10" fill="#4660fb"/>
<rect x="353.07" y="1341.23" width="12.12" height="12.10" fill="#2699e9"/>
<rect x="365.14" y="1341.23" width="12.12" height="12.10" fill="#22a2e4"/>
<rect x="377.21" y="1341.23" width="12.12" height="12.10" fill="#19addc"/>
<rect x="389.28" y="1341.23" width="12.12" height="12.10" fill="#25c2ae"/>
<rect x="401.35" y="1341.23" width="48.32" height="12.10" fill="#1ac0b5"/>
<rect x="449.62" y="1341.23" width="12.12" height="12.10" fill="#10beba"/>
<rect x="461.69" y="1341.23" width="12.12" height="12.10" fill="#04b6ce"/>
<rect x="473.75" y="1341.23" width="12.12" height="12.10" fill="#249ee6"/>
<rect x="485.82" y="1341.23" width="12.12" height="12.10" fill="#2699e9"/>
<rect x="497.89" y="1341.23" width="12.12" height="12.10" fill="#2f80fa"/>
<rect x="509.96" y="1341.23" width="24.19" height="12.10" fill="#4660fb"/>
<rect x="534.10" y="1341.23" width="12.12" height="12.10" fill="#2994ed"/>
<rect x="546.16" y="1341.23" width="12.12" height="12.10" fill="#0eb3d4"/>
<rect x="558.23" y="1341.23" width="12.12" height="12.10" fill="#48cb86"/>
<rect x="570.30" y="1341.23" width="12.12" height="12.10" fill="#9ac946"/>
<rect x="582.37" y="1341.23" width="12.12" height="12.10" fill="#bec32d"/>
<rect x="594.44" y="1341.23" width="12.12" height="12.10" fill="#c5c22a"/>
<rect x="606.51" y="1341.23" width="12.12" height="12.10" fill="#a1c840"/>
<rect x="618.58" y="1341.23" width="12.12" height="12.10" fill="#9fc942"/>
<rect x="630.64" y="1341.23" width="24.19" height="12.10" fill="#50cc80"/>
<rect x="654.78" y="1341.23" width="24.19" height="12.10" fill="#37c898"/>
<rect x="678.92" y="1341.23" width="12.12" height="12.10" fill="#2ac3a9"/>
<rect x="690.99" y="1341.23" width="24.19" height="12.10" fill="#16bfb7"/>
<rect x="232.39" y="1353.28" width="12.12" height="12.10" fill="#2ec4a5"/>
<rect x="244.46" y="1353.28" width="12.12" height="12.10" fill="#3bc992"/>
<rect x="256.52" y="1353.28" width="12.12" height="12.10" fill="#51cc7f"/>
<rect x="268.59" y="1353.28" width="12.12" height="12.10" fill="#d0bf27"/>
<rect x="280.66" y="1353.28" width="12.12" height="12.10" fill="#e8bb2e"/>
<rect x="292.73" y="1353.28" width="12.12" height="12.10" fill="#dbbd28"/>
<rect x="304.80" y="1353.28" width="12.12" height="12.10" fill="#06b5cf"/>
<rect x="316.87" y="1353.28" width="24.19" height="12.10" fill="#4854f6"/>
<rect x="341.00" y="1353.28" width="12.12" height="12.10" fill="#2f80fa"/>
<rect x="353.07" y="1353.28" width="12.12" height="12.10" fill="#2699e9"/>
<rect x="365.14" y="1353.28" width="12.12" height="12.10" fill="#2994ed"/>
<rect x="377.21" y="1353.28" width="12.12" height="12.10" fill="#10beba"/>
<rect x="389.28" y="1353.28" width="12.12" height="12.10" fill="#06bcbf"/>
<rect x="401.35" y="1353.28" width="12.12" height="12.10" fill="#2ec4a5"/>
<rect x="413.41" y="1353.28" width="12.12" height="12.10" fill="#06bcbf"/>
<rect x="425.48" y="1353.28" width="12.12" height="12.10" fill="#1ac0b5"/>
<rect x="437.55" y="1353.28" width="36.25" height="12.10" fill="#10beba"/>
<rect x="473.75" y="1353.28" width="12.12" height="12.10" fill="#0eb3d4"/>
<rect x="485.82" y="1353.28" width="12.12" height="12.10" fill="#22a2e4"/>
<rect x="497.89" y="1353.28" width="12.12" height="12.10" fill="#2b91ef"/>
<rect x="509.96" y="1353.28" width="12.12" height="12.10" fill="#3677fe"/>
<rect x="522.03" y="1353.28" width="24.19" height="12.10" fill="#4660fb"/>
<rect x="546.16" y="1353.28" width="12.12" height="12.10" fill="#2994ed"/>
<rect x="558.23" y="1353.28" width="12.12" height="12.10" fill="#25c2ae"/>
<rect x="570.30" y="1353.28" width="12.12" height="12.10" fill="#9ac946"/>
<rect x="582.37" y="1353.28" width="12.12" height="12.10" fill="#bec32d"/>
<rect x="594.44" y="1353.28" width="12.12" height="12.10" fill="#c5c22a"/>
<rect x="606.51" y="1353.28" width="12.12" height="12.10" fill="#aec637"/>
<rect x="618.58" y="1353.28" width="12.12" height="12.10" fill="#b0c636"/>
<rect x="630.64" y="1353.28" width="24.19" height="12.10" fill="#50cc80"/>
<rect x="654.78" y="1353.28" width="12.12" height="12.10" fill="#3bc992"/>
<rect x="666.85" y="1353.28" width="12.12" height="12.10" fill="#33c69d"/>
<rect x="690.99" y="1353.28" width="12.12" height="12.10" fill="#2cc4a7"/>
<rect x="703.05" y="1353.28" width="12.12" height="12.10" fill="#16bfb7"/>
<rect x="715.12" y="1353.28" width="12.12" height="12.10" fill="#00b9c6"/>
<rect x="232.39" y="1365.33" width="12.12" height="12.10" fill="#2ec4a5"/>
<rect x="244.46" y="1365.33" width="12.12" height="12.10" fill="#3dca90"/>
<rect x="256.52" y="1365.33" width="12.12" height="12.10" fill="#a1c840"/>
<rect x="268.59" y="1365.33" width="12.12" height="12.10" fill="#c5c22a"/>
<rect x="280.66" y="1365.33" width="12.12" height="12.10" fill="#d0bf27"/>
<rect x="292.73" y="1365.33" width="12.12" height="12.10" fill="#3bc992"/>
<rect x="304.80" y="1365.33" width="12.12" height="12.10" fill="#3b73ff"/>
<rect x="316.87" y="1365.33" width="12.12" height="12.10" fill="#4434d0"/>
<rect x="328.94" y="1365.33" width="12.12" height="12.10" fill="#4741e5"/>
<rect x="341.00" y="1365.33" width="12.12" height="12.10" fill="#2f80fa"/>
<rect x="353.07" y="1365.33" width="12.12" height="12.10" fill="#2699e9"/>
<rect x="365.14" y="1365.33" width="36.26" height="12.10" fill="#04b6ce"/>
<rect x="401.35" y="1365.33" width="12.12" height="12.10" fill="#19addc"/>
<rect x="413.41" y="1365.33" width="24.19" height="12.10" fill="#1ac0b5"/>
<rect x="437.55" y="1365.33" width="24.19" height="12.10" fill="#10beba"/>
<rect x="461.69" y="1365.33" width="24.19" height="12.10" fill="#04b6ce"/>
<rect x="485.82" y="1365.33" width="12.12" height="12.10" fill="#2699e9"/>
<rect x="497.89" y="1365.33" width="12.12" height="12.10" fill="#2b91ef"/>
<rect x="509.96" y="1365.33" width="12.12" height="12.10" fill="#3677fe"/>
<rect x="522.03" y="1365.33" width="24.19" height="12.10" fill="#4660fb"/>
<rect x="546.16" y="1365.33" width="12.12" height="12.10" fill="#2994ed"/>
<rect x="558.23" y="1365.33" width="12.12" height="12.10" fill="#06bcbf"/>
<rect x="570.30" y="1365.33" width="12.12" height="12.10" fill="#61cd72"/>
<rect x="582.37" y="1365.33" width="12.12" height="12.10" fill="#abc739"/>
<rect x="594.44" y="1365.33" width="12.12" height="12.10" fill="#f9ba3e"/>
<rect x="606.51" y="1365.33" width="12.12" height="12.10" fill="#e3bc2b"/>
<rect x="618.58" y="1365.33" width="12.12" height="12.10" fill="#a8c73b"/>
<rect x="630.64" y="1365.33" width="12.12" height="12.10" fill="#7acc5d"/>
<rect x="642.71" y="1365.33" width="12.12" height="12.10" fill="#58cc79"/>
<rect x="654.78" y="1365.33" width="12.12" height="12.10" fill="#3bc992"/>
<rect x="666.85" y="1365.33" width="24.19" height="12.10" fill="#33c69d"/>
<rect x="690.99" y="1365.33" width="12.12" height="12.10" fill="#2cc4a7"/>
<rect x="715.12" y="1365.33" width="12.12" height="12.10" fill="#2ac3a9"/>
<rect x="232.39" y="1377.39" width="12.12" height="12.10" fill="#2ec4a5"/>
<rect x="244.46" y="1377.39" width="12.12" height="12.10" fill="#3bc992"/>
<rect x="256.52" y="1377.39" width="12.12" height="12.10" fill="#a1c840"/>
<rect x="268.59" y="1377.39" width="12.12" height="12.10" fill="#b8c431"/>
<rect x="280.66" y="1377.39" width="12.12" height="12.10" fill="#e8bb2e"/>
<rect x="292.73" y="1377.39" width="12.12" height="12.10" fill="#3dca90"/>
<rect x="304.80" y="1377.39" width="12.12" height="12.10" fill="#3677fe"/>
<rect x="316.87" y="1377.39" width="12.12" height="12.10" fill="#402bb7"/>
<rect x="328.94" y="1377.39" width="12.12" height="12.10" fill="#484bee"/>
<rect x="341.00" y="1377.39" width="12.12" height="12.10" fill="#2699e9"/>
<rect x="353.07" y="1377.39" width="12.12" height="12.10" fill="#22a2e4"/>
<rect x="365.14" y="1377.39" width="12.12" height="12.10" fill="#19addc"/>
<rect x="377.21" y="1377.39" width="12.12" height="12.10" fill="#06bcbf"/>
<rect x="389.28" y="1377.39" width="12.12" height="12.10" fill="#2b91ef"/>
<rect x="473.75" y="1377.39" width="12.12" height="12.10" fill="#2ec4a5"/>
<rect x="485.82" y="1377.39" width="12.12" height="12.10" fill="#19addc"/>
<rect x="497.89" y="1377.39" width="12.12" height="12.10" fill="#2f80fa"/>
<rect x="509.96" y="1377.39" width="12.12" height="12.10" fill="#4660fb"/>
<rect x="522.03" y="1377.39" width="12.12" height="12.10" fill="#4368fe"/>
<rect x="534.10" y="1377.39" width="12.12" height="12.10" fill="#3b73ff"/>
<rect x="546.16" y="1377.39" width="12.12" height="12.10" fill="#2b91ef"/>
<rect x="558.23" y="1377.39" width="12.12" height="12.10" fill="#10beba"/>
<rect x="570.30" y="1377.39" width="12.12" height="12.10" fill="#48cb86"/>
<rect x="582.37" y="1377.39" width="12.12" height="12.10" fill="#abc739"/>
<rect x="594.44" y="1377.39" width="12.12" height="12.10" fill="#bec32d"/>
<rect x="606.51" y="1377.39" width="12.12" height="12.10" fill="#f1ba37"/>
<rect x="618.58" y="1377.39" width="12.12" height="12.10" fill="#c8c129"/>
<rect x="630.64" y="1377.39" width="12.12" height="12.10" fill="#9fc942"/>
<rect x="642.71" y="1377.39" width="12.12" height="12.10" fill="#58cc79"/>
<rect x="654.78" y="1377.39" width="12.12" height="12.10" fill="#41ca8c"/>
<rect x="666.85" y="1377.39" width="24.19" height="12.10" fill="#3bc992"/>
<rect x="690.99" y="1377.39" width="12.12" height="12.10" fill="#2ac3a9"/>
<rect x="232.39" y="1389.44" width="12.12" height="12.10" fill="#2ec4a5"/>
<rect x="244.46" y="1389.44" width="12.12" height="12.10" fill="#51cc7f"/>
<rect x="256.52" y="1389.44" width="12.12" height="12.10" fill="#88cb53"/>
<rect x="268.59" y="1389.44" width="12.12" height="12.10" fill="#e8bb2e"/>
<rect x="280.66" y="1389.44" width="12.12" height="12.10" fill="#fdce31"/>
<rect x="292.73" y="1389.44" width="12.12" height="12.10" fill="#19addc"/>
<rect x="304.80" y="1389.44" width="12.12" height="12.10" fill="#463adc"/>
<rect x="316.87" y="1389.44" width="12.12" height="12.10" fill="#3e26a8"/>
<rect x="328.94" y="1389.44" width="12.12" height="12.10" fill="#4854f6"/>
<rect x="341.00" y="1389.44" width="12.12" height="12.10" fill="#2d8bf4"/>
<rect x="353.07" y="1389.44" width="12.12" height="12.10" fill="#22a2e4"/>
<rect x="365.14" y="1389.44" width="12.12" height="12.10" fill="#2699e9"/>
<rect x="377.21" y="1389.44" width="12.12" height="12.10" fill="#06bcbf"/>
<rect x="485.82" y="1389.44" width="12.12" height="12.10" fill="#10beba"/>
<rect x="497.89" y="1389.44" width="12.12" height="12.10" fill="#249ee6"/>
<rect x="509.96" y="1389.44" width="12.12" height="12.10" fill="#4854f6"/>
<rect x="522.03" y="1389.44" width="12.12" height="12.10" fill="#4368fe"/>
<rect x="534.10" y="1389.44" width="24.19" height="12.10" fill="#4660fb"/>
<rect x="558.23" y="1389.44" width="12.12" height="12.10" fill="#22a2e4"/>
<rect x="570.30" y="1389.44" width="12.12" height="12.10" fill="#79cc5e"/>
<rect x="582.37" y="1389.44" width="12.12" height="12.10" fill="#aec637"/>
<rect x="594.44" y="1389.44" width="12.12" height="12.10" fill="#f1ba37"/>
<rect x="606.51" y="1389.44" width="12.12" height="12.10" fill="#bec32d"/>
<rect x="618.58" y="1389.44" width="12.12" height="12.10" fill="#b9c431"/>
<rect x="690.99" y="1389.44" width="12.12" height="12.10" fill="#2cc4a7"/>
<rect x="715.12" y="1389.44" width="12.12" height="12.10" fill="#2ac3a9"/>
<rect x="220.32" y="1401.49" width="12.12" height="12.10" fill="#2ec4a5"/>
<rect x="244.46" y="1401.49" width="12.12" height="12.10" fill="#2ec4a5"/>
<rect x="256.52" y="1401.49" width="12.12" height="12.10" fill="#88cb53"/>
<rect x="268.59" y="1401.49" width="12.12" height="12.10" fill="#e8bb2e"/>
<rect x="280.66" y="1401.49" width="12.12" height="12.10" fill="#abc739"/>
<rect x="292.73" y="1401.49" width="12.12" height="12.10" fill="#3b73ff"/>
<rect x="304.80" y="1401.49" width="12.12" height="12.10" fill="#463adc"/>
<rect x="316.87" y="1401.49" width="12.12" height="12.10" fill="#4741e5"/>
<rect x="328.94" y="1401.49" width="12.12" height="12.10" fill="#2d8bf4"/>
<rect x="341.00" y="1401.49" width="12.12" height="12.10" fill="#3677fe"/>
<rect x="353.07" y="1401.49" width="24.19" height="12.10" fill="#06bcbf"/>
<rect x="377.21" y="1401.49" width="12.12" height="12.10" fill="#19addc"/>
<rect x="485.82" y="1401.49" width="12.12" height="12.10" fill="#b8c431"/>
<rect x="497.89" y="1401.49" width="12.12" height="12.10" fill="#0eb3d4"/>
<rect x="509.96" y="1401.49" width="12.12" height="12.10" fill="#4660fb"/>
<rect x="522.03" y="1401.49" width="12.12" height="12.10" fill="#4368fe"/>
<rect x="534.10" y="1401.49" width="12.12" height="12.10" fill="#484bee"/>
<rect x="546.16" y="1401.49" width="24.19" height="12.10" fill="#2b91ef"/>
<rect x="570.30" y="1401.49" width="12.12" height="12.10" fill="#51cc7f"/>
<rect x="582.37" y="1401.49" width="12.12" height="12.10" fill="#bec32d"/>
<rect x="594.44" y="1401.49" width="12.12" height="12.10" fill="#aec637"/>
<rect x="606.51" y="1401.49" width="12.12" height="12.10" fill="#b8c431"/>
<rect x="618.58" y="1401.49" width="12.12" height="12.10" fill="#60cd73"/>
<rect x="630.64" y="1401.49" width="12.12" height="12.10" fill="#7acc5d"/>
<rect x="654.78" y="1401.49" width="12.12" height="12.10" fill="#84cc56"/>
<rect x="666.85" y="1401.49" width="12.12" height="12.10" fill="#37c898"/>
<rect x="678.92" y="1401.49" width="12.12" height="12.10" fill="#21c1b0"/>
<rect x="316.87" y="1413.55" width="12.12" height="12.35" fill="#463adc"/>
<rect x="328.94" y="1413.55" width="12.12" height="12.35" fill="#35c79b"/>
<rect x="341.00" y="1413.55" width="12.12" height="12.35" fill="#2d8bf4"/>
<rect x="353.07" y="1413.55" width="12.12" height="12.35" fill="#04b6ce"/>
<rect x="365.14" y="1413.55" width="12.12" height="12.35" fill="#06bcbf"/>
<rect x="497.89" y="1413.55" width="12.12" height="12.35" fill="#0eb3d4"/>
<rect x="509.96" y="1413.55" width="12.12" height="12.35" fill="#2699e9"/>
<rect x="522.03" y="1413.55" width="12.12" height="12.35" fill="#4660fb"/>
<rect x="534.10" y="1413.55" width="12.12" height="12.35" fill="#484bee"/>
<rect x="546.16" y="1413.55" width="12.12" height="12.35" fill="#4538d7"/>
<rect x="558.23" y="1413.55" width="24.19" height="12.35" fill="#19addc"/>
<rect x="582.37" y="1413.55" width="36.26" height="12.35" fill="#abc739"/>
<rect x="618.58" y="1413.55" width="12.12" height="12.35" fill="#b0c636"/>
<rect x="630.64" y="1413.55" width="12.12" height="12.35" fill="#96ca48"/>
<rect x="654.78" y="1413.55" width="24.19" height="12.35" fill="#48cb86"/>
<rect x="678.92" y="1413.55" width="12.12" height="12.35" fill="#27c2ac"/>
<rect x="703.05" y="1413.55" width="24.19" height="12.35" fill="#31c6a0"/>
</g>
<text x="75.50" y="1458.60" text-anchor="middle">–3</text>
<text x="196.18" y="1458.60" text-anchor="middle">–2</text>
<text x="316.87" y="1458.60" text-anchor="middle">–1</text>
<text x="437.55" y="1458.60" text-anchor="middle">0</text>
<text x="558.23" y="1458.60" text-anchor="middle">1</text>
<text x="678.92" y="1458.60" text-anchor="middle">2</text>
<text x="799.60" y="1458.60" text-anchor="middle">3</text>
<text x="64.50" y="1436.00" text-anchor="end">0</text>
<text x="64.50" y="1315.47" text-anchor="end">1</text>
<text x="64.50" y="1194.93" text-anchor="end">2</text>
<text x="64.50" y="1074.40" text-anchor="end">3</text>
<g transform="translate(437.55 1499.10)"><text class="u" x="-40.0" y="0">υ</text><path d="M-26.3 -10.6v20.4M-22.5 -10.6v20.4" stroke="#555" stroke-width="1.3" fill="none"/><text x="-15.7" y="0">/</text><text class="u" x="-6.7" y="0">υ</text><text class="sub" x="5.1" y="8" style="font-size:21px">th,e</text></g>
<g transform="translate(22 1244.80) rotate(-90)"><text class="u" x="-40.0" y="0">υ</text><path d="M-27.8 7h12.6M-21.5 7v-12.9" stroke="#000" stroke-width="1.5" fill="none"/><text x="-15.7" y="0">/</text><text class="u" x="-6.7" y="0">υ</text><text class="sub" x="5.1" y="8" style="font-size:21px">th,e</text></g>
<rect x="827.50" y="24.00" width="39.50" height="362.30" fill="url(#pg)"/>
<rect x="827.50" y="24.00" width="39.50" height="362.30" fill="none" stroke="#000" stroke-width="2"/>
<text x="874.50" y="36.46">–13</text>
<text x="874.50" y="139.68">–14</text>
<text x="874.50" y="242.90">–15</text>
<text x="874.50" y="346.12">–16</text>
<path d="M867.00 26.06h-5M867.00 129.28h-5M867.00 232.50h-5M867.00 335.72h-5" stroke="#000" stroke-width="2" fill="none"/>
<rect x="827.50" y="546.50" width="39.50" height="362.50" fill="url(#pg)"/>
<rect x="827.50" y="546.50" width="39.50" height="362.50" fill="none" stroke="#000" stroke-width="2"/>
<text x="878.00" y="565.04">1</text>
<text x="878.00" y="651.59">0.5</text>
<text x="878.00" y="738.15">0</text>
<text x="878.00" y="824.71">–0.5</text>
<text x="878.00" y="911.26">–1</text>
<path d="M867.00 554.64h-5M867.00 641.19h-5M867.00 727.75h-5M867.00 814.31h-5M867.00 900.86h-5" stroke="#000" stroke-width="2" fill="none"/>
<rect x="827.50" y="1064.00" width="39.50" height="361.60" fill="url(#pg)"/>
<rect x="827.50" y="1064.00" width="39.50" height="361.60" fill="none" stroke="#000" stroke-width="2"/>
<text x="878.00" y="1097.30">6</text>
<text x="878.00" y="1149.93">4</text>
<text x="878.00" y="1202.57">2</text>
<text x="878.00" y="1255.20">0</text>
<text x="878.00" y="1307.83">–2</text>
<text x="878.00" y="1360.47">–4</text>
<text x="878.00" y="1413.10">–6</text>
<path d="M867.00 1086.90h-5M867.00 1139.53h-5M867.00 1192.17h-5M867.00 1244.80h-5M867.00 1297.43h-5M867.00 1350.07h-5M867.00 1402.70h-5" stroke="#000" stroke-width="2" fill="none"/>
<text class="pl" x="-0.5" y="22.5" textLength="20.8" lengthAdjust="spacingAndGlyphs">a</text><text class="pl" x="-2.6" y="547">b</text><text class="pl" x="-1.2" y="1064">c</text>
<text x="872" y="529">×10<tspan class="sup" dy="-12">–30</tspan></text>
<text x="872" y="1047">×10<tspan class="sup" dy="-12">–32</tspan></text>
<text transform="translate(965 205) rotate(-90)" text-anchor="middle">log<tspan class="sub" dy="7">10</tspan><tspan dy="-7"> (</tspan><tspan font-style="italic">f</tspan><tspan class="sub" dy="7">0e</tspan><tspan dy="-7"> (m</tspan><tspan class="sup" dy="-12">–6</tspan><tspan dy="12"> s</tspan><tspan class="sup" dy="-12">3</tspan><tspan dy="12">))</tspan></text>
<g transform="translate(974.0 843.7) rotate(-90)"><text font-style="italic" x="-0.5" y="0">C</text><text x="19.5" y="1" font-style="italic" style="font-size:34px">′</text><text class="sub" font-style="italic" x="30.3" y="7.9">E</text><path d="M47.6 -3.2v21M51.2 -3.2v21" stroke="#666" stroke-width="1.3" fill="none"/><text class="sub" x="58" y="16.4">,e</text><text x="83" y="0">(<tspan font-weight="bold">v</tspan>) (kg m<tspan class="sup" dy="-12.9">–4</tspan><tspan dy="12.9">)</tspan></text></g>
<g transform="translate(952.7 1360.0) rotate(-90)"><text font-style="italic" x="-0.5" y="0">C</text><text x="19.5" y="1" font-style="italic" style="font-size:34px">′</text><text class="sub" font-style="italic" x="30.3" y="7.9">E</text><path d="M47.6 -3.2v21M51.2 -3.2v21" stroke="#666" stroke-width="1.3" fill="none"/><text class="sub" x="58" y="16.4">,e</text><text x="83" y="0">(<tspan font-weight="bold">v</tspan>) (kg m<tspan class="sup" dy="-12.9">–4</tspan><tspan dy="12.9">)</tspan></text></g>
</svg></body></html>
